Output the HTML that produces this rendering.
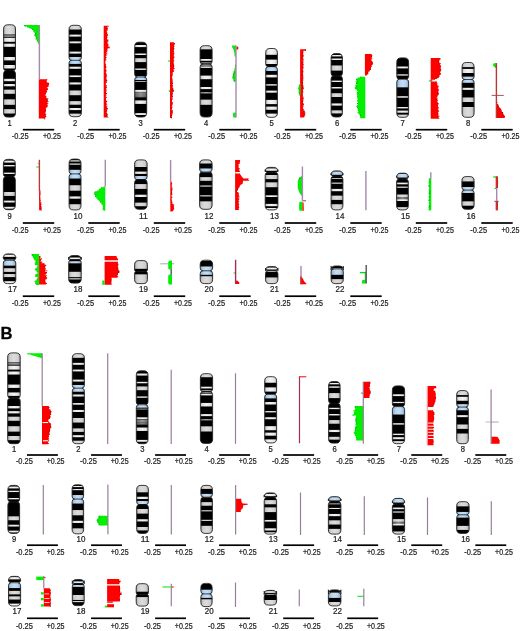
<!DOCTYPE html><html><head><meta charset="utf-8"><style>html,body{margin:0;padding:0;background:#fff;}svg{display:block;}text{font-family:"Liberation Sans",sans-serif;font-size:8.5px;fill:#1a1a1a;stroke:#1a1a1a;stroke-width:0.22px;fill-opacity:0.99;stroke-opacity:0.99;}</style></head><body>
<svg width="520" height="631" viewBox="0 0 520 631">
<defs>
<linearGradient id="gW" x1="0" x2="1" y1="0" y2="0"><stop offset="0" stop-color="#9a9a9a"/><stop offset="0.25" stop-color="#e4e4e4"/><stop offset="0.5" stop-color="#f4f4f4"/><stop offset="0.75" stop-color="#e4e4e4"/><stop offset="1" stop-color="#9a9a9a"/></linearGradient>
<linearGradient id="gG" x1="0" x2="1" y1="0" y2="0"><stop offset="0" stop-color="#8a8a8a"/><stop offset="0.25" stop-color="#d0d0d0"/><stop offset="0.5" stop-color="#dcdcdc"/><stop offset="0.75" stop-color="#d0d0d0"/><stop offset="1" stop-color="#8a8a8a"/></linearGradient>
<linearGradient id="gD" x1="0" x2="1" y1="0" y2="0"><stop offset="0" stop-color="#444"/><stop offset="0.5" stop-color="#8a8a8a"/><stop offset="1" stop-color="#444"/></linearGradient>
<linearGradient id="gM" x1="0" x2="1" y1="0" y2="0"><stop offset="0" stop-color="#555"/><stop offset="0.5" stop-color="#9c9c9c"/><stop offset="1" stop-color="#555"/></linearGradient>
<linearGradient id="gC" x1="0" x2="1" y1="0" y2="0"><stop offset="0" stop-color="#6f93b8"/><stop offset="0.3" stop-color="#b4d4f0"/><stop offset="0.5" stop-color="#c4def4"/><stop offset="0.7" stop-color="#b4d4f0"/><stop offset="1" stop-color="#6f93b8"/></linearGradient>
<filter id="tb" x="-5%" y="-5%" width="110%" height="110%"><feGaussianBlur stdDeviation="0.22"/></filter>
<filter id="soft" x="0" y="0" width="100%" height="100%" filterUnits="userSpaceOnUse"><feGaussianBlur stdDeviation="0.3"/></filter>
</defs>
<rect width="520" height="631" fill="#fff"/>
<g filter="url(#soft)">
<clipPath id="a1"><path d="M7.8,24.8L11.3,24.8Q15.5,24.8 15.5,29L15.5,68Q15.5,70.52 13.2,70.8Q15.5,71.08 15.5,73.6L15.5,112.9Q15.5,117.1 11.3,117.1L7.8,117.1Q3.6,117.1 3.6,112.9L3.6,73.6Q3.6,71.08 5.9,70.8Q3.6,70.52 3.6,68L3.6,29Q3.6,24.8 7.8,24.8Z"/></clipPath>
<g clip-path="url(#a1)">
<rect x="2.2" y="23.4" width="14.7" height="95.1" fill="url(#gW)"/>
<rect x="2.2" y="24.4" width="14.7" height="10.1" fill="url(#gG)"/>
<rect x="2.2" y="34.5" width="14.7" height="1.2" fill="#000"/>
<rect x="2.2" y="35.7" width="14.7" height="0.9" fill="url(#gG)"/>
<rect x="2.2" y="36.6" width="14.7" height="1.2" fill="#000"/>
<rect x="2.2" y="41.8" width="14.7" height="1.9" fill="#000"/>
<rect x="2.2" y="46.8" width="14.7" height="10.2" fill="#000"/>
<rect x="2.2" y="60.4" width="14.7" height="4.6" fill="#000"/>
<rect x="2.2" y="68.5" width="14.7" height="10.3" fill="#000"/>
<rect x="2.2" y="81.2" width="14.7" height="2.8" fill="#000"/>
<rect x="2.2" y="86.3" width="14.7" height="3.5" fill="#000"/>
<rect x="2.2" y="89.8" width="14.7" height="4" fill="url(#gG)"/>
<rect x="2.2" y="93.8" width="14.7" height="5.8" fill="#000"/>
<rect x="2.2" y="99.6" width="14.7" height="5.2" fill="url(#gG)"/>
<rect x="2.2" y="104.8" width="14.7" height="4.6" fill="#000"/>
<rect x="2.2" y="109.4" width="14.7" height="4.1" fill="url(#gG)"/>
<rect x="2.2" y="113.5" width="14.7" height="4" fill="#000"/>
</g>
<path d="M7.8,24.8L11.3,24.8Q15.5,24.8 15.5,29L15.5,68Q15.5,70.52 13.2,70.8Q15.5,71.08 15.5,73.6L15.5,112.9Q15.5,117.1 11.3,117.1L7.8,117.1Q3.6,117.1 3.6,112.9L3.6,73.6Q3.6,71.08 5.9,70.8Q3.6,70.52 3.6,68L3.6,29Q3.6,24.8 7.8,24.8Z" fill="none" stroke="#222" stroke-width="0.9"/>
<line x1="5.4" y1="70.8" x2="13.7" y2="70.8" stroke="#1a1a1a" stroke-width="0.8"/>
<path d="M24.09,25H39.4V25.8H24.09ZM24.81,25.8H39.4V26.6H24.81ZM26.97,26.6H39.4V27.4H26.97ZM28.68,27.4H39.4V28.2H28.68ZM30.56,28.2H39.4V29H30.56ZM32.02,29H39.4V29.8H32.02ZM33.16,29.8H39.4V30.6H33.16ZM33.27,30.6H39.4V31.4H33.27ZM34.19,31.4H39.4V32.2H34.19ZM34.33,32.2H39.4V33H34.33ZM35.11,33H39.4V33.8H35.11ZM35.16,33.8H39.4V34.6H35.16ZM34.4,34.6H39.4V35.4H34.4ZM34.87,35.4H39.4V36.2H34.87ZM34.93,36.2H39.4V37H34.93ZM35.81,37H39.4V37.8H35.81ZM35.96,37.8H39.4V38.6H35.96ZM35.65,38.6H39.4V39.4H35.65ZM36.89,39.4H39.4V40.2H36.89ZM36.75,40.2H39.4V41H36.75ZM37.33,41H39.4V41.8H37.33ZM38.21,41.8H39.4V42.6H38.21ZM37.84,42.6H39.4V43.4H37.84ZM38.59,43.4H39.4V44.2H38.59ZM39.1,44.2H39.4V44.8H39.1Z" fill="#00f000"/>
<path d="M24.09,25h0.9v0.9h-0.9ZM24.81,25.8h0.9v0.9h-0.9ZM32.02,29h0.9v0.9h-0.9ZM33.27,30.6h0.9v0.9h-0.9ZM35.11,33h0.9v0.9h-0.9ZM35.16,33.8h0.9v0.9h-0.9ZM34.4,34.6h0.9v0.9h-0.9ZM35.96,37.8h0.9v0.9h-0.9ZM35.65,38.6h0.9v0.9h-0.9ZM37.33,41h0.9v0.9h-0.9ZM39.1,44.2h0.9v0.9h-0.9Z" fill="#00a000" fill-opacity="0.8"/>
<path d="M38.8,79.3H47.18V80.1H38.8ZM38.8,80.1H46.69V80.9H38.8ZM38.8,80.9H46.68V81.7H38.8ZM38.8,81.7H46.92V82.5H38.8ZM38.8,82.5H48.52V83.3H38.8ZM38.8,83.3H49.14V84.1H38.8ZM38.8,84.1H48.94V84.9H38.8ZM38.8,84.9H48.63V85.7H38.8ZM38.8,85.7H48.9V86.5H38.8ZM38.8,86.5H48V87.3H38.8ZM38.8,87.3H47.02V88.1H38.8ZM38.8,88.1H47.81V88.9H38.8ZM38.8,88.9H48.05V89.7H38.8ZM38.8,89.7H47.31V90.5H38.8ZM38.8,90.5H46.69V91.3H38.8ZM38.8,91.3H46.88V92.1H38.8ZM38.8,92.1H46.39V92.9H38.8ZM38.8,92.9H46.03V93.7H38.8ZM38.8,93.7H45.99V94.5H38.8ZM38.8,94.5H45.21V95.3H38.8ZM38.8,95.3H45.68V96.1H38.8ZM38.8,96.1H46.39V96.9H38.8ZM38.8,96.9H46.12V97.7H38.8ZM38.8,97.7H46.83V98.5H38.8ZM38.8,98.5H48.2V99.3H38.8ZM38.8,99.3H47.36V100.1H38.8ZM38.8,100.1H47.87V100.9H38.8ZM38.8,100.9H48.39V101.7H38.8ZM38.8,101.7H47.24V102.5H38.8ZM38.8,102.5H47.62V103.3H38.8ZM38.8,103.3H48.35V104.1H38.8ZM38.8,104.1H47.45V104.9H38.8ZM38.8,104.9H47.51V105.7H38.8ZM38.8,105.7H47.68V106.5H38.8ZM38.8,106.5H47.46V107.3H38.8ZM38.8,107.3H46.5V108.1H38.8ZM38.8,108.1H45.89V108.9H38.8ZM38.8,108.9H45.7V109.7H38.8ZM38.8,109.7H45.83V110.5H38.8ZM38.8,110.5H45.98V111.3H38.8ZM38.8,111.3H45.37V112.1H38.8ZM38.8,112.1H45.47V112.9H38.8ZM38.8,112.9H45.29V113.7H38.8ZM38.8,113.7H46.17V114.5H38.8ZM38.8,114.5H45.51V115.3H38.8ZM38.8,115.3H45.6V116.1H38.8ZM38.8,116.1H46.29V116.9H38.8ZM38.8,116.9H45.59V117.7H38.8ZM38.8,117.7H44.89V118.5H38.8ZM38.8,118.5H45.25V118.6H38.8Z" fill="#ff0000"/>
<path d="M46.28,79.3h0.9v0.9h-0.9ZM48.24,83.3h0.9v0.9h-0.9ZM47.15,88.9h0.9v0.9h-0.9ZM45.98,91.3h0.9v0.9h-0.9ZM45.13,92.9h0.9v0.9h-0.9ZM47.3,98.5h0.9v0.9h-0.9ZM46.46,99.3h0.9v0.9h-0.9ZM47.49,100.9h0.9v0.9h-0.9ZM46.61,104.9h0.9v0.9h-0.9ZM44.8,108.9h0.9v0.9h-0.9ZM44.93,109.7h0.9v0.9h-0.9ZM45.08,110.5h0.9v0.9h-0.9ZM44.47,111.3h0.9v0.9h-0.9ZM45.27,113.7h0.9v0.9h-0.9ZM44.61,114.5h0.9v0.9h-0.9ZM44.7,115.3h0.9v0.9h-0.9ZM43.99,117.7h0.9v0.9h-0.9ZM44.35,118.5h0.9v0.9h-0.9Z" fill="#b00000" fill-opacity="0.8"/>
<line x1="39.4" y1="25" x2="39.4" y2="79.5" stroke="#a588ae" stroke-width="1.4"/>
<rect x="22.8" y="128.85" width="31.4" height="1.7" fill="#000"/>
<clipPath id="a2"><path d="M73.2,25.3L77.2,25.3Q81.4,25.3 81.4,29.5L81.4,57.5Q81.4,60.02 79.1,60.3Q81.4,60.58 81.4,63.1L81.4,112.5Q81.4,116.7 77.2,116.7L73.2,116.7Q69,116.7 69,112.5L69,63.1Q69,60.58 71.3,60.3Q69,60.02 69,57.5L69,29.5Q69,25.3 73.2,25.3Z"/></clipPath>
<g clip-path="url(#a2)">
<rect x="67.6" y="23.9" width="15.2" height="94.2" fill="url(#gW)"/>
<rect x="67.6" y="24.9" width="15.2" height="4.6" fill="url(#gG)"/>
<rect x="67.6" y="29.5" width="15.2" height="5.1" fill="#000"/>
<rect x="67.6" y="36.6" width="15.2" height="4.8" fill="#000"/>
<rect x="67.6" y="43.3" width="15.2" height="8.3" fill="#000"/>
<rect x="67.6" y="53.6" width="15.2" height="3.6" fill="#000"/>
<rect x="67.6" y="57.2" width="15.2" height="6.7" fill="url(#gC)"/>
<rect x="67.6" y="63.9" width="15.2" height="2.8" fill="#000"/>
<rect x="67.6" y="68.8" width="15.2" height="6.6" fill="#000"/>
<rect x="67.6" y="77.1" width="15.2" height="5.3" fill="#000"/>
<rect x="67.6" y="84.5" width="15.2" height="6.2" fill="#000"/>
<rect x="67.6" y="90.7" width="15.2" height="4.5" fill="url(#gG)"/>
<rect x="67.6" y="95.2" width="15.2" height="6.2" fill="#000"/>
<rect x="67.6" y="101.4" width="15.2" height="3.3" fill="url(#gG)"/>
<rect x="67.6" y="104.7" width="15.2" height="3.3" fill="#000"/>
<rect x="67.6" y="110.1" width="15.2" height="3.7" fill="#000"/>
<rect x="67.6" y="113.8" width="15.2" height="3.3" fill="url(#gG)"/>
</g>
<path d="M73.2,25.3L77.2,25.3Q81.4,25.3 81.4,29.5L81.4,57.5Q81.4,60.02 79.1,60.3Q81.4,60.58 81.4,63.1L81.4,112.5Q81.4,116.7 77.2,116.7L73.2,116.7Q69,116.7 69,112.5L69,63.1Q69,60.58 71.3,60.3Q69,60.02 69,57.5L69,29.5Q69,25.3 73.2,25.3Z" fill="none" stroke="#222" stroke-width="0.9"/>
<line x1="70.8" y1="60.3" x2="79.6" y2="60.3" stroke="#1a1a1a" stroke-width="0.8"/>
<path d="M103.7,25.8H108.54V26.6H103.7ZM103.7,26.6H107.06V27.4H103.7ZM103.7,27.4H107.69V28.2H103.7ZM103.7,28.2H107.61V29H103.7ZM103.7,29H107.5V29.8H103.7ZM103.7,29.8H107.96V30.6H103.7ZM103.7,30.6H106.92V31.4H103.7ZM103.7,31.4H106.69V32.2H103.7ZM103.7,32.2H107.28V33H103.7ZM103.7,33H107V33.8H103.7ZM103.7,33.8H107.81V34.6H103.7ZM103.7,34.6H107.91V35.4H103.7ZM103.7,35.4H107.9V36.2H103.7ZM103.7,36.2H106.99V37H103.7ZM103.7,37H107.24V37.8H103.7ZM103.7,37.8H106.75V38.6H103.7ZM103.7,38.6H107.16V39.4H103.7ZM103.7,39.4H108.32V40.2H103.7ZM103.7,40.2H108.35V41H103.7ZM103.7,41H108.44V41.8H103.7ZM103.7,41.8H107.33V42.6H103.7ZM103.7,42.6H107.35V43.4H103.7ZM103.7,43.4H108.1V44.2H103.7ZM103.7,44.2H108.51V45H103.7ZM103.7,45H108.44V45.8H103.7ZM103.7,45.8H107.94V46.6H103.7ZM103.7,46.6H109.66V47.4H103.7ZM103.7,47.4H109.8V48.2H103.7ZM103.7,48.2H107.69V49H103.7ZM103.7,49H107.23V49.8H103.7ZM103.7,49.8H108.03V50.6H103.7ZM103.7,50.6H106.91V51.4H103.7ZM103.7,51.4H107.21V52.2H103.7ZM103.7,52.2H106.13V53H103.7ZM103.7,53H107.27V53.8H103.7ZM103.7,53.8H105.96V54.6H103.7ZM103.7,54.6H107.19V55.4H103.7ZM103.7,55.4H106.09V56.2H103.7ZM103.7,56.2H105.62V57H103.7ZM103.7,57H106.84V57.8H103.7ZM103.7,57.8H106.01V58.6H103.7ZM103.7,58.6H105.74V59.4H103.7ZM103.7,59.4H106.25V60.2H103.7ZM103.7,60.2H105.34V61H103.7ZM103.7,61H105.37V61.8H103.7ZM103.7,61.8H105.45V62.6H103.7ZM103.7,62.6H105.29V63.4H103.7ZM103.7,63.4H105.69V64.2H103.7ZM103.7,64.2H106.11V65H103.7ZM103.7,65H105.91V65.8H103.7ZM103.7,65.8H106.1V66.6H103.7ZM103.7,66.6H106.2V67.4H103.7ZM103.7,67.4H106.13V68.2H103.7ZM103.7,68.2H105.49V69H103.7ZM103.7,69H105.83V69.8H103.7ZM103.7,69.8H106.76V70.6H103.7ZM103.7,70.6H106.13V71.4H103.7ZM103.7,71.4H106.51V72.2H103.7ZM103.7,72.2H105.8V73H103.7ZM103.7,73H106.03V73.8H103.7ZM103.7,73.8H106.88V74.6H103.7ZM103.7,74.6H106.55V75.4H103.7ZM103.7,75.4H107.12V76.2H103.7ZM103.7,76.2H106.65V77H103.7ZM103.7,77H106.49V77.8H103.7ZM103.7,77.8H106.41V78.6H103.7ZM103.7,78.6H106.45V79.4H103.7ZM103.7,79.4H106.82V80.2H103.7ZM103.7,80.2H107.2V81H103.7ZM103.7,81H106.58V81.8H103.7ZM103.7,81.8H107.02V82.6H103.7ZM103.7,82.6H105.86V83.4H103.7ZM103.7,83.4H105.78V84.2H103.7ZM103.7,84.2H105.77V85H103.7ZM103.7,85H106.9V85.8H103.7ZM103.7,85.8H105.89V86.6H103.7ZM103.7,86.6H106.69V87.4H103.7ZM103.7,87.4H107.03V88.2H103.7ZM103.7,88.2H105.97V89H103.7ZM103.7,89H106.24V89.8H103.7ZM103.7,89.8H107.19V90.6H103.7ZM103.7,90.6H105.87V91.4H103.7ZM103.7,91.4H106.44V92.2H103.7ZM103.7,92.2H105.94V93H103.7ZM103.7,93H106.79V93.8H103.7ZM103.7,93.8H106.53V94.6H103.7ZM103.7,94.6H105.68V95.4H103.7ZM103.7,95.4H106.66V96.2H103.7ZM103.7,96.2H105.77V97H103.7ZM103.7,97H106.94V97.8H103.7ZM103.7,97.8H105.85V98.6H103.7ZM103.7,98.6H105.75V99.4H103.7ZM103.7,99.4H106.13V100.2H103.7ZM103.7,100.2H106.43V101H103.7ZM103.7,101H107.13V101.8H103.7ZM103.7,101.8H106.12V102.6H103.7ZM103.7,102.6H106.86V103.4H103.7ZM103.7,103.4H106.16V104.2H103.7ZM103.7,104.2H107.18V105H103.7ZM103.7,105H106.27V105.8H103.7ZM103.7,105.8H107.32V106.6H103.7ZM103.7,106.6H106.86V107.4H103.7ZM103.7,107.4H107.25V108.2H103.7ZM103.7,108.2H107.91V109H103.7ZM103.7,109H107.51V109.8H103.7ZM103.7,109.8H106.64V110.6H103.7ZM103.7,110.6H107.1V111.4H103.7ZM103.7,111.4H106.48V112.2H103.7ZM103.7,112.2H106.44V113H103.7ZM103.7,113H106.9V113.8H103.7ZM103.7,113.8H107.67V114.6H103.7ZM103.7,114.6H107.3V115.4H103.7ZM103.7,115.4H107.34V116.2H103.7ZM103.7,116.2H107.48V117H103.7ZM103.7,117H108.48V117.5H103.7Z" fill="#ff0000"/>
<path d="M107.64,25.8h0.9v0.9h-0.9ZM106.79,27.4h0.9v0.9h-0.9ZM106.71,28.2h0.9v0.9h-0.9ZM106.1,33h0.9v0.9h-0.9ZM106.34,37h0.9v0.9h-0.9ZM105.85,37.8h0.9v0.9h-0.9ZM106.43,41.8h0.9v0.9h-0.9ZM106.45,42.6h0.9v0.9h-0.9ZM106.31,51.4h0.9v0.9h-0.9ZM105.23,52.2h0.9v0.9h-0.9ZM104.72,56.2h0.9v0.9h-0.9ZM105.35,59.4h0.9v0.9h-0.9ZM104.44,60.2h0.9v0.9h-0.9ZM105.3,66.6h0.9v0.9h-0.9ZM105.23,67.4h0.9v0.9h-0.9ZM105.13,73h0.9v0.9h-0.9ZM106.3,80.2h0.9v0.9h-0.9ZM106.12,81.8h0.9v0.9h-0.9ZM104.88,83.4h0.9v0.9h-0.9ZM105.79,86.6h0.9v0.9h-0.9ZM105.54,91.4h0.9v0.9h-0.9ZM105.04,92.2h0.9v0.9h-0.9ZM105.89,93h0.9v0.9h-0.9ZM104.78,94.6h0.9v0.9h-0.9ZM104.95,97.8h0.9v0.9h-0.9ZM105.23,99.4h0.9v0.9h-0.9ZM106.23,101h0.9v0.9h-0.9ZM105.26,103.4h0.9v0.9h-0.9ZM107.01,108.2h0.9v0.9h-0.9ZM105.74,109.8h0.9v0.9h-0.9ZM106.2,110.6h0.9v0.9h-0.9ZM105.58,111.4h0.9v0.9h-0.9ZM105.54,112.2h0.9v0.9h-0.9ZM106,113h0.9v0.9h-0.9ZM106.77,113.8h0.9v0.9h-0.9ZM106.4,114.6h0.9v0.9h-0.9ZM106.44,115.4h0.9v0.9h-0.9ZM106.58,116.2h0.9v0.9h-0.9Z" fill="#b00000" fill-opacity="0.8"/>
<rect x="88.3" y="128.85" width="31.4" height="1.7" fill="#000"/>
<clipPath id="a3"><path d="M138.9,42.2L142.5,42.2Q146.7,42.2 146.7,46.4L146.7,74.2Q146.7,76.72 144.4,77Q146.7,77.28 146.7,79.8L146.7,112.8Q146.7,117 142.5,117L138.9,117Q134.7,117 134.7,112.8L134.7,79.8Q134.7,77.28 137,77Q134.7,76.72 134.7,74.2L134.7,46.4Q134.7,42.2 138.9,42.2Z"/></clipPath>
<g clip-path="url(#a3)">
<rect x="133.3" y="40.8" width="14.8" height="77.6" fill="url(#gW)"/>
<rect x="133.3" y="41.8" width="14.8" height="3.2" fill="#000"/>
<rect x="133.3" y="47.1" width="14.8" height="6.4" fill="#000"/>
<rect x="133.3" y="55" width="14.8" height="3.5" fill="#000"/>
<rect x="133.3" y="58.5" width="14.8" height="3.6" fill="url(#gG)"/>
<rect x="133.3" y="62.1" width="14.8" height="6.4" fill="#000"/>
<rect x="133.3" y="69.9" width="14.8" height="6.4" fill="#000"/>
<rect x="133.3" y="76.3" width="14.8" height="3.7" fill="url(#gC)"/>
<rect x="133.3" y="80" width="14.8" height="1.1" fill="#000"/>
<rect x="133.3" y="81.8" width="14.8" height="8.1" fill="#000"/>
<rect x="133.3" y="91.9" width="14.8" height="0.7" fill="#000"/>
<rect x="133.3" y="92.6" width="14.8" height="2.2" fill="url(#gM)"/>
<rect x="133.3" y="94.8" width="14.8" height="0.6" fill="#000"/>
<rect x="133.3" y="95.4" width="14.8" height="1.8" fill="url(#gD)"/>
<rect x="133.3" y="97.2" width="14.8" height="3.2" fill="#000"/>
<rect x="133.3" y="103.9" width="14.8" height="9.2" fill="#000"/>
<rect x="133.3" y="115" width="14.8" height="2.4" fill="#000"/>
</g>
<path d="M138.9,42.2L142.5,42.2Q146.7,42.2 146.7,46.4L146.7,74.2Q146.7,76.72 144.4,77Q146.7,77.28 146.7,79.8L146.7,112.8Q146.7,117 142.5,117L138.9,117Q134.7,117 134.7,112.8L134.7,79.8Q134.7,77.28 137,77Q134.7,76.72 134.7,74.2L134.7,46.4Q134.7,42.2 138.9,42.2Z" fill="none" stroke="#222" stroke-width="0.9"/>
<line x1="136.5" y1="77" x2="144.9" y2="77" stroke="#1a1a1a" stroke-width="0.8"/>
<path d="M170,42.3H173.92V43.1H170ZM170,43.1H174.81V43.9H170ZM170,43.9H174.66V44.7H170ZM170,44.7H174.26V45.5H170ZM170,45.5H174.12V46.3H170ZM170,46.3H174.47V47.1H170ZM170,47.1H174.04V47.9H170ZM170,47.9H174.47V48.7H170ZM170,48.7H174.1V49.5H170ZM170,49.5H173.67V50.3H170ZM170,50.3H173.68V51.1H170ZM170,51.1H173.91V51.9H170ZM170,51.9H173.7V52.7H170ZM170,52.7H174.64V53.5H170ZM170,53.5H173.94V54.3H170ZM170,54.3H173.95V55.1H170ZM170,55.1H173.79V55.9H170ZM170,55.9H173.92V56.7H170ZM170,56.7H174.77V57.5H170ZM170,57.5H173.89V58.3H170ZM170,58.3H173.97V59.1H170ZM170,59.1H173.6V59.9H170ZM170,59.9H174.16V60.7H170ZM170,60.7H173.8V61.5H170ZM170,61.5H173.54V62.3H170ZM170,62.3H173.62V63.1H170ZM170,63.1H173.53V63.9H170ZM170,63.9H173.82V64.7H170ZM170,64.7H174.13V65.5H170ZM170,65.5H174.3V66.3H170ZM170,66.3H174.21V67.1H170ZM170,67.1H173.77V67.9H170ZM170,67.9H174.43V68.7H170ZM170,68.7H174.06V69.5H170ZM170,69.5H173.19V70.3H170ZM170,70.3H174.16V71.1H170ZM170,71.1H173.91V71.9H170ZM170,71.9H172.89V72.7H170ZM170,72.7H172.6V73.5H170ZM170,73.5H172.86V74.3H170ZM170,74.3H172.58V75.1H170ZM170,75.1H172.69V75.9H170ZM170,75.9H172.13V76.7H170ZM170,76.7H172V77.5H170ZM170,77.5H171.96V78.3H170ZM170,78.3H172.49V79.1H170ZM170,79.1H172.56V79.9H170ZM170,79.9H172.4V80.7H170ZM170,80.7H172.81V81.5H170ZM170,81.5H172.5V82.3H170ZM170,82.3H172.73V83.1H170ZM170,83.1H172.86V83.9H170ZM170,83.9H172.1V84.7H170ZM170,84.7H172.93V85.5H170ZM170,85.5H172.98V86.3H170ZM170,86.3H172.73V87.1H170ZM170,87.1H172.75V87.9H170ZM170,87.9H173.24V88.7H170ZM170,88.7H173.39V89.5H170ZM170,89.5H173.11V90.3H170ZM170,90.3H174.03V91.1H170ZM170,91.1H173.37V91.9H170ZM170,91.9H172.41V92.7H170ZM170,92.7H172.99V93.5H170ZM170,93.5H172.83V94.3H170ZM170,94.3H172.48V95.1H170ZM170,95.1H172.35V95.9H170ZM170,95.9H172.86V96.7H170ZM170,96.7H172.95V97.5H170ZM170,97.5H171.79V98.3H170ZM170,98.3H172.75V99.1H170ZM170,99.1H172.29V99.9H170ZM170,99.9H172V100.7H170ZM170,100.7H171.99V101.5H170ZM170,101.5H171.9V102.3H170ZM170,102.3H172.87V103.1H170ZM170,103.1H172.7V103.9H170ZM170,103.9H172.77V104.7H170ZM170,104.7H171.98V105.5H170ZM170,105.5H172.28V106.3H170ZM170,106.3H171.7V107.1H170ZM170,107.1H172.24V107.9H170ZM170,107.9H171.87V108.7H170ZM170,108.7H172.08V109.5H170ZM170,109.5H171.7V110.3H170ZM170,110.3H172.71V111.1H170ZM170,111.1H172.81V111.9H170ZM170,111.9H172.78V112.7H170ZM170,112.7H172.15V113.5H170ZM170,113.5H172.9V114.3H170ZM170,114.3H172.13V115.1H170ZM170,115.1H172.03V115.9H170ZM170,115.9H171.82V116.7H170ZM170,116.7H172.04V117.5H170ZM170,117.5H172V118H170Z" fill="#ff0000"/>
<path d="M173.91,43.1h0.9v0.9h-0.9ZM173.2,48.7h0.9v0.9h-0.9ZM172.77,49.5h0.9v0.9h-0.9ZM173.01,51.1h0.9v0.9h-0.9ZM173.04,53.5h0.9v0.9h-0.9ZM172.64,61.5h0.9v0.9h-0.9ZM172.63,63.1h0.9v0.9h-0.9ZM172.92,63.9h0.9v0.9h-0.9ZM172.87,67.1h0.9v0.9h-0.9ZM173.53,67.9h0.9v0.9h-0.9ZM171.23,75.9h0.9v0.9h-0.9ZM171.5,79.9h0.9v0.9h-0.9ZM171.83,82.3h0.9v0.9h-0.9ZM171.96,83.1h0.9v0.9h-0.9ZM171.2,83.9h0.9v0.9h-0.9ZM172.03,84.7h0.9v0.9h-0.9ZM172.49,88.7h0.9v0.9h-0.9ZM172.21,89.5h0.9v0.9h-0.9ZM173.13,90.3h0.9v0.9h-0.9ZM172.47,91.1h0.9v0.9h-0.9ZM171.51,91.9h0.9v0.9h-0.9ZM171.93,93.5h0.9v0.9h-0.9ZM171.45,95.1h0.9v0.9h-0.9ZM171.96,95.9h0.9v0.9h-0.9ZM171.39,99.1h0.9v0.9h-0.9ZM171.97,102.3h0.9v0.9h-0.9ZM171.38,105.5h0.9v0.9h-0.9ZM171.34,107.1h0.9v0.9h-0.9ZM170.97,107.9h0.9v0.9h-0.9ZM171.81,110.3h0.9v0.9h-0.9ZM171.88,111.9h0.9v0.9h-0.9ZM171.13,115.1h0.9v0.9h-0.9ZM171.1,117.5h0.9v0.9h-0.9Z" fill="#b00000" fill-opacity="0.8"/>
<line x1="168.2" y1="61" x2="170.2" y2="61" stroke="#00e000" stroke-width="1.2"/>
<line x1="168.8" y1="91" x2="170.2" y2="91" stroke="#00e000" stroke-width="1.6"/>
<rect x="153.8" y="128.85" width="31.4" height="1.7" fill="#000"/>
<clipPath id="a4"><path d="M204.3,45.7L207.9,45.7Q212.1,45.7 212.1,49.9L212.1,61.3Q212.1,63.82 209.8,64.1Q212.1,64.38 212.1,66.9L212.1,112.8Q212.1,117 207.9,117L204.3,117Q200.1,117 200.1,112.8L200.1,66.9Q200.1,64.38 202.4,64.1Q200.1,63.82 200.1,61.3L200.1,49.9Q200.1,45.7 204.3,45.7Z"/></clipPath>
<g clip-path="url(#a4)">
<rect x="198.7" y="44.3" width="14.8" height="74.1" fill="url(#gW)"/>
<rect x="198.7" y="45.3" width="14.8" height="4" fill="url(#gG)"/>
<rect x="198.7" y="49.3" width="14.8" height="9.7" fill="#000"/>
<rect x="198.7" y="60.8" width="14.8" height="1.8" fill="#000"/>
<rect x="198.7" y="62.6" width="14.8" height="0.8" fill="url(#gM)"/>
<rect x="198.7" y="63.4" width="14.8" height="1" fill="#000"/>
<rect x="198.7" y="64.4" width="14.8" height="1.4" fill="url(#gM)"/>
<rect x="198.7" y="65.8" width="14.8" height="0.6" fill="#000"/>
<rect x="198.7" y="67.9" width="14.8" height="7.7" fill="#000"/>
<rect x="198.7" y="79.2" width="14.8" height="7.8" fill="#000"/>
<rect x="198.7" y="89.1" width="14.8" height="3.1" fill="#000"/>
<rect x="198.7" y="92.2" width="14.8" height="1.2" fill="url(#gM)"/>
<rect x="198.7" y="93.4" width="14.8" height="6.4" fill="#000"/>
<rect x="198.7" y="99.8" width="14.8" height="5" fill="url(#gG)"/>
<rect x="198.7" y="104.8" width="14.8" height="12.6" fill="#000"/>
</g>
<path d="M204.3,45.7L207.9,45.7Q212.1,45.7 212.1,49.9L212.1,61.3Q212.1,63.82 209.8,64.1Q212.1,64.38 212.1,66.9L212.1,112.8Q212.1,117 207.9,117L204.3,117Q200.1,117 200.1,112.8L200.1,66.9Q200.1,64.38 202.4,64.1Q200.1,63.82 200.1,61.3L200.1,49.9Q200.1,45.7 204.3,45.7Z" fill="none" stroke="#222" stroke-width="0.9"/>
<line x1="201.9" y1="64.1" x2="210.3" y2="64.1" stroke="#1a1a1a" stroke-width="0.8"/>
<polygon points="236,45.4 232.2,45.5 231.8,46.5 232.6,48 233.7,50 234.4,53 234.6,56.4 236,56.6" fill="#00f000"/>
<path d="M235.13,64.8H236V65.6H235.13ZM234.87,65.6H236V66.4H234.87ZM235.13,66.4H236V67.2H235.13ZM234.78,67.2H236V68H234.78ZM234.87,68H236V68.8H234.87ZM234.54,68.8H236V69.6H234.54ZM234.39,69.6H236V70.4H234.39ZM234.24,70.4H236V71.2H234.24ZM233.63,71.2H236V72H233.63ZM233.87,72H236V72.8H233.87ZM233.24,72.8H236V73.6H233.24ZM232.84,73.6H236V74.4H232.84ZM233.24,74.4H236V75.2H233.24ZM232.83,75.2H236V76H232.83ZM232.67,76H236V76.8H232.67ZM232.44,76.8H236V77.6H232.44ZM232.56,77.6H236V78.4H232.56ZM232.88,78.4H236V79.2H232.88ZM233.54,79.2H236V80H233.54ZM233.59,80H236V80.8H233.59ZM233.77,80.8H236V81.5H233.77Z" fill="#00f000"/>
<path d="M235.13,64.8h0.9v0.9h-0.9ZM234.54,68.8h0.9v0.9h-0.9ZM233.63,71.2h0.9v0.9h-0.9ZM233.87,72h0.9v0.9h-0.9ZM233.24,72.8h0.9v0.9h-0.9ZM233.24,74.4h0.9v0.9h-0.9ZM232.83,75.2h0.9v0.9h-0.9ZM232.44,76.8h0.9v0.9h-0.9ZM232.88,78.4h0.9v0.9h-0.9ZM233.59,80h0.9v0.9h-0.9ZM233.77,80.8h0.9v0.9h-0.9Z" fill="#00a000" fill-opacity="0.8"/>
<polygon points="236,112.5 233.2,112.8 233,115.5 233.5,117.4 236,117.4" fill="#00f000"/>
<polygon points="236.2,46.6 238.3,46.8 238.3,49.4 236.2,49.6" fill="#ff0000"/>
<line x1="236" y1="45.4" x2="236" y2="117.4" stroke="#a588ae" stroke-width="1.4"/>
<rect x="219.3" y="128.85" width="31.4" height="1.7" fill="#000"/>
<clipPath id="a5"><path d="M269.9,48.5L273.2,48.5Q277.4,48.5 277.4,52.7L277.4,63.9Q277.4,66.42 275.1,66.7Q277.4,66.98 277.4,69.5L277.4,113.1Q277.4,117.3 273.2,117.3L269.9,117.3Q265.7,117.3 265.7,113.1L265.7,69.5Q265.7,66.98 268,66.7Q265.7,66.42 265.7,63.9L265.7,52.7Q265.7,48.5 269.9,48.5Z"/></clipPath>
<g clip-path="url(#a5)">
<rect x="264.3" y="47.1" width="14.5" height="71.6" fill="url(#gW)"/>
<rect x="264.3" y="54.8" width="14.5" height="4.8" fill="#000"/>
<rect x="264.3" y="64" width="14.5" height="3.1" fill="#000"/>
<rect x="264.3" y="67.1" width="14.5" height="3.9" fill="url(#gC)"/>
<rect x="264.3" y="71" width="14.5" height="3.8" fill="#000"/>
<rect x="264.3" y="77.4" width="14.5" height="6.8" fill="#000"/>
<rect x="264.3" y="85.6" width="14.5" height="5" fill="#000"/>
<rect x="264.3" y="92.7" width="14.5" height="7.2" fill="#000"/>
<rect x="264.3" y="104.1" width="14.5" height="2.5" fill="#000"/>
<rect x="264.3" y="109.8" width="14.5" height="3.8" fill="#000"/>
</g>
<path d="M269.9,48.5L273.2,48.5Q277.4,48.5 277.4,52.7L277.4,63.9Q277.4,66.42 275.1,66.7Q277.4,66.98 277.4,69.5L277.4,113.1Q277.4,117.3 273.2,117.3L269.9,117.3Q265.7,117.3 265.7,113.1L265.7,69.5Q265.7,66.98 268,66.7Q265.7,66.42 265.7,63.9L265.7,52.7Q265.7,48.5 269.9,48.5Z" fill="none" stroke="#222" stroke-width="0.9"/>
<line x1="267.5" y1="66.7" x2="275.6" y2="66.7" stroke="#1a1a1a" stroke-width="0.8"/>
<path d="M300.1,49.2H305.94V50H300.1ZM300.1,50H305.84V50.8H300.1ZM300.1,50.8H303.35V51.6H300.1ZM300.1,51.6H303.52V52.4H300.1ZM300.1,52.4H303.17V53.2H300.1ZM300.1,53.2H303.11V54H300.1ZM300.1,54H302.78V54.8H300.1ZM300.1,54.8H303.67V55.6H300.1ZM300.1,55.6H303.19V56.4H300.1ZM300.1,56.4H303.53V57.2H300.1ZM300.1,57.2H302.92V58H300.1ZM300.1,58H303.03V58.8H300.1ZM300.1,58.8H303.57V59.6H300.1ZM300.1,59.6H303.47V60.4H300.1ZM300.1,60.4H302.65V61.2H300.1ZM300.1,61.2H303.53V62H300.1ZM300.1,62H303.24V62.8H300.1ZM300.1,62.8H303.06V63.6H300.1ZM300.1,63.6H303.51V64.4H300.1ZM300.1,64.4H303.67V65.2H300.1ZM300.1,65.2H302.82V66H300.1ZM300.1,66H303.25V66.8H300.1ZM300.1,66.8H303.69V67.6H300.1ZM300.1,67.6H303.41V68.4H300.1ZM300.1,68.4H303.23V69.2H300.1ZM300.1,69.2H302.83V70H300.1ZM300.1,70H303.02V70.8H300.1ZM300.1,70.8H303.41V71.6H300.1ZM300.1,71.6H302.87V72.4H300.1ZM300.1,72.4H303.35V73.2H300.1ZM300.1,73.2H302.8V74H300.1ZM300.1,74H303.19V74.8H300.1ZM300.1,74.8H303.03V75.6H300.1ZM300.1,75.6H303.22V76.4H300.1ZM300.1,76.4H302.9V77.2H300.1ZM300.1,77.2H303.53V78H300.1ZM300.1,78H303.43V78.8H300.1ZM300.1,78.8H302.76V79.6H300.1ZM300.1,79.6H303.46V80.4H300.1ZM300.1,80.4H302.82V81.2H300.1ZM300.1,81.2H303.03V82H300.1ZM300.1,82H302.97V82.8H300.1ZM300.1,82.8H303.23V83.6H300.1ZM300.1,83.6H302.81V84.4H300.1ZM300.1,84.4H302.93V85.2H300.1ZM300.1,85.2H303.29V86H300.1ZM300.1,86H303.43V86.8H300.1ZM300.1,86.8H303.15V87.6H300.1ZM300.1,87.6H303.63V88.4H300.1ZM300.1,88.4H303.5V89.2H300.1ZM300.1,89.2H302.91V90H300.1ZM300.1,90H302.99V90.8H300.1ZM300.1,90.8H303.18V91.6H300.1ZM300.1,91.6H302.9V92.4H300.1ZM300.1,92.4H303.34V93.2H300.1ZM300.1,93.2H302.81V94H300.1ZM300.1,94H302.87V94.8H300.1ZM300.1,94.8H302.79V95.6H300.1ZM300.1,95.6H302.7V96.4H300.1ZM300.1,96.4H303.53V97.2H300.1ZM300.1,97.2H303.36V98H300.1ZM300.1,98H303.55V98.8H300.1ZM300.1,98.8H302.79V99.6H300.1ZM300.1,99.6H303.35V100.4H300.1ZM300.1,100.4H303.29V101.2H300.1ZM300.1,101.2H303.02V102H300.1ZM300.1,102H302.84V102.8H300.1ZM300.1,102.8H302.98V103.6H300.1ZM300.1,103.6H303.68V104.4H300.1ZM300.1,104.4H303.71V105.2H300.1ZM300.1,105.2H303.12V106H300.1ZM300.1,106H303.61V106.8H300.1ZM300.1,106.8H302.87V107.6H300.1ZM300.1,107.6H303.21V108.4H300.1ZM300.1,108.4H303.06V109.2H300.1ZM300.1,109.2H303.78V110H300.1ZM300.1,110H303.66V110.8H300.1ZM300.1,110.8H304.73V111.6H300.1ZM300.1,111.6H304.43V112.4H300.1ZM300.1,112.4H305.32V113.2H300.1ZM300.1,113.2H305.15V114H300.1ZM300.1,114H304.74V114.8H300.1ZM300.1,114.8H305.36V115.6H300.1ZM300.1,115.6H304.66V116.4H300.1ZM300.1,116.4H304.16V117.2H300.1ZM300.1,117.2H303.14V117.4H300.1Z" fill="#ff0000"/>
<path d="M305.04,49.2h0.9v0.9h-0.9ZM304.94,50h0.9v0.9h-0.9ZM302.21,53.2h0.9v0.9h-0.9ZM301.88,54h0.9v0.9h-0.9ZM302.77,54.8h0.9v0.9h-0.9ZM302.63,56.4h0.9v0.9h-0.9ZM302.02,57.2h0.9v0.9h-0.9ZM302.57,59.6h0.9v0.9h-0.9ZM302.34,62h0.9v0.9h-0.9ZM302.77,64.4h0.9v0.9h-0.9ZM301.92,65.2h0.9v0.9h-0.9ZM302.51,70.8h0.9v0.9h-0.9ZM301.97,71.6h0.9v0.9h-0.9ZM301.9,73.2h0.9v0.9h-0.9ZM302.13,74.8h0.9v0.9h-0.9ZM302.32,75.6h0.9v0.9h-0.9ZM301.86,78.8h0.9v0.9h-0.9ZM301.92,80.4h0.9v0.9h-0.9ZM302.07,82h0.9v0.9h-0.9ZM301.91,83.6h0.9v0.9h-0.9ZM302.39,85.2h0.9v0.9h-0.9ZM302.25,86.8h0.9v0.9h-0.9ZM302.73,87.6h0.9v0.9h-0.9ZM302.6,88.4h0.9v0.9h-0.9ZM302.28,90.8h0.9v0.9h-0.9ZM301.89,94.8h0.9v0.9h-0.9ZM302.65,98h0.9v0.9h-0.9ZM302.45,99.6h0.9v0.9h-0.9ZM302.12,101.2h0.9v0.9h-0.9ZM301.94,102h0.9v0.9h-0.9ZM302.78,103.6h0.9v0.9h-0.9ZM302.81,104.4h0.9v0.9h-0.9ZM302.88,109.2h0.9v0.9h-0.9ZM303.83,110.8h0.9v0.9h-0.9ZM303.53,111.6h0.9v0.9h-0.9ZM304.42,112.4h0.9v0.9h-0.9ZM303.84,114h0.9v0.9h-0.9ZM303.26,116.4h0.9v0.9h-0.9Z" fill="#b00000" fill-opacity="0.8"/>
<path d="M299.36,84.3H300.4V85.1H299.36ZM299.21,85.1H300.4V85.9H299.21ZM298.61,85.9H300.4V86.7H298.61ZM298.87,86.7H300.4V87.5H298.87ZM298.35,87.5H300.4V88.3H298.35ZM298.39,88.3H300.4V89.1H298.39ZM298.73,89.1H300.4V89.9H298.73ZM298.7,89.9H300.4V90.7H298.7ZM298.75,90.7H300.4V91.5H298.75ZM298.66,91.5H300.4V92.3H298.66ZM298.68,92.3H300.4V93.1H298.68ZM299.17,93.1H300.4V93.9H299.17ZM299.03,93.9H300.4V94.7H299.03ZM299.21,94.7H300.4V95H299.21Z" fill="#00f000"/>
<path d="M299.21,85.1h0.9v0.9h-0.9ZM298.35,87.5h0.9v0.9h-0.9ZM298.73,89.1h0.9v0.9h-0.9ZM298.66,91.5h0.9v0.9h-0.9ZM299.17,93.1h0.9v0.9h-0.9ZM299.21,94.7h0.9v0.9h-0.9Z" fill="#00a000" fill-opacity="0.8"/>
<rect x="284.8" y="128.85" width="31.4" height="1.7" fill="#000"/>
<clipPath id="a6"><path d="M335.3,53.6L338.2,53.6Q342.4,53.6 342.4,57.8L342.4,73.2Q342.4,75.72 340.1,76Q342.4,76.28 342.4,78.8L342.4,112.8Q342.4,117 338.2,117L335.3,117Q331.1,117 331.1,112.8L331.1,78.8Q331.1,76.28 333.4,76Q331.1,75.72 331.1,73.2L331.1,57.8Q331.1,53.6 335.3,53.6Z"/></clipPath>
<g clip-path="url(#a6)">
<rect x="329.7" y="52.2" width="14.1" height="66.2" fill="url(#gW)"/>
<rect x="329.7" y="53.2" width="14.1" height="1.8" fill="#000"/>
<rect x="329.7" y="56.4" width="14.1" height="2.1" fill="#000"/>
<rect x="329.7" y="60" width="14.1" height="5.7" fill="#000"/>
<rect x="329.7" y="65.7" width="14.1" height="4.9" fill="url(#gG)"/>
<rect x="329.7" y="70.6" width="14.1" height="10" fill="#000"/>
<rect x="329.7" y="82" width="14.1" height="5" fill="#000"/>
<rect x="329.7" y="88.5" width="14.1" height="5" fill="#000"/>
<rect x="329.7" y="93.5" width="14.1" height="3.5" fill="url(#gG)"/>
<rect x="329.7" y="97" width="14.1" height="6.4" fill="#000"/>
<rect x="329.7" y="105.6" width="14.1" height="5" fill="#000"/>
<rect x="329.7" y="110.6" width="14.1" height="2.8" fill="url(#gG)"/>
<rect x="329.7" y="113.4" width="14.1" height="4" fill="#000"/>
</g>
<path d="M335.3,53.6L338.2,53.6Q342.4,53.6 342.4,57.8L342.4,73.2Q342.4,75.72 340.1,76Q342.4,76.28 342.4,78.8L342.4,112.8Q342.4,117 338.2,117L335.3,117Q331.1,117 331.1,112.8L331.1,78.8Q331.1,76.28 333.4,76Q331.1,75.72 331.1,73.2L331.1,57.8Q331.1,53.6 335.3,53.6Z" fill="none" stroke="#222" stroke-width="0.9"/>
<line x1="332.9" y1="76" x2="340.6" y2="76" stroke="#1a1a1a" stroke-width="0.8"/>
<path d="M364.9,53.9H371.64V54.7H364.9ZM364.9,54.7H371.99V55.5H364.9ZM364.9,55.5H372.66V56.3H364.9ZM364.9,56.3H371.92V57.1H364.9ZM364.9,57.1H371.72V57.9H364.9ZM364.9,57.9H372.32V58.7H364.9ZM364.9,58.7H371.42V59.5H364.9ZM364.9,59.5H371.54V60.3H364.9ZM364.9,60.3H371.49V61.1H364.9ZM364.9,61.1H372.13V61.9H364.9ZM364.9,61.9H372.87V62.7H364.9ZM364.9,62.7H372.7V63.5H364.9ZM364.9,63.5H373.07V64.3H364.9ZM364.9,64.3H372.11V65.1H364.9ZM364.9,65.1H371.56V65.9H364.9ZM364.9,65.9H371.67V66.7H364.9ZM364.9,66.7H371.11V67.5H364.9ZM364.9,67.5H370.9V68.3H364.9ZM364.9,68.3H370.92V69.1H364.9ZM364.9,69.1H370.8V69.9H364.9ZM364.9,69.9H369.8V70.7H364.9ZM364.9,70.7H369.79V71.5H364.9ZM364.9,71.5H368.37V72.3H364.9ZM364.9,72.3H368.01V73.1H364.9ZM364.9,73.1H368.42V73.9H364.9ZM364.9,73.9H367.65V74.7H364.9ZM364.9,74.7H366.79V75.5H364.9ZM364.9,75.5H365.39V75.6H364.9Z" fill="#ff0000"/>
<path d="M371.02,56.3h0.9v0.9h-0.9ZM371.23,61.1h0.9v0.9h-0.9ZM371.97,61.9h0.9v0.9h-0.9ZM372.17,63.5h0.9v0.9h-0.9ZM371.21,64.3h0.9v0.9h-0.9ZM370.77,65.9h0.9v0.9h-0.9ZM370,67.5h0.9v0.9h-0.9ZM369.9,69.1h0.9v0.9h-0.9ZM367.47,71.5h0.9v0.9h-0.9ZM367.11,72.3h0.9v0.9h-0.9Z" fill="#b00000" fill-opacity="0.8"/>
<path d="M359.92,76.7H365.3V77.5H359.92ZM357.86,77.5H365.3V78.3H357.86ZM356.78,78.3H365.3V79.1H356.78ZM356.19,79.1H365.3V79.9H356.19ZM356.28,79.9H365.3V80.7H356.28ZM356.76,80.7H365.3V81.5H356.76ZM355.8,81.5H365.3V82.3H355.8ZM356.66,82.3H365.3V83.1H356.66ZM356.08,83.1H365.3V83.9H356.08ZM356.62,83.9H365.3V84.7H356.62ZM355.36,84.7H365.3V85.5H355.36ZM355.58,85.5H365.3V86.3H355.58ZM355.68,86.3H365.3V87.1H355.68ZM354.77,87.1H365.3V87.9H354.77ZM354.87,87.9H365.3V88.7H354.87ZM355.67,88.7H365.3V89.5H355.67ZM356.62,89.5H365.3V90.3H356.62ZM356.83,90.3H365.3V91.1H356.83ZM357.57,91.1H365.3V91.9H357.57ZM356.9,91.9H365.3V92.7H356.9ZM357.44,92.7H365.3V93.5H357.44ZM356.46,93.5H365.3V94.3H356.46ZM357.08,94.3H365.3V95.1H357.08ZM357.13,95.1H365.3V95.9H357.13ZM357.3,95.9H365.3V96.7H357.3ZM356.77,96.7H365.3V97.5H356.77ZM357.74,97.5H365.3V98.3H357.74ZM357.07,98.3H365.3V99.1H357.07ZM357.56,99.1H365.3V99.9H357.56ZM357.28,99.9H365.3V100.7H357.28ZM357.74,100.7H365.3V101.5H357.74ZM357.1,101.5H365.3V102.3H357.1ZM358.01,102.3H365.3V103.1H358.01ZM357.1,103.1H365.3V103.9H357.1ZM358.08,103.9H365.3V104.7H358.08ZM357.26,104.7H365.3V105.5H357.26ZM356.99,105.5H365.3V106.3H356.99ZM356.07,106.3H365.3V107.1H356.07ZM357,107.1H365.3V107.9H357ZM357.72,107.9H365.3V108.7H357.72ZM357.51,108.7H365.3V109.5H357.51ZM358.42,109.5H365.3V110.3H358.42ZM357.68,110.3H365.3V111.1H357.68ZM358.18,111.1H365.3V111.9H358.18ZM357.7,111.9H365.3V112.7H357.7ZM358.67,112.7H365.3V113.5H358.67ZM358.2,113.5H365.3V114.3H358.2ZM359.68,114.3H365.3V115.1H359.68ZM360.14,115.1H365.3V115.9H360.14ZM360.07,115.9H365.3V116.7H360.07ZM360.38,116.7H365.3V117.5H360.38ZM360.35,117.5H365.3V118.3H360.35Z" fill="#00f000"/>
<path d="M359.92,76.7h0.9v0.9h-0.9ZM356.19,79.1h0.9v0.9h-0.9ZM356.76,80.7h0.9v0.9h-0.9ZM355.8,81.5h0.9v0.9h-0.9ZM356.66,82.3h0.9v0.9h-0.9ZM356.08,83.1h0.9v0.9h-0.9ZM355.36,84.7h0.9v0.9h-0.9ZM355.68,86.3h0.9v0.9h-0.9ZM354.87,87.9h0.9v0.9h-0.9ZM356.9,91.9h0.9v0.9h-0.9ZM357.44,92.7h0.9v0.9h-0.9ZM357.3,95.9h0.9v0.9h-0.9ZM357.28,99.9h0.9v0.9h-0.9ZM357.1,103.1h0.9v0.9h-0.9ZM357.26,104.7h0.9v0.9h-0.9ZM357,107.1h0.9v0.9h-0.9ZM357.72,107.9h0.9v0.9h-0.9ZM358.42,109.5h0.9v0.9h-0.9ZM357.7,111.9h0.9v0.9h-0.9ZM359.68,114.3h0.9v0.9h-0.9ZM360.14,115.1h0.9v0.9h-0.9ZM360.38,116.7h0.9v0.9h-0.9Z" fill="#00a000" fill-opacity="0.8"/>
<rect x="350.3" y="128.85" width="31.4" height="1.7" fill="#000"/>
<clipPath id="a7"><path d="M401,57.9L404.4,57.9Q408.6,57.9 408.6,62.1L408.6,76.4Q408.6,78.92 406.3,79.2Q408.6,79.48 408.6,82L408.6,113.1Q408.6,117.3 404.4,117.3L401,117.3Q396.8,117.3 396.8,113.1L396.8,82Q396.8,79.48 399.1,79.2Q396.8,78.92 396.8,76.4L396.8,62.1Q396.8,57.9 401,57.9Z"/></clipPath>
<g clip-path="url(#a7)">
<rect x="395.4" y="56.5" width="14.6" height="62.2" fill="url(#gW)"/>
<rect x="395.4" y="57.5" width="14.6" height="9" fill="#000"/>
<rect x="395.4" y="68.4" width="14.6" height="5.9" fill="#000"/>
<rect x="395.4" y="75.6" width="14.6" height="3.6" fill="#000"/>
<rect x="395.4" y="79.2" width="14.6" height="8.1" fill="url(#gC)"/>
<rect x="395.4" y="87.3" width="14.6" height="8.9" fill="#000"/>
<rect x="395.4" y="97.7" width="14.6" height="9.3" fill="#000"/>
<rect x="395.4" y="108.4" width="14.6" height="2.2" fill="#000"/>
<rect x="395.4" y="112.7" width="14.6" height="2.1" fill="#000"/>
<rect x="395.4" y="114.8" width="14.6" height="2.9" fill="url(#gG)"/>
</g>
<path d="M401,57.9L404.4,57.9Q408.6,57.9 408.6,62.1L408.6,76.4Q408.6,78.92 406.3,79.2Q408.6,79.48 408.6,82L408.6,113.1Q408.6,117.3 404.4,117.3L401,117.3Q396.8,117.3 396.8,113.1L396.8,82Q396.8,79.48 399.1,79.2Q396.8,78.92 396.8,76.4L396.8,62.1Q396.8,57.9 401,57.9Z" fill="none" stroke="#222" stroke-width="0.9"/>
<line x1="398.6" y1="79.2" x2="406.8" y2="79.2" stroke="#1a1a1a" stroke-width="0.8"/>
<path d="M430.7,58.1H440.47V58.9H430.7ZM430.7,58.9H440.41V59.7H430.7ZM430.7,59.7H439.68V60.5H430.7ZM430.7,60.5H439.04V61.3H430.7ZM430.7,61.3H439.36V62.1H430.7ZM430.7,62.1H439.15V62.9H430.7ZM430.7,62.9H440.57V63.7H430.7ZM430.7,63.7H440.15V64.5H430.7ZM430.7,64.5H440.11V65.3H430.7ZM430.7,65.3H440.61V66.1H430.7ZM430.7,66.1H440.76V66.9H430.7ZM430.7,66.9H440.88V67.7H430.7ZM430.7,67.7H440.61V68.5H430.7ZM430.7,68.5H440.6V69.3H430.7ZM430.7,69.3H441.14V70.1H430.7ZM430.7,70.1H440.99V70.9H430.7ZM430.7,70.9H440.77V71.7H430.7ZM430.7,71.7H440.06V72.5H430.7ZM430.7,72.5H440.36V73.3H430.7ZM430.7,73.3H440.8V74.1H430.7ZM430.7,74.1H440.59V74.9H430.7ZM430.7,74.9H439.42V75.7H430.7ZM430.7,75.7H439.57V76.5H430.7ZM430.7,76.5H439.06V77.3H430.7ZM430.7,77.3H438.18V78.1H430.7ZM430.7,78.1H437V78.9H430.7ZM430.7,78.9H434.84V79.7H430.7ZM430.7,79.7H433.23V79.8H430.7Z" fill="#ff0000"/>
<path d="M438.14,60.5h0.9v0.9h-0.9ZM438.25,62.1h0.9v0.9h-0.9ZM439.67,62.9h0.9v0.9h-0.9ZM439.71,65.3h0.9v0.9h-0.9ZM439.86,66.1h0.9v0.9h-0.9ZM439.71,67.7h0.9v0.9h-0.9ZM440.24,69.3h0.9v0.9h-0.9ZM439.9,73.3h0.9v0.9h-0.9ZM438.67,75.7h0.9v0.9h-0.9ZM438.16,76.5h0.9v0.9h-0.9ZM437.28,77.3h0.9v0.9h-0.9ZM433.94,78.9h0.9v0.9h-0.9ZM432.33,79.7h0.9v0.9h-0.9Z" fill="#b00000" fill-opacity="0.8"/>
<path d="M430.7,81.4H436.67V82.2H430.7ZM430.7,82.2H436.89V83H430.7ZM430.7,83H437.57V83.8H430.7ZM430.7,83.8H437.09V84.6H430.7ZM430.7,84.6H437.39V85.4H430.7ZM430.7,85.4H438.37V86.2H430.7ZM430.7,86.2H438.75V87H430.7ZM430.7,87H438.4V87.8H430.7ZM430.7,87.8H437.83V88.6H430.7ZM430.7,88.6H438.46V89.4H430.7ZM430.7,89.4H438.66V90.2H430.7ZM430.7,90.2H438.89V91H430.7ZM430.7,91H438.13V91.8H430.7ZM430.7,91.8H438.23V92.6H430.7ZM430.7,92.6H438.59V93.4H430.7ZM430.7,93.4H438.68V94.2H430.7ZM430.7,94.2H438.47V95H430.7ZM430.7,95H438.18V95.8H430.7ZM430.7,95.8H437.42V96.6H430.7ZM430.7,96.6H436.64V97.4H430.7ZM430.7,97.4H437.45V98.2H430.7ZM430.7,98.2H437.43V99H430.7ZM430.7,99H437.08V99.8H430.7ZM430.7,99.8H437.83V100.6H430.7ZM430.7,100.6H437.24V101.4H430.7ZM430.7,101.4H437.55V102.2H430.7ZM430.7,102.2H437.88V103H430.7ZM430.7,103H438.42V103.8H430.7ZM430.7,103.8H438.48V104.6H430.7ZM430.7,104.6H437.92V105.4H430.7ZM430.7,105.4H438.07V106.2H430.7ZM430.7,106.2H437.92V107H430.7ZM430.7,107H438.87V107.8H430.7ZM430.7,107.8H438.33V108.6H430.7ZM430.7,108.6H437.89V109.4H430.7ZM430.7,109.4H438.57V110.2H430.7ZM430.7,110.2H438.7V111H430.7ZM430.7,111H439.09V111.8H430.7ZM430.7,111.8H438.3V112.6H430.7ZM430.7,112.6H438.09V113.4H430.7ZM430.7,113.4H438.56V114.2H430.7ZM430.7,114.2H438.18V115H430.7ZM430.7,115H438.16V115.8H430.7ZM430.7,115.8H439.31V116.6H430.7ZM430.7,116.6H438.46V117.4H430.7ZM430.7,117.4H438.87V118.2H430.7ZM430.7,118.2H439.26V118.7H430.7Z" fill="#ff0000"/>
<path d="M435.77,81.4h0.9v0.9h-0.9ZM437.76,89.4h0.9v0.9h-0.9ZM437.33,91.8h0.9v0.9h-0.9ZM437.69,92.6h0.9v0.9h-0.9ZM437.78,93.4h0.9v0.9h-0.9ZM436.52,95.8h0.9v0.9h-0.9ZM435.74,96.6h0.9v0.9h-0.9ZM436.18,99h0.9v0.9h-0.9ZM436.93,99.8h0.9v0.9h-0.9ZM437.52,103h0.9v0.9h-0.9ZM437.17,105.4h0.9v0.9h-0.9ZM437.43,107.8h0.9v0.9h-0.9ZM437.66,113.4h0.9v0.9h-0.9ZM438.41,115.8h0.9v0.9h-0.9ZM438.36,118.2h0.9v0.9h-0.9Z" fill="#b00000" fill-opacity="0.8"/>
<line x1="428.8" y1="81" x2="431" y2="81" stroke="#00e000" stroke-width="1"/>
<line x1="431.1" y1="79.5" x2="431.1" y2="81.6" stroke="#a03050" stroke-width="1.4"/>
<rect x="415.8" y="128.85" width="31.4" height="1.7" fill="#000"/>
<clipPath id="a8"><path d="M466.3,62.5L469.9,62.5Q474.1,62.5 474.1,66.7L474.1,76.7Q474.1,79.22 471.8,79.5Q474.1,79.78 474.1,82.3L474.1,113.1Q474.1,117.3 469.9,117.3L466.3,117.3Q462.1,117.3 462.1,113.1L462.1,82.3Q462.1,79.78 464.4,79.5Q462.1,79.22 462.1,76.7L462.1,66.7Q462.1,62.5 466.3,62.5Z"/></clipPath>
<g clip-path="url(#a8)">
<rect x="460.7" y="61.1" width="14.8" height="57.6" fill="url(#gW)"/>
<rect x="460.7" y="62.1" width="14.8" height="5" fill="url(#gG)"/>
<rect x="460.7" y="67.1" width="14.8" height="1.8" fill="#000"/>
<rect x="460.7" y="73" width="14.8" height="3.8" fill="#000"/>
<rect x="460.7" y="76.8" width="14.8" height="6" fill="url(#gC)"/>
<rect x="460.7" y="82.8" width="14.8" height="5" fill="#000"/>
<rect x="460.7" y="89.9" width="14.8" height="7.8" fill="#000"/>
<rect x="460.7" y="97.7" width="14.8" height="4.3" fill="url(#gG)"/>
<rect x="460.7" y="102" width="14.8" height="5" fill="#000"/>
<rect x="460.7" y="107" width="14.8" height="10.7" fill="url(#gG)"/>
</g>
<path d="M466.3,62.5L469.9,62.5Q474.1,62.5 474.1,66.7L474.1,76.7Q474.1,79.22 471.8,79.5Q474.1,79.78 474.1,82.3L474.1,113.1Q474.1,117.3 469.9,117.3L466.3,117.3Q462.1,117.3 462.1,113.1L462.1,82.3Q462.1,79.78 464.4,79.5Q462.1,79.22 462.1,76.7L462.1,66.7Q462.1,62.5 466.3,62.5Z" fill="none" stroke="#222" stroke-width="0.9"/>
<line x1="463.9" y1="79.5" x2="472.3" y2="79.5" stroke="#1a1a1a" stroke-width="0.8"/>
<polygon points="496.4,63.1 493.2,63.6 493.1,65.5 494.6,67.2 496.4,68.2" fill="#00f000"/>
<path d="M496.4,100.7H496.71V101.5H496.4ZM496.4,101.5H496.7V102.3H496.4ZM496.4,102.3H497.6V103.1H496.4ZM496.4,103.1H497.11V103.9H496.4ZM496.4,103.9H498.17V104.7H496.4ZM496.4,104.7H498.5V105.5H496.4ZM496.4,105.5H498.48V106.3H496.4ZM496.4,106.3H498.99V107.1H496.4ZM496.4,107.1H499.59V107.9H496.4ZM496.4,107.9H500.44V108.7H496.4ZM496.4,108.7H500.95V109.5H496.4ZM496.4,109.5H501.29V110.3H496.4ZM496.4,110.3H501.94V111.1H496.4ZM496.4,111.1H501.82V111.9H496.4ZM496.4,111.9H502.92V112.7H496.4ZM496.4,112.7H503.23V113.5H496.4ZM496.4,113.5H503.01V114.3H496.4ZM496.4,114.3H503.89V115.1H496.4ZM496.4,115.1H504.3V115.9H496.4ZM496.4,115.9H504.83V116.7H496.4ZM496.4,116.7H504.55V117.5H496.4ZM496.4,117.5H505.01V118H496.4Z" fill="#ff0000"/>
<path d="M495.81,100.7h0.9v0.9h-0.9ZM497.58,105.5h0.9v0.9h-0.9ZM498.09,106.3h0.9v0.9h-0.9ZM500.05,108.7h0.9v0.9h-0.9ZM502.02,111.9h0.9v0.9h-0.9ZM502.33,112.7h0.9v0.9h-0.9ZM502.11,113.5h0.9v0.9h-0.9ZM503.4,115.1h0.9v0.9h-0.9ZM503.93,115.9h0.9v0.9h-0.9Z" fill="#b00000" fill-opacity="0.8"/>
<line x1="491.6" y1="95.4" x2="503.8" y2="95.4" stroke="#a84040" stroke-width="0.9"/>
<line x1="496.4" y1="63.1" x2="496.4" y2="118" stroke="#b83838" stroke-width="1.4"/>
<rect x="481.3" y="128.85" width="31.4" height="1.7" fill="#000"/>
<clipPath id="a9"><path d="M7.6,159.4L11.1,159.4Q15.3,159.4 15.3,163.6L15.3,173.9Q15.3,176.42 13,176.7Q15.3,176.98 15.3,179.5L15.3,205.5Q15.3,209.7 11.1,209.7L7.6,209.7Q3.4,209.7 3.4,205.5L3.4,179.5Q3.4,176.98 5.7,176.7Q3.4,176.42 3.4,173.9L3.4,163.6Q3.4,159.4 7.6,159.4Z"/></clipPath>
<g clip-path="url(#a9)">
<rect x="2" y="158" width="14.7" height="53.1" fill="url(#gW)"/>
<rect x="2" y="159" width="14.7" height="1.6" fill="#000"/>
<rect x="2" y="162.6" width="14.7" height="2.4" fill="#000"/>
<rect x="2" y="166.4" width="14.7" height="6.2" fill="#000"/>
<rect x="2" y="174" width="14.7" height="18.1" fill="#000"/>
<rect x="2" y="192.1" width="14.7" height="3.8" fill="url(#gG)"/>
<rect x="2" y="195.9" width="14.7" height="4.7" fill="#000"/>
<rect x="2" y="202.5" width="14.7" height="4.3" fill="#000"/>
<rect x="2" y="208.7" width="14.7" height="1.4" fill="#000"/>
</g>
<path d="M7.6,159.4L11.1,159.4Q15.3,159.4 15.3,163.6L15.3,173.9Q15.3,176.42 13,176.7Q15.3,176.98 15.3,179.5L15.3,205.5Q15.3,209.7 11.1,209.7L7.6,209.7Q3.4,209.7 3.4,205.5L3.4,179.5Q3.4,176.98 5.7,176.7Q3.4,176.42 3.4,173.9L3.4,163.6Q3.4,159.4 7.6,159.4Z" fill="none" stroke="#222" stroke-width="0.9"/>
<line x1="5.2" y1="176.7" x2="13.5" y2="176.7" stroke="#1a1a1a" stroke-width="0.8"/>
<path d="M39.1,190.6H40.54V191.4H39.1ZM39.1,191.4H40.4V192.2H39.1ZM39.1,192.2H40.6V193H39.1ZM39.1,193H40.41V193.8H39.1ZM39.1,193.8H40.54V194.6H39.1ZM39.1,194.6H40.27V195.4H39.1ZM39.1,195.4H40.16V196.2H39.1ZM39.1,196.2H40.22V197H39.1ZM39.1,197H40.19V197.8H39.1ZM39.1,197.8H40.38V198.6H39.1ZM39.1,198.6H40.12V199.4H39.1ZM39.1,199.4H40.65V200.2H39.1ZM39.1,200.2H40.78V201H39.1ZM39.1,201H40.43V201.8H39.1ZM39.1,201.8H40.83V202.6H39.1ZM39.1,202.6H41.36V203.4H39.1ZM39.1,203.4H40.91V204.2H39.1ZM39.1,204.2H41.65V205H39.1ZM39.1,205H41.03V205.8H39.1ZM39.1,205.8H41.06V206.6H39.1ZM39.1,206.6H41.67V207.4H39.1ZM39.1,207.4H41.53V208.2H39.1ZM39.1,208.2H41.55V209H39.1ZM39.1,209H41.15V209.8H39.1ZM39.1,209.8H41.7V210.2H39.1Z" fill="#ff0000"/>
<path d="M39.64,193.8h0.9v0.9h-0.9ZM39.32,196.2h0.9v0.9h-0.9ZM39.48,197.8h0.9v0.9h-0.9ZM39.22,198.6h0.9v0.9h-0.9ZM40.13,205h0.9v0.9h-0.9ZM40.16,205.8h0.9v0.9h-0.9ZM40.65,208.2h0.9v0.9h-0.9ZM40.25,209h0.9v0.9h-0.9ZM40.8,209.8h0.9v0.9h-0.9Z" fill="#b00000" fill-opacity="0.8"/>
<line x1="36.2" y1="167" x2="39.4" y2="167" stroke="#00e000" stroke-width="0.9"/>
<line x1="37.8" y1="163.5" x2="39.4" y2="163.5" stroke="#00e000" stroke-width="0.7"/>
<line x1="39.4" y1="159.8" x2="39.4" y2="191" stroke="#b83838" stroke-width="1.4"/>
<rect x="22.8" y="222.15" width="31.4" height="1.7" fill="#000"/>
<clipPath id="a10"><path d="M73.3,159.1L76.8,159.1Q81,159.1 81,163.3L81,171.1Q81,173.62 78.7,173.9Q81,174.18 81,176.7L81,205.7Q81,209.9 76.8,209.9L73.3,209.9Q69.1,209.9 69.1,205.7L69.1,176.7Q69.1,174.18 71.4,173.9Q69.1,173.62 69.1,171.1L69.1,163.3Q69.1,159.1 73.3,159.1Z"/></clipPath>
<g clip-path="url(#a10)">
<rect x="67.7" y="157.7" width="14.7" height="53.6" fill="url(#gW)"/>
<rect x="67.7" y="158.7" width="14.7" height="1.6" fill="#000"/>
<rect x="67.7" y="161.5" width="14.7" height="2" fill="#000"/>
<rect x="67.7" y="164.7" width="14.7" height="5.2" fill="#000"/>
<rect x="67.7" y="169.9" width="14.7" height="8.6" fill="url(#gC)"/>
<rect x="67.7" y="178.5" width="14.7" height="7" fill="#000"/>
<rect x="67.7" y="185.5" width="14.7" height="5.2" fill="url(#gG)"/>
<rect x="67.7" y="190.7" width="14.7" height="5.7" fill="#000"/>
<rect x="67.7" y="198.7" width="14.7" height="5.8" fill="#000"/>
<rect x="67.7" y="204.5" width="14.7" height="5.8" fill="url(#gG)"/>
</g>
<path d="M73.3,159.1L76.8,159.1Q81,159.1 81,163.3L81,171.1Q81,173.62 78.7,173.9Q81,174.18 81,176.7L81,205.7Q81,209.9 76.8,209.9L73.3,209.9Q69.1,209.9 69.1,205.7L69.1,176.7Q69.1,174.18 71.4,173.9Q69.1,173.62 69.1,171.1L69.1,163.3Q69.1,159.1 73.3,159.1Z" fill="none" stroke="#222" stroke-width="0.9"/>
<line x1="70.9" y1="173.9" x2="79.2" y2="173.9" stroke="#1a1a1a" stroke-width="0.8"/>
<path d="M103.53,186.4H105.3V187.2H103.53ZM101.2,187.2H105.3V188H101.2ZM100.5,188H105.3V188.8H100.5ZM99.43,188.8H105.3V189.6H99.43ZM98.71,189.6H105.3V190.4H98.71ZM96.99,190.4H105.3V191.2H96.99ZM94.74,191.2H105.3V192H94.74ZM94.21,192H105.3V192.8H94.21ZM94.09,192.8H105.3V193.6H94.09ZM94.35,193.6H105.3V194.4H94.35ZM94.89,194.4H105.3V195.2H94.89ZM95.5,195.2H105.3V196H95.5ZM95.02,196H105.3V196.8H95.02ZM96.5,196.8H105.3V197.6H96.5ZM95.81,197.6H105.3V198.4H95.81ZM97.22,198.4H105.3V199.2H97.22ZM97.64,199.2H105.3V200H97.64ZM98.66,200H105.3V200.8H98.66ZM99.29,200.8H105.3V201.6H99.29ZM100.05,201.6H105.3V202.4H100.05ZM101.34,202.4H105.3V203.2H101.34ZM101.11,203.2H105.3V204H101.11ZM101.5,204H105.3V204.8H101.5ZM102.71,204.8H105.3V205.6H102.71ZM102.74,205.6H105.3V206.4H102.74ZM102.55,206.4H105.3V207.2H102.55ZM103.36,207.2H105.3V208H103.36ZM103.43,208H105.3V208.8H103.43ZM102.54,208.8H105.3V209.6H102.54ZM103.67,209.6H105.3V210.4H103.67ZM103.16,210.4H105.3V210.8H103.16Z" fill="#00f000"/>
<path d="M101.2,187.2h0.9v0.9h-0.9ZM99.43,188.8h0.9v0.9h-0.9ZM94.35,193.6h0.9v0.9h-0.9ZM94.89,194.4h0.9v0.9h-0.9ZM95.5,195.2h0.9v0.9h-0.9ZM95.02,196h0.9v0.9h-0.9ZM100.05,201.6h0.9v0.9h-0.9ZM103.36,207.2h0.9v0.9h-0.9ZM103.43,208h0.9v0.9h-0.9ZM102.54,208.8h0.9v0.9h-0.9Z" fill="#00a000" fill-opacity="0.8"/>
<line x1="105.3" y1="159.8" x2="105.3" y2="186.5" stroke="#a588ae" stroke-width="1.4"/>
<rect x="88.3" y="222.15" width="31.4" height="1.7" fill="#000"/>
<clipPath id="a11"><path d="M138.8,159.9L142.9,159.9Q147.1,159.9 147.1,164.1L147.1,176.9Q147.1,179.42 144.8,179.7Q147.1,179.98 147.1,182.5L147.1,205.1Q147.1,209.3 142.9,209.3L138.8,209.3Q134.6,209.3 134.6,205.1L134.6,182.5Q134.6,179.98 136.9,179.7Q134.6,179.42 134.6,176.9L134.6,164.1Q134.6,159.9 138.8,159.9Z"/></clipPath>
<g clip-path="url(#a11)">
<rect x="133.2" y="158.5" width="15.3" height="52.2" fill="url(#gW)"/>
<rect x="133.2" y="159.5" width="15.3" height="7.5" fill="url(#gG)"/>
<rect x="133.2" y="167" width="15.3" height="4.6" fill="#000"/>
<rect x="133.2" y="173.9" width="15.3" height="2.3" fill="#000"/>
<rect x="133.2" y="176.2" width="15.3" height="2.9" fill="url(#gC)"/>
<rect x="133.2" y="179.1" width="15.3" height="5.2" fill="#000"/>
<rect x="133.2" y="184.3" width="15.3" height="4.6" fill="url(#gG)"/>
<rect x="133.2" y="188.9" width="15.3" height="5.8" fill="#000"/>
<rect x="133.2" y="197" width="15.3" height="5.8" fill="#000"/>
<rect x="133.2" y="202.8" width="15.3" height="3.4" fill="url(#gG)"/>
<rect x="133.2" y="206.2" width="15.3" height="3.5" fill="#000"/>
</g>
<path d="M138.8,159.9L142.9,159.9Q147.1,159.9 147.1,164.1L147.1,176.9Q147.1,179.42 144.8,179.7Q147.1,179.98 147.1,182.5L147.1,205.1Q147.1,209.3 142.9,209.3L138.8,209.3Q134.6,209.3 134.6,205.1L134.6,182.5Q134.6,179.98 136.9,179.7Q134.6,179.42 134.6,176.9L134.6,164.1Q134.6,159.9 138.8,159.9Z" fill="none" stroke="#222" stroke-width="0.9"/>
<line x1="136.4" y1="179.7" x2="145.3" y2="179.7" stroke="#1a1a1a" stroke-width="0.8"/>
<path d="M170.3,181.4H171.55V182.2H170.3ZM170.3,182.2H171.89V183H170.3ZM170.3,183H172.15V183.8H170.3ZM170.3,183.8H171.78V184.6H170.3ZM170.3,184.6H171.62V185.4H170.3ZM170.3,185.4H172.17V186.2H170.3ZM170.3,186.2H171.71V187H170.3ZM170.3,187H172.35V187.8H170.3ZM170.3,187.8H171.74V188.6H170.3ZM170.3,188.6H172.54V189.4H170.3ZM170.3,189.4H171.88V190.2H170.3ZM170.3,190.2H172.38V191H170.3ZM170.3,191H171.8V191.8H170.3ZM170.3,191.8H171.86V192.6H170.3ZM170.3,192.6H172.1V193.4H170.3ZM170.3,193.4H171.88V194.2H170.3ZM170.3,194.2H172.49V195H170.3ZM170.3,195H171.59V195.8H170.3ZM170.3,195.8H171.55V196.6H170.3ZM170.3,196.6H172.4V197.4H170.3ZM170.3,197.4H172.12V198.2H170.3ZM170.3,198.2H171.55V199H170.3ZM170.3,199H171.43V199.8H170.3ZM170.3,199.8H171.72V200.6H170.3ZM170.3,200.6H171.88V201.4H170.3ZM170.3,201.4H172.32V202.2H170.3ZM170.3,202.2H172.41V203H170.3ZM170.3,203H172.15V203.8H170.3ZM170.3,203.8H173.28V204.6H170.3ZM170.3,204.6H174.12V205.4H170.3ZM170.3,205.4H173.8V206.2H170.3ZM170.3,206.2H173.67V207H170.3ZM170.3,207H173.99V207.8H170.3ZM170.3,207.8H174.06V208.6H170.3ZM170.3,208.6H174.15V209.4H170.3ZM170.3,209.4H173.67V210.2H170.3ZM170.3,210.2H173.08V211H170.3ZM170.3,211H172.66V211.4H170.3Z" fill="#ff0000"/>
<path d="M170.88,183.8h0.9v0.9h-0.9ZM171.64,188.6h0.9v0.9h-0.9ZM170.98,189.4h0.9v0.9h-0.9ZM170.9,191h0.9v0.9h-0.9ZM170.96,191.8h0.9v0.9h-0.9ZM171.2,192.6h0.9v0.9h-0.9ZM170.98,193.4h0.9v0.9h-0.9ZM170.53,199h0.9v0.9h-0.9ZM170.82,199.8h0.9v0.9h-0.9ZM172.77,206.2h0.9v0.9h-0.9Z" fill="#b00000" fill-opacity="0.8"/>
<line x1="170.6" y1="160.1" x2="170.6" y2="181.6" stroke="#a588ae" stroke-width="1.4"/>
<rect x="153.8" y="222.15" width="31.4" height="1.7" fill="#000"/>
<clipPath id="a12"><path d="M203.8,159.9L207.9,159.9Q212.1,159.9 212.1,164.1L212.1,169.2Q212.1,171.72 209.8,172Q212.1,172.28 212.1,174.8L212.1,205.1Q212.1,209.3 207.9,209.3L203.8,209.3Q199.6,209.3 199.6,205.1L199.6,174.8Q199.6,172.28 201.9,172Q199.6,171.72 199.6,169.2L199.6,164.1Q199.6,159.9 203.8,159.9Z"/></clipPath>
<g clip-path="url(#a12)">
<rect x="198.2" y="158.5" width="15.3" height="52.2" fill="url(#gW)"/>
<rect x="198.2" y="159.5" width="15.3" height="4" fill="url(#gG)"/>
<rect x="198.2" y="163.5" width="15.3" height="5.2" fill="#000"/>
<rect x="198.2" y="168.7" width="15.3" height="3.5" fill="url(#gC)"/>
<rect x="198.2" y="172.2" width="15.3" height="5.2" fill="#000"/>
<rect x="198.2" y="177.4" width="15.3" height="3.4" fill="url(#gG)"/>
<rect x="198.2" y="180.8" width="15.3" height="4.7" fill="#000"/>
<rect x="198.2" y="186.6" width="15.3" height="8.7" fill="#000"/>
<rect x="198.2" y="196.4" width="15.3" height="5.2" fill="#000"/>
<rect x="198.2" y="201.6" width="15.3" height="8.1" fill="url(#gG)"/>
</g>
<path d="M203.8,159.9L207.9,159.9Q212.1,159.9 212.1,164.1L212.1,169.2Q212.1,171.72 209.8,172Q212.1,172.28 212.1,174.8L212.1,205.1Q212.1,209.3 207.9,209.3L203.8,209.3Q199.6,209.3 199.6,205.1L199.6,174.8Q199.6,172.28 201.9,172Q199.6,171.72 199.6,169.2L199.6,164.1Q199.6,159.9 203.8,159.9Z" fill="none" stroke="#222" stroke-width="0.9"/>
<line x1="201.4" y1="172" x2="210.3" y2="172" stroke="#1a1a1a" stroke-width="0.8"/>
<path d="M235.1,160H240.14V160.8H235.1ZM235.1,160.8H239.96V161.6H235.1ZM235.1,161.6H239.71V162.4H235.1ZM235.1,162.4H239.95V163.2H235.1ZM235.1,163.2H239.59V164H235.1ZM235.1,164H238.44V164.8H235.1ZM235.1,164.8H238.79V165.6H235.1ZM235.1,165.6H238.69V166.4H235.1ZM235.1,166.4H238.39V167.2H235.1ZM235.1,167.2H238.77V168H235.1ZM235.1,168H239.86V168.8H235.1ZM235.1,168.8H238.91V169.6H235.1ZM235.1,169.6H239.5V170.4H235.1ZM235.1,170.4H239.53V171.2H235.1ZM235.1,171.2H239.97V172H235.1ZM235.1,172H235.49V172.8H235.1ZM235.1,172.8H235.4V173.6H235.1ZM235.1,173.6H240.19V174.4H235.1ZM235.1,174.4H240.34V175.2H235.1ZM235.1,175.2H241.09V176H235.1ZM235.1,176H241.59V176.8H235.1ZM235.1,176.8H242V177.6H235.1ZM235.1,177.6H243.2V178.4H235.1ZM235.1,178.4H248.42V179.2H235.1ZM235.1,179.2H248.27V180H235.1ZM235.1,180H249.13V180.8H235.1ZM235.1,180.8H242.9V181.6H235.1ZM235.1,181.6H242.85V182.4H235.1ZM235.1,182.4H242.28V183.2H235.1ZM235.1,183.2H242.77V184H235.1ZM235.1,184H241.56V184.8H235.1ZM235.1,184.8H240.47V185.6H235.1ZM235.1,185.6H239.82V186.4H235.1ZM235.1,186.4H239.74V187.2H235.1ZM235.1,187.2H238.68V188H235.1ZM235.1,188H238.28V188.8H235.1ZM235.1,188.8H238.25V189.6H235.1ZM235.1,189.6H237.91V190.4H235.1ZM235.1,190.4H236.97V191.2H235.1ZM235.1,191.2H236.92V192H235.1ZM235.1,192H238.09V192.8H235.1ZM235.1,192.8H238.65V193.6H235.1ZM235.1,193.6H238.68V194.4H235.1ZM235.1,194.4H238.84V195.2H235.1ZM235.1,195.2H239.13V196H235.1ZM235.1,196H239.47V196.8H235.1ZM235.1,196.8H238.43V197.6H235.1ZM235.1,197.6H239.46V198.4H235.1ZM235.1,198.4H238.55V199.2H235.1ZM235.1,199.2H239.15V200H235.1ZM235.1,200H238.4V200.8H235.1ZM235.1,200.8H239.14V201.6H235.1ZM235.1,201.6H238.44V202.4H235.1ZM235.1,202.4H238.57V203.2H235.1ZM235.1,203.2H238.67V204H235.1ZM235.1,204H239.31V204.8H235.1ZM235.1,204.8H238.41V205.6H235.1ZM235.1,205.6H238.97V206.4H235.1ZM235.1,206.4H239.07V207.2H235.1ZM235.1,207.2H239.25V208H235.1ZM235.1,208H238.57V208.8H235.1ZM235.1,208.8H239V209.6H235.1ZM235.1,209.6H238.92V210.1H235.1Z" fill="#ff0000"/>
<path d="M239.06,160.8h0.9v0.9h-0.9ZM240.19,175.2h0.9v0.9h-0.9ZM247.52,178.4h0.9v0.9h-0.9ZM241.95,181.6h0.9v0.9h-0.9ZM237.78,187.2h0.9v0.9h-0.9ZM237.38,188h0.9v0.9h-0.9ZM237.01,189.6h0.9v0.9h-0.9ZM236.07,190.4h0.9v0.9h-0.9ZM236.02,191.2h0.9v0.9h-0.9ZM237.75,192.8h0.9v0.9h-0.9ZM238.25,199.2h0.9v0.9h-0.9ZM238.24,200.8h0.9v0.9h-0.9ZM237.54,201.6h0.9v0.9h-0.9ZM237.77,203.2h0.9v0.9h-0.9Z" fill="#b00000" fill-opacity="0.8"/>
<rect x="219.3" y="222.15" width="31.4" height="1.7" fill="#000"/>
<clipPath id="a13"><path d="M269.4,167.4L273.7,167.4Q277.9,167.4 277.9,171.6L277.9,169.7Q277.9,172.22 275.6,172.5Q277.9,172.78 277.9,175.3L277.9,205.7Q277.9,209.9 273.7,209.9L269.4,209.9Q265.2,209.9 265.2,205.7L265.2,175.3Q265.2,172.78 267.5,172.5Q265.2,172.22 265.2,169.7L265.2,171.6Q265.2,167.4 269.4,167.4Z"/></clipPath>
<g clip-path="url(#a13)">
<rect x="263.8" y="166" width="15.5" height="45.3" fill="url(#gW)"/>
<rect x="263.8" y="167" width="15.5" height="1.4" fill="#000"/>
<rect x="263.8" y="170.8" width="15.5" height="4.3" fill="#000"/>
<rect x="263.8" y="175.1" width="15.5" height="4" fill="url(#gG)"/>
<rect x="263.8" y="179.1" width="15.5" height="3.5" fill="#000"/>
<rect x="263.8" y="182.6" width="15.5" height="4.6" fill="url(#gG)"/>
<rect x="263.8" y="187.2" width="15.5" height="8.1" fill="#000"/>
<rect x="263.8" y="197" width="15.5" height="6.9" fill="#000"/>
<rect x="263.8" y="206.2" width="15.5" height="1.8" fill="#000"/>
</g>
<path d="M269.4,167.4L273.7,167.4Q277.9,167.4 277.9,171.6L277.9,169.7Q277.9,172.22 275.6,172.5Q277.9,172.78 277.9,175.3L277.9,205.7Q277.9,209.9 273.7,209.9L269.4,209.9Q265.2,209.9 265.2,205.7L265.2,175.3Q265.2,172.78 267.5,172.5Q265.2,172.22 265.2,169.7L265.2,171.6Q265.2,167.4 269.4,167.4Z" fill="none" stroke="#222" stroke-width="0.9"/>
<line x1="267" y1="172.5" x2="276.1" y2="172.5" stroke="#1a1a1a" stroke-width="0.8"/>
<path d="M300.93,176.4H302.4V177.2H300.93ZM299.56,177.2H302.4V178H299.56ZM299.17,178H302.4V178.8H299.17ZM298.72,178.8H302.4V179.6H298.72ZM298.31,179.6H302.4V180.4H298.31ZM297.93,180.4H302.4V181.2H297.93ZM297.5,181.2H302.4V182H297.5ZM297.78,182H302.4V182.8H297.78ZM297.9,182.8H302.4V183.6H297.9ZM297.72,183.6H302.4V184.4H297.72ZM298.08,184.4H302.4V185.2H298.08ZM297.88,185.2H302.4V186H297.88ZM297.52,186H302.4V186.8H297.52ZM297.91,186.8H302.4V187.6H297.91ZM297.7,187.6H302.4V188.4H297.7ZM298.07,188.4H302.4V189.2H298.07ZM298.56,189.2H302.4V190H298.56ZM298.71,190H302.4V190.8H298.71ZM298.74,190.8H302.4V191.6H298.74ZM299.02,191.6H302.4V192.4H299.02ZM299.65,192.4H302.4V193.2H299.65ZM299.99,193.2H302.4V194H299.99ZM300.65,194H302.4V194.8H300.65ZM301.48,194.8H302.4V195.6H301.48ZM302.1,195.6H302.4V196.2H302.1Z" fill="#00f000"/>
<path d="M300.93,176.4h0.9v0.9h-0.9ZM299.56,177.2h0.9v0.9h-0.9ZM299.17,178h0.9v0.9h-0.9ZM298.72,178.8h0.9v0.9h-0.9ZM298.08,184.4h0.9v0.9h-0.9ZM298.56,189.2h0.9v0.9h-0.9ZM301.48,194.8h0.9v0.9h-0.9Z" fill="#00a000" fill-opacity="0.8"/>
<polygon points="302.4,201.6 299.4,202 299.1,205 299.1,209 299.5,210.7 302.4,210.7" fill="#00f000"/>
<polygon points="302.4,202.4 303.6,202.4 303.8,210.7 302.4,210.7" fill="#ff0000"/>
<line x1="302.4" y1="200.8" x2="306.1" y2="200.8" stroke="#a84040" stroke-width="1"/>
<line x1="302.4" y1="166.5" x2="302.4" y2="201" stroke="#a588ae" stroke-width="1.4"/>
<rect x="284.8" y="222.15" width="31.4" height="1.7" fill="#000"/>
<clipPath id="a14"><path d="M335.3,170.9L338.7,170.9Q342.9,170.9 342.9,175.1L342.9,173.4Q342.9,175.92 340.6,176.2Q342.9,176.48 342.9,179L342.9,205.7Q342.9,209.9 338.7,209.9L335.3,209.9Q331.1,209.9 331.1,205.7L331.1,179Q331.1,176.48 333.4,176.2Q331.1,175.92 331.1,173.4L331.1,175.1Q331.1,170.9 335.3,170.9Z"/></clipPath>
<g clip-path="url(#a14)">
<rect x="329.7" y="169.5" width="14.6" height="41.8" fill="url(#gW)"/>
<rect x="329.7" y="170.5" width="14.6" height="1.1" fill="#000"/>
<rect x="329.7" y="171.6" width="14.6" height="3.2" fill="url(#gC)"/>
<rect x="329.7" y="174.8" width="14.6" height="3.2" fill="#000"/>
<rect x="329.7" y="178.8" width="14.6" height="3.8" fill="#000"/>
<rect x="329.7" y="183.7" width="14.6" height="5.2" fill="#000"/>
<rect x="329.7" y="191.2" width="14.6" height="4.6" fill="#000"/>
<rect x="329.7" y="195.8" width="14.6" height="4.1" fill="url(#gG)"/>
<rect x="329.7" y="199.9" width="14.6" height="4.6" fill="#000"/>
<rect x="329.7" y="204.5" width="14.6" height="5.8" fill="url(#gG)"/>
</g>
<path d="M335.3,170.9L338.7,170.9Q342.9,170.9 342.9,175.1L342.9,173.4Q342.9,175.92 340.6,176.2Q342.9,176.48 342.9,179L342.9,205.7Q342.9,209.9 338.7,209.9L335.3,209.9Q331.1,209.9 331.1,205.7L331.1,179Q331.1,176.48 333.4,176.2Q331.1,175.92 331.1,173.4L331.1,175.1Q331.1,170.9 335.3,170.9Z" fill="none" stroke="#222" stroke-width="0.9"/>
<line x1="332.9" y1="176.2" x2="341.1" y2="176.2" stroke="#1a1a1a" stroke-width="0.8"/>
<line x1="365.9" y1="171" x2="365.9" y2="210.3" stroke="#a588ae" stroke-width="1.4"/>
<rect x="350.3" y="222.15" width="31.4" height="1.7" fill="#000"/>
<clipPath id="a15"><path d="M400.8,173.2L404.1,173.2Q408.3,173.2 408.3,177.4L408.3,176.3Q408.3,178.82 406,179.1Q408.3,179.38 408.3,181.9L408.3,205.7Q408.3,209.9 404.1,209.9L400.8,209.9Q396.6,209.9 396.6,205.7L396.6,181.9Q396.6,179.38 398.9,179.1Q396.6,178.82 396.6,176.3L396.6,177.4Q396.6,173.2 400.8,173.2Z"/></clipPath>
<g clip-path="url(#a15)">
<rect x="395.2" y="171.8" width="14.5" height="39.5" fill="url(#gW)"/>
<rect x="395.2" y="172.8" width="14.5" height="1.2" fill="#000"/>
<rect x="395.2" y="174" width="14.5" height="3.5" fill="url(#gC)"/>
<rect x="395.2" y="177.5" width="14.5" height="5.1" fill="#000"/>
<rect x="395.2" y="184.3" width="14.5" height="2.3" fill="#000"/>
<rect x="395.2" y="187.8" width="14.5" height="6.9" fill="#000"/>
<rect x="395.2" y="194.7" width="14.5" height="2.3" fill="url(#gG)"/>
<rect x="395.2" y="197" width="14.5" height="2.3" fill="url(#gD)"/>
<rect x="395.2" y="201" width="14.5" height="6.4" fill="#000"/>
<rect x="395.2" y="207.4" width="14.5" height="2.9" fill="url(#gG)"/>
</g>
<path d="M400.8,173.2L404.1,173.2Q408.3,173.2 408.3,177.4L408.3,176.3Q408.3,178.82 406,179.1Q408.3,179.38 408.3,181.9L408.3,205.7Q408.3,209.9 404.1,209.9L400.8,209.9Q396.6,209.9 396.6,205.7L396.6,181.9Q396.6,179.38 398.9,179.1Q396.6,178.82 396.6,176.3L396.6,177.4Q396.6,173.2 400.8,173.2Z" fill="none" stroke="#222" stroke-width="0.9"/>
<line x1="398.4" y1="179.1" x2="406.5" y2="179.1" stroke="#1a1a1a" stroke-width="0.8"/>
<path d="M428.9,178.5H431.3V179.3H428.9ZM428.89,179.3H431.3V180.1H428.89ZM428.98,180.1H431.3V180.9H428.98ZM428.77,180.9H431.3V181.7H428.77ZM428.75,181.7H431.3V182.5H428.75ZM428.94,182.5H431.3V183.3H428.94ZM428.58,183.3H431.3V184.1H428.58ZM429.08,184.1H431.3V184.9H429.08ZM428.57,184.9H431.3V185.7H428.57ZM428.54,185.7H431.3V186.5H428.54ZM429.08,186.5H431.3V187.3H429.08ZM428.91,187.3H431.3V188.1H428.91ZM429.06,188.1H431.3V188.9H429.06ZM428.88,188.9H431.3V189.7H428.88ZM428.92,189.7H431.3V190.5H428.92ZM428.92,190.5H431.3V191.3H428.92ZM428.92,191.3H431.3V192.1H428.92ZM428.98,192.1H431.3V192.9H428.98ZM428.64,192.9H431.3V193.7H428.64ZM429.01,193.7H431.3V194.5H429.01ZM428.94,194.5H431.3V195.3H428.94ZM429.05,195.3H431.3V196.1H429.05ZM428.9,196.1H431.3V196.9H428.9ZM428.75,196.9H431.3V197.7H428.75ZM428.77,197.7H431.3V198.5H428.77ZM428.97,198.5H431.3V199.3H428.97ZM428.63,199.3H431.3V200.1H428.63ZM428.62,200.1H431.3V200.9H428.62ZM429.09,200.9H431.3V201.7H429.09ZM429.15,201.7H431.3V202.5H429.15ZM428.61,202.5H431.3V203.3H428.61ZM428.96,203.3H431.3V204.1H428.96ZM429.19,204.1H431.3V204.9H429.19ZM428.85,204.9H431.3V205.7H428.85ZM428.99,205.7H431.3V206.5H428.99ZM428.69,206.5H431.3V207.3H428.69ZM428.6,207.3H431.3V208.1H428.6ZM428.67,208.1H431.3V208.9H428.67ZM428.65,208.9H431.3V209.7H428.65ZM428.68,209.7H431.3V210.3H428.68Z" fill="#00f000"/>
<path d="M428.9,178.5h0.9v0.9h-0.9ZM428.77,180.9h0.9v0.9h-0.9ZM428.57,184.9h0.9v0.9h-0.9ZM428.54,185.7h0.9v0.9h-0.9ZM428.92,190.5h0.9v0.9h-0.9ZM428.98,192.1h0.9v0.9h-0.9ZM428.64,192.9h0.9v0.9h-0.9ZM428.9,196.1h0.9v0.9h-0.9ZM428.62,200.1h0.9v0.9h-0.9ZM428.85,204.9h0.9v0.9h-0.9ZM428.99,205.7h0.9v0.9h-0.9ZM428.69,206.5h0.9v0.9h-0.9ZM428.68,209.7h0.9v0.9h-0.9Z" fill="#00a000" fill-opacity="0.8"/>
<line x1="430.8" y1="172.2" x2="430.8" y2="178.8" stroke="#a588ae" stroke-width="1.4"/>
<rect x="415.8" y="222.15" width="31.4" height="1.7" fill="#000"/>
<clipPath id="a16"><path d="M466.1,176.6L469.9,176.6Q474.1,176.6 474.1,180.8L474.1,187.3Q474.1,189.82 471.8,190.1Q474.1,190.38 474.1,192.9L474.1,205.1Q474.1,209.3 469.9,209.3L466.1,209.3Q461.9,209.3 461.9,205.1L461.9,192.9Q461.9,190.38 464.2,190.1Q461.9,189.82 461.9,187.3L461.9,180.8Q461.9,176.6 466.1,176.6Z"/></clipPath>
<g clip-path="url(#a16)">
<rect x="460.5" y="175.2" width="15" height="35.5" fill="url(#gW)"/>
<rect x="460.5" y="176.2" width="15" height="5.2" fill="url(#gG)"/>
<rect x="460.5" y="181.4" width="15" height="5.8" fill="#000"/>
<rect x="460.5" y="187.2" width="15" height="5.8" fill="url(#gC)"/>
<rect x="460.5" y="193" width="15" height="8.6" fill="#000"/>
<rect x="460.5" y="201.6" width="15" height="4.1" fill="url(#gG)"/>
<rect x="460.5" y="205.7" width="15" height="4" fill="#000"/>
</g>
<path d="M466.1,176.6L469.9,176.6Q474.1,176.6 474.1,180.8L474.1,187.3Q474.1,189.82 471.8,190.1Q474.1,190.38 474.1,192.9L474.1,205.1Q474.1,209.3 469.9,209.3L466.1,209.3Q461.9,209.3 461.9,205.1L461.9,192.9Q461.9,190.38 464.2,190.1Q461.9,189.82 461.9,187.3L461.9,180.8Q461.9,176.6 466.1,176.6Z" fill="none" stroke="#222" stroke-width="0.9"/>
<line x1="463.7" y1="190.1" x2="472.3" y2="190.1" stroke="#1a1a1a" stroke-width="0.8"/>
<polygon points="495.7,176.4 497.9,176.4 498.1,182 497.9,188 495.7,188" fill="#ff0000"/>
<polygon points="495.7,201 497.9,201 498,205 497.8,210.2 495.7,210.2" fill="#ff0000"/>
<line x1="493.2" y1="177" x2="496" y2="177" stroke="#00e000" stroke-width="1.2"/>
<line x1="494.6" y1="188.5" x2="496" y2="188.5" stroke="#00e000" stroke-width="1.2"/>
<line x1="494.3" y1="201.3" x2="498.7" y2="201.3" stroke="#555" stroke-width="0.9"/>
<line x1="496.7" y1="176.2" x2="496.7" y2="188" stroke="#b83838" stroke-width="1.4"/>
<line x1="496.7" y1="188" x2="496.7" y2="201" stroke="#a588ae" stroke-width="1.4"/>
<line x1="496.7" y1="201" x2="496.7" y2="210.3" stroke="#b83838" stroke-width="1.4"/>
<rect x="481.3" y="222.15" width="31.4" height="1.7" fill="#000"/>
<clipPath id="a17"><path d="M7.5,253.9L11.6,253.9Q15.8,253.9 15.8,258.1L15.8,257.5Q15.8,260.02 13.5,260.3Q15.8,260.58 15.8,263.1L15.8,279.4Q15.8,283.6 11.6,283.6L7.5,283.6Q3.3,283.6 3.3,279.4L3.3,263.1Q3.3,260.58 5.6,260.3Q3.3,260.02 3.3,257.5L3.3,258.1Q3.3,253.9 7.5,253.9Z"/></clipPath>
<g clip-path="url(#a17)">
<rect x="1.9" y="252.5" width="15.3" height="32.5" fill="url(#gW)"/>
<rect x="1.9" y="253.5" width="15.3" height="1.1" fill="#000"/>
<rect x="1.9" y="256.9" width="15.3" height="2.7" fill="#000"/>
<rect x="1.9" y="261" width="15.3" height="4.6" fill="url(#gC)"/>
<rect x="1.9" y="265.6" width="15.3" height="2.9" fill="#000"/>
<rect x="1.9" y="268.5" width="15.3" height="3.4" fill="url(#gG)"/>
<rect x="1.9" y="271.9" width="15.3" height="2.3" fill="#000"/>
<rect x="1.9" y="274.2" width="15.3" height="2.9" fill="url(#gG)"/>
<rect x="1.9" y="277.1" width="15.3" height="4.1" fill="#000"/>
</g>
<path d="M7.5,253.9L11.6,253.9Q15.8,253.9 15.8,258.1L15.8,257.5Q15.8,260.02 13.5,260.3Q15.8,260.58 15.8,263.1L15.8,279.4Q15.8,283.6 11.6,283.6L7.5,283.6Q3.3,283.6 3.3,279.4L3.3,263.1Q3.3,260.58 5.6,260.3Q3.3,260.02 3.3,257.5L3.3,258.1Q3.3,253.9 7.5,253.9Z" fill="none" stroke="#222" stroke-width="0.9"/>
<line x1="5.1" y1="260.3" x2="14" y2="260.3" stroke="#1a1a1a" stroke-width="0.8"/>
<path d="M31.64,253.9H39.1V254.7H31.64ZM31.91,254.7H39.1V255.5H31.91ZM31.62,255.5H39.1V256.3H31.62ZM32.81,256.3H39.1V257.1H32.81ZM33.3,257.1H39.1V257.9H33.3ZM33.62,257.9H39.1V258.7H33.62ZM33.84,258.7H39.1V259.5H33.84ZM34.01,259.5H39.1V260.3H34.01ZM35.68,260.3H39.1V261.1H35.68ZM35.48,261.1H39.1V261.9H35.48ZM35.51,261.9H39.1V262.7H35.51ZM34.94,262.7H39.1V263.5H34.94ZM34.72,263.5H39.1V264.3H34.72ZM35.29,264.3H39.1V265.1H35.29ZM37.27,265.1H39.1V265.9H37.27ZM37.34,265.9H39.1V266.7H37.34ZM37.04,266.7H39.1V267.5H37.04ZM36.36,267.5H39.1V268.3H36.36ZM35.13,268.3H39.1V269.1H35.13ZM34.89,269.1H39.1V269.9H34.89ZM35.44,269.9H39.1V270.7H35.44ZM36.57,270.7H39.1V271.5H36.57ZM36.96,271.5H39.1V272.3H36.96ZM37.6,272.3H39.1V273.1H37.6ZM37.23,273.1H39.1V273.9H37.23ZM35.78,273.9H39.1V274.7H35.78ZM35.16,274.7H39.1V275.5H35.16ZM35.06,275.5H39.1V276.3H35.06ZM35.35,276.3H39.1V277.1H35.35ZM37.5,277.1H39.1V277.9H37.5ZM37.71,277.9H39.1V278.7H37.71ZM36.9,278.7H39.1V279.5H36.9ZM36.42,279.5H39.1V280.3H36.42ZM35.32,280.3H39.1V281.1H35.32ZM34.54,281.1H39.1V281.9H34.54ZM35.31,281.9H39.1V282.7H35.31ZM35.07,282.7H39.1V283.5H35.07ZM35.68,283.5H39.1V284.3H35.68ZM35.84,284.3H39.1V284.9H35.84Z" fill="#00f000"/>
<path d="M31.64,253.9h0.9v0.9h-0.9ZM31.91,254.7h0.9v0.9h-0.9ZM33.3,257.1h0.9v0.9h-0.9ZM35.68,260.3h0.9v0.9h-0.9ZM35.51,261.9h0.9v0.9h-0.9ZM35.29,264.3h0.9v0.9h-0.9ZM36.57,270.7h0.9v0.9h-0.9ZM35.16,274.7h0.9v0.9h-0.9ZM37.71,277.9h0.9v0.9h-0.9ZM36.9,278.7h0.9v0.9h-0.9ZM35.07,282.7h0.9v0.9h-0.9Z" fill="#00a000" fill-opacity="0.8"/>
<path d="M39.1,256H40.23V256.8H39.1ZM39.1,256.8H40.83V257.6H39.1ZM39.1,257.6H39.97V258.4H39.1ZM39.1,258.4H41.93V259.2H39.1ZM39.1,259.2H41.14V260H39.1ZM39.1,260H40.83V260.8H39.1ZM39.1,260.8H40.34V261.6H39.1ZM39.1,261.6H42.42V262.4H39.1ZM39.1,262.4H41.66V263.2H39.1ZM39.1,263.2H44.31V264H39.1ZM39.1,264H44.61V264.8H39.1ZM39.1,264.8H46.41V265.6H39.1ZM39.1,265.6H45.78V266.4H39.1ZM39.1,266.4H45.1V267.2H39.1ZM39.1,267.2H45.14V268H39.1ZM39.1,268H45.66V268.8H39.1ZM39.1,268.8H45.81V269.6H39.1ZM39.1,269.6H45.19V270.4H39.1ZM39.1,270.4H47.43V271.2H39.1ZM39.1,271.2H45.16V272H39.1ZM39.1,272H46.92V272.8H39.1ZM39.1,272.8H46.36V273.6H39.1ZM39.1,273.6H46.1V274.4H39.1ZM39.1,274.4H44.78V275.2H39.1ZM39.1,275.2H46.88V276H39.1ZM39.1,276H46.08V276.8H39.1ZM39.1,276.8H46.66V277.6H39.1ZM39.1,277.6H47.11V278.4H39.1ZM39.1,278.4H46.8V279.2H39.1ZM39.1,279.2H45.35V280H39.1ZM39.1,280H45.21V280.8H39.1ZM39.1,280.8H44.87V281.6H39.1ZM39.1,281.6H46.06V282.4H39.1ZM39.1,282.4H45.77V283.2H39.1ZM39.1,283.2H46.91V284H39.1ZM39.1,284H46.07V284.6H39.1Z" fill="#ff0000"/>
<path d="M39.33,256h0.9v0.9h-0.9ZM41.03,258.4h0.9v0.9h-0.9ZM39.93,260h0.9v0.9h-0.9ZM43.41,263.2h0.9v0.9h-0.9ZM44.2,266.4h0.9v0.9h-0.9ZM44.29,269.6h0.9v0.9h-0.9ZM46.02,272h0.9v0.9h-0.9ZM45.46,272.8h0.9v0.9h-0.9ZM45.2,273.6h0.9v0.9h-0.9ZM45.18,276h0.9v0.9h-0.9ZM44.45,279.2h0.9v0.9h-0.9ZM44.31,280h0.9v0.9h-0.9ZM43.97,280.8h0.9v0.9h-0.9ZM46.01,283.2h0.9v0.9h-0.9Z" fill="#b00000" fill-opacity="0.8"/>
<rect x="22.8" y="295.35" width="31.4" height="1.7" fill="#000"/>
<clipPath id="a18"><path d="M72.9,255.6L77,255.6Q81.2,255.6 81.2,259.8L81.2,257Q81.2,259.52 78.9,259.8Q81.2,260.08 81.2,262.6L81.2,278.9Q81.2,283.1 77,283.1L72.9,283.1Q68.7,283.1 68.7,278.9L68.7,262.6Q68.7,260.08 71,259.8Q68.7,259.52 68.7,257L68.7,259.8Q68.7,255.6 72.9,255.6Z"/></clipPath>
<g clip-path="url(#a18)">
<rect x="67.3" y="254.2" width="15.3" height="30.3" fill="url(#gW)"/>
<rect x="67.3" y="255.2" width="15.3" height="2.3" fill="#000"/>
<rect x="67.3" y="259.2" width="15.3" height="2.3" fill="#000"/>
<rect x="67.3" y="261.5" width="15.3" height="1.8" fill="url(#gC)"/>
<rect x="67.3" y="263.3" width="15.3" height="8.6" fill="#000"/>
<rect x="67.3" y="271.9" width="15.3" height="5.2" fill="url(#gG)"/>
<rect x="67.3" y="277.1" width="15.3" height="1.2" fill="#000"/>
<rect x="67.3" y="279.4" width="15.3" height="4.1" fill="#000"/>
</g>
<path d="M72.9,255.6L77,255.6Q81.2,255.6 81.2,259.8L81.2,257Q81.2,259.52 78.9,259.8Q81.2,260.08 81.2,262.6L81.2,278.9Q81.2,283.1 77,283.1L72.9,283.1Q68.7,283.1 68.7,278.9L68.7,262.6Q68.7,260.08 71,259.8Q68.7,259.52 68.7,257L68.7,259.8Q68.7,255.6 72.9,255.6Z" fill="none" stroke="#222" stroke-width="0.9"/>
<line x1="70.5" y1="259.8" x2="79.4" y2="259.8" stroke="#1a1a1a" stroke-width="0.8"/>
<path d="M104.6,256H116.59V256.8H104.6ZM104.6,256.8H116.71V257.6H104.6ZM104.6,257.6H116.98V258.4H104.6ZM104.6,258.4H118.3V259.2H104.6ZM104.6,259.2H117.95V260H104.6ZM104.6,260H117.96V260.3H104.6Z" fill="#ff0000"/>
<path d="M117.05,259.2h0.9v0.9h-0.9Z" fill="#b00000" fill-opacity="0.8"/>
<path d="M104.6,261.8H117.78V262.6H104.6ZM104.6,262.6H117.8V263.4H104.6ZM104.6,263.4H118.32V264.2H104.6ZM104.6,264.2H118.27V265H104.6ZM104.6,265H118.23V265.8H104.6ZM104.6,265.8H118.13V266.6H104.6ZM104.6,266.6H117.69V267.4H104.6ZM104.6,267.4H118.29V268.2H104.6ZM104.6,268.2H118.27V269H104.6ZM104.6,269H118.24V269.8H104.6ZM104.6,269.8H118.36V270.6H104.6ZM104.6,270.6H119.21V271.4H104.6ZM104.6,271.4H119.39V272.2H104.6ZM104.6,272.2H119.19V273H104.6ZM104.6,273H117.94V273.8H104.6ZM104.6,273.8H117.97V274.6H104.6ZM104.6,274.6H117.43V275.4H104.6ZM104.6,275.4H117.58V276.2H104.6ZM104.6,276.2H118.09V277H104.6ZM104.6,277H117.51V277.8H104.6ZM104.6,277.8H111.38V278.6H104.6ZM104.6,278.6H111.87V279.4H104.6ZM104.6,279.4H111.45V280.2H104.6ZM104.6,280.2H111.64V281H104.6ZM104.6,281H111.38V281.8H104.6ZM104.6,281.8H111.03V282.6H104.6ZM104.6,282.6H111.66V283.4H104.6ZM104.6,283.4H111.43V284.2H104.6ZM104.6,284.2H111.73V284.8H104.6Z" fill="#ff0000"/>
<path d="M116.88,261.8h0.9v0.9h-0.9ZM117.37,264.2h0.9v0.9h-0.9ZM116.79,266.6h0.9v0.9h-0.9ZM117.37,268.2h0.9v0.9h-0.9ZM117.46,269.8h0.9v0.9h-0.9ZM118.31,270.6h0.9v0.9h-0.9ZM118.49,271.4h0.9v0.9h-0.9ZM118.29,272.2h0.9v0.9h-0.9ZM117.04,273h0.9v0.9h-0.9ZM117.07,273.8h0.9v0.9h-0.9ZM110.55,279.4h0.9v0.9h-0.9ZM110.48,281h0.9v0.9h-0.9ZM110.13,281.8h0.9v0.9h-0.9Z" fill="#b00000" fill-opacity="0.8"/>
<polygon points="102.3,280.5 104.6,280.5 104.6,284.8 102.3,284.8" fill="#00f000"/>
<rect x="88.3" y="295.35" width="31.4" height="1.7" fill="#000"/>
<clipPath id="a19"><path d="M138.8,260.6L143.2,260.6Q147.4,260.6 147.4,264.8L147.4,269.6Q147.4,271.4 146,271.6Q147.4,271.8 147.4,273.6L147.4,279.4Q147.4,283.6 143.2,283.6L138.8,283.6Q134.6,283.6 134.6,279.4L134.6,273.6Q134.6,271.8 136,271.6Q134.6,271.4 134.6,269.6L134.6,264.8Q134.6,260.6 138.8,260.6Z"/></clipPath>
<g clip-path="url(#a19)">
<rect x="133.2" y="259.2" width="15.6" height="25.8" fill="url(#gW)"/>
<rect x="133.2" y="260.2" width="15.6" height="8.6" fill="url(#gG)"/>
<rect x="133.2" y="268.8" width="15.6" height="5.8" fill="#000"/>
<rect x="133.2" y="274.6" width="15.6" height="9.4" fill="url(#gG)"/>
</g>
<path d="M138.8,260.6L143.2,260.6Q147.4,260.6 147.4,264.8L147.4,269.6Q147.4,271.4 146,271.6Q147.4,271.8 147.4,273.6L147.4,279.4Q147.4,283.6 143.2,283.6L138.8,283.6Q134.6,283.6 134.6,279.4L134.6,273.6Q134.6,271.8 136,271.6Q134.6,271.4 134.6,269.6L134.6,264.8Q134.6,260.6 138.8,260.6Z" fill="none" stroke="#222" stroke-width="0.9"/>
<line x1="136.4" y1="271.6" x2="145.6" y2="271.6" stroke="#1a1a1a" stroke-width="0.8"/>
<polygon points="172,260.6 169,260.8 168.2,262.5 168.3,268.5 169,269.5 172,269.5" fill="#00f000"/>
<polygon points="172,274.3 169,274.5 168.2,276 168.2,283 169,284.4 172,284.4" fill="#00f000"/>
<line x1="160.3" y1="263.8" x2="168.5" y2="263.8" stroke="#98b898" stroke-width="1"/>
<line x1="172" y1="263.8" x2="174" y2="263.8" stroke="#a88888" stroke-width="0.9"/>
<line x1="171.2" y1="269.3" x2="171.2" y2="274.5" stroke="#5e4e62" stroke-width="1.4"/>
<rect x="153.8" y="295.35" width="31.4" height="1.7" fill="#000"/>
<clipPath id="a20"><path d="M204.4,260.2L208.4,260.2Q212.6,260.2 212.6,264.4L212.6,268Q212.6,270.52 210.3,270.8Q212.6,271.08 212.6,273.6L212.6,279.4Q212.6,283.6 208.4,283.6L204.4,283.6Q200.2,283.6 200.2,279.4L200.2,273.6Q200.2,271.08 202.5,270.8Q200.2,270.52 200.2,268L200.2,264.4Q200.2,260.2 204.4,260.2Z"/></clipPath>
<g clip-path="url(#a20)">
<rect x="198.8" y="258.8" width="15.2" height="26.2" fill="url(#gW)"/>
<rect x="198.8" y="259.8" width="15.2" height="1" fill="url(#gG)"/>
<rect x="198.8" y="260.8" width="15.2" height="5.9" fill="#000"/>
<rect x="198.8" y="266.7" width="15.2" height="8.1" fill="url(#gC)"/>
<rect x="198.8" y="274.8" width="15.2" height="1.7" fill="#000"/>
<rect x="198.8" y="276.5" width="15.2" height="7.5" fill="url(#gG)"/>
</g>
<path d="M204.4,260.2L208.4,260.2Q212.6,260.2 212.6,264.4L212.6,268Q212.6,270.52 210.3,270.8Q212.6,271.08 212.6,273.6L212.6,279.4Q212.6,283.6 208.4,283.6L204.4,283.6Q200.2,283.6 200.2,279.4L200.2,273.6Q200.2,271.08 202.5,270.8Q200.2,270.52 200.2,268L200.2,264.4Q200.2,260.2 204.4,260.2Z" fill="none" stroke="#222" stroke-width="0.9"/>
<line x1="202" y1="270.8" x2="210.8" y2="270.8" stroke="#1a1a1a" stroke-width="0.8"/>
<polygon points="235.6,280.6 237.5,280.8 239.3,282.5 239.3,284 235.6,284" fill="#ff0000"/>
<line x1="233.5" y1="273" x2="235.6" y2="273" stroke="#00e000" stroke-width="1"/>
<line x1="235.6" y1="259.8" x2="235.6" y2="284" stroke="#a03050" stroke-width="1.4"/>
<rect x="219.3" y="295.35" width="31.4" height="1.7" fill="#000"/>
<clipPath id="a21"><path d="M269.7,266.6L273.7,266.6Q277.9,266.6 277.9,270.8L277.9,268Q277.9,270.52 275.6,270.8Q277.9,271.08 277.9,273.6L277.9,279.4Q277.9,283.6 273.7,283.6L269.7,283.6Q265.5,283.6 265.5,279.4L265.5,273.6Q265.5,271.08 267.8,270.8Q265.5,270.52 265.5,268L265.5,270.8Q265.5,266.6 269.7,266.6Z"/></clipPath>
<g clip-path="url(#a21)">
<rect x="264.1" y="265.2" width="15.2" height="19.8" fill="url(#gW)"/>
<rect x="264.1" y="266.2" width="15.2" height="1.3" fill="#000"/>
<rect x="264.1" y="269.5" width="15.2" height="1.3" fill="#000"/>
<rect x="264.1" y="271.9" width="15.2" height="5.8" fill="#000"/>
<rect x="264.1" y="277.7" width="15.2" height="6.3" fill="url(#gG)"/>
</g>
<path d="M269.7,266.6L273.7,266.6Q277.9,266.6 277.9,270.8L277.9,268Q277.9,270.52 275.6,270.8Q277.9,271.08 277.9,273.6L277.9,279.4Q277.9,283.6 273.7,283.6L269.7,283.6Q265.5,283.6 265.5,279.4L265.5,273.6Q265.5,271.08 267.8,270.8Q265.5,270.52 265.5,268L265.5,270.8Q265.5,266.6 269.7,266.6Z" fill="none" stroke="#222" stroke-width="0.9"/>
<line x1="267.3" y1="270.8" x2="276.1" y2="270.8" stroke="#1a1a1a" stroke-width="0.8"/>
<polygon points="300.4,277.2 301.8,277.2 302.6,278.2 303.3,279.4 303.9,281 305,282.2 306.3,283.2 306.2,284.2 300.4,284.2" fill="#ff0000"/>
<line x1="301" y1="266" x2="301" y2="275.4" stroke="#a588ae" stroke-width="1.4"/>
<line x1="301" y1="275.4" x2="301" y2="284.2" stroke="#b83838" stroke-width="1.4"/>
<rect x="284.8" y="295.35" width="31.4" height="1.7" fill="#000"/>
<clipPath id="a22"><path d="M335.3,266L339.1,266Q343.3,266 343.3,270.2L343.3,266.2Q343.3,268.72 341,269Q343.3,269.28 343.3,271.8L343.3,279.4Q343.3,283.6 339.1,283.6L335.3,283.6Q331.1,283.6 331.1,279.4L331.1,271.8Q331.1,269.28 333.4,269Q331.1,268.72 331.1,266.2L331.1,270.2Q331.1,266 335.3,266Z"/></clipPath>
<g clip-path="url(#a22)">
<rect x="329.7" y="264.6" width="15" height="20.4" fill="url(#gW)"/>
<rect x="329.7" y="265.6" width="15" height="2.7" fill="#000"/>
<rect x="329.7" y="270.2" width="15" height="4.6" fill="url(#gC)"/>
<rect x="329.7" y="274.8" width="15" height="4.6" fill="#000"/>
<rect x="329.7" y="279.4" width="15" height="4.6" fill="url(#gG)"/>
</g>
<path d="M335.3,266L339.1,266Q343.3,266 343.3,270.2L343.3,266.2Q343.3,268.72 341,269Q343.3,269.28 343.3,271.8L343.3,279.4Q343.3,283.6 339.1,283.6L335.3,283.6Q331.1,283.6 331.1,279.4L331.1,271.8Q331.1,269.28 333.4,269Q331.1,268.72 331.1,266.2L331.1,270.2Q331.1,266 335.3,266Z" fill="none" stroke="#222" stroke-width="0.9"/>
<line x1="332.9" y1="269" x2="341.5" y2="269" stroke="#1a1a1a" stroke-width="0.8"/>
<polygon points="366.2,272 364.7,272.3 364.8,279.9 362.5,280 361.9,281.5 362,283.6 366.2,283.6" fill="#00f000"/>
<line x1="359.9" y1="272.6" x2="366.2" y2="272.6" stroke="#00e000" stroke-width="1.3"/>
<line x1="366.2" y1="264.9" x2="366.2" y2="283.6" stroke="#5e4e62" stroke-width="1.4"/>
<rect x="350.3" y="295.35" width="31.4" height="1.7" fill="#000"/>
<clipPath id="b1"><path d="M11.9,352.9L16,352.9Q20.2,352.9 20.2,357.1L20.2,395.35Q20.2,397.87 17.9,398.15Q20.2,398.43 20.2,400.95L20.2,439.5Q20.2,443.7 16,443.7L11.9,443.7Q7.7,443.7 7.7,439.5L7.7,400.95Q7.7,398.43 10,398.15Q7.7,397.87 7.7,395.35L7.7,357.1Q7.7,352.9 11.9,352.9Z"/></clipPath>
<g clip-path="url(#b1)">
<rect x="6.3" y="351.5" width="15.3" height="93.6" fill="url(#gW)"/>
<rect x="6.3" y="352.5" width="15.3" height="9.94" fill="url(#gG)"/>
<rect x="6.3" y="362.44" width="15.3" height="1.18" fill="#000"/>
<rect x="6.3" y="363.62" width="15.3" height="0.89" fill="url(#gG)"/>
<rect x="6.3" y="364.5" width="15.3" height="1.18" fill="#000"/>
<rect x="6.3" y="369.62" width="15.3" height="1.87" fill="#000"/>
<rect x="6.3" y="374.54" width="15.3" height="10.04" fill="#000"/>
<rect x="6.3" y="387.92" width="15.3" height="4.53" fill="#000"/>
<rect x="6.3" y="395.89" width="15.3" height="10.13" fill="#000"/>
<rect x="6.3" y="408.38" width="15.3" height="2.75" fill="#000"/>
<rect x="6.3" y="413.4" width="15.3" height="3.44" fill="#000"/>
<rect x="6.3" y="416.85" width="15.3" height="3.94" fill="url(#gG)"/>
<rect x="6.3" y="420.78" width="15.3" height="5.71" fill="#000"/>
<rect x="6.3" y="426.49" width="15.3" height="5.12" fill="url(#gG)"/>
<rect x="6.3" y="431.6" width="15.3" height="4.53" fill="#000"/>
<rect x="6.3" y="436.13" width="15.3" height="4.03" fill="url(#gG)"/>
<rect x="6.3" y="440.16" width="15.3" height="3.94" fill="#000"/>
</g>
<path d="M11.9,352.9L16,352.9Q20.2,352.9 20.2,357.1L20.2,395.35Q20.2,397.87 17.9,398.15Q20.2,398.43 20.2,400.95L20.2,439.5Q20.2,443.7 16,443.7L11.9,443.7Q7.7,443.7 7.7,439.5L7.7,400.95Q7.7,398.43 10,398.15Q7.7,397.87 7.7,395.35L7.7,357.1Q7.7,352.9 11.9,352.9Z" fill="none" stroke="#222" stroke-width="0.9"/>
<line x1="9.5" y1="398.15" x2="18.4" y2="398.15" stroke="#1a1a1a" stroke-width="0.8"/>
<polygon points="27.1,353.3 42.2,353.3 42.2,358.3 39.5,357.6 36.5,356.6 33,355.5 29.5,354.6 27.1,354.2" fill="#00f000"/>
<path d="M42,406.1H48.64V406.9H42ZM42,406.9H49.49V407.7H42ZM42,407.7H48.98V408.5H42ZM42,408.5H49.3V409.3H42ZM42,409.3H50.3V410.1H42ZM42,410.1H50.76V410.9H42ZM42,410.9H51.37V411.7H42ZM42,411.7H51.18V412.5H42ZM42,412.5H50.96V413.3H42ZM42,413.3H50.96V414.1H42ZM42,414.1H51.16V414.9H42ZM42,414.9H49.93V415.7H42ZM42,415.7H50.54V416.5H42ZM42,416.5H50.18V417.3H42ZM42,417.3H50.25V418.1H42ZM42,418.1H49.66V418.9H42ZM42,418.9H48.43V419.7H42ZM42,419.7H48.62V420.5H42ZM42,420.5H47.9V421.3H42ZM42,421.3H48.54V422.1H42ZM42,422.1H49.3V422.9H42ZM42,422.9H50.49V423.7H42ZM42,423.7H51.08V424.5H42ZM42,424.5H50.5V425.3H42ZM42,425.3H51.09V426.1H42ZM42,426.1H51.07V426.9H42ZM42,426.9H51.41V427.7H42ZM42,427.7H50.88V428.5H42ZM42,428.5H50V429.3H42ZM42,429.3H50.27V430.1H42ZM42,430.1H49.99V430.9H42ZM42,430.9H49.85V431.7H42ZM42,431.7H49.72V432.5H42ZM42,432.5H49.21V433.3H42ZM42,433.3H49.58V434.1H42ZM42,434.1H49.51V434.9H42ZM42,434.9H48.79V435.7H42ZM42,435.7H48.93V436.5H42ZM42,436.5H48.9V437.3H42ZM42,437.3H48.5V438.1H42ZM42,438.1H48.91V438.9H42ZM42,438.9H48.55V439.7H42ZM42,439.7H49.2V440.5H42ZM42,440.5H48.54V441.3H42ZM42,441.3H48.44V442.1H42ZM42,442.1H48.06V442.9H42ZM42,442.9H48.95V443.7H42ZM42,443.7H48.51V444.3H42Z" fill="#ff0000"/>
<path d="M47.74,406.1h0.9v0.9h-0.9ZM48.59,406.9h0.9v0.9h-0.9ZM50.47,410.9h0.9v0.9h-0.9ZM50.28,411.7h0.9v0.9h-0.9ZM50.06,412.5h0.9v0.9h-0.9ZM49.03,414.9h0.9v0.9h-0.9ZM49.64,415.7h0.9v0.9h-0.9ZM49.28,416.5h0.9v0.9h-0.9ZM49.35,417.3h0.9v0.9h-0.9ZM48.76,418.1h0.9v0.9h-0.9ZM47.53,418.9h0.9v0.9h-0.9ZM47.64,421.3h0.9v0.9h-0.9ZM48.4,422.1h0.9v0.9h-0.9ZM50.18,423.7h0.9v0.9h-0.9ZM49.6,424.5h0.9v0.9h-0.9ZM50.17,426.1h0.9v0.9h-0.9ZM49.1,428.5h0.9v0.9h-0.9ZM49.09,430.1h0.9v0.9h-0.9ZM48.95,430.9h0.9v0.9h-0.9ZM48.31,432.5h0.9v0.9h-0.9ZM48.61,434.1h0.9v0.9h-0.9ZM48.03,435.7h0.9v0.9h-0.9Z" fill="#b00000" fill-opacity="0.8"/>
<polygon points="42.6,422 48.2,422 48.2,423.1 42.6,423.1" fill="#fff"/>
<polygon points="43,440.2 48,440.2 48,441.3 43,441.3" fill="#fff"/>
<line x1="42.2" y1="353.3" x2="42.2" y2="406.2" stroke="#987e9a" stroke-width="1.2"/>
<rect x="27" y="454.15" width="30.9" height="1.7" fill="#000"/>
<clipPath id="b2"><path d="M76.5,353.7L80.2,353.7Q84.4,353.7 84.4,357.9L84.4,385.36Q84.4,387.88 82.1,388.16Q84.4,388.44 84.4,390.96L84.4,439.5Q84.4,443.7 80.2,443.7L76.5,443.7Q72.3,443.7 72.3,439.5L72.3,390.96Q72.3,388.44 74.6,388.16Q72.3,387.88 72.3,385.36L72.3,357.9Q72.3,353.7 76.5,353.7Z"/></clipPath>
<g clip-path="url(#b2)">
<rect x="70.9" y="352.3" width="14.9" height="92.8" fill="url(#gW)"/>
<rect x="70.9" y="353.3" width="14.9" height="4.53" fill="url(#gG)"/>
<rect x="70.9" y="357.83" width="14.9" height="5.02" fill="#000"/>
<rect x="70.9" y="364.82" width="14.9" height="4.73" fill="#000"/>
<rect x="70.9" y="371.42" width="14.9" height="8.17" fill="#000"/>
<rect x="70.9" y="381.56" width="14.9" height="3.55" fill="#000"/>
<rect x="70.9" y="385.11" width="14.9" height="6.6" fill="url(#gC)"/>
<rect x="70.9" y="391.71" width="14.9" height="2.76" fill="#000"/>
<rect x="70.9" y="396.53" width="14.9" height="6.5" fill="#000"/>
<rect x="70.9" y="404.71" width="14.9" height="5.22" fill="#000"/>
<rect x="70.9" y="412" width="14.9" height="6.11" fill="#000"/>
<rect x="70.9" y="418.1" width="14.9" height="4.43" fill="url(#gG)"/>
<rect x="70.9" y="422.53" width="14.9" height="6.11" fill="#000"/>
<rect x="70.9" y="428.64" width="14.9" height="3.25" fill="url(#gG)"/>
<rect x="70.9" y="431.89" width="14.9" height="3.25" fill="#000"/>
<rect x="70.9" y="437.21" width="14.9" height="3.64" fill="#000"/>
<rect x="70.9" y="440.85" width="14.9" height="3.25" fill="url(#gG)"/>
</g>
<path d="M76.5,353.7L80.2,353.7Q84.4,353.7 84.4,357.9L84.4,385.36Q84.4,387.88 82.1,388.16Q84.4,388.44 84.4,390.96L84.4,439.5Q84.4,443.7 80.2,443.7L76.5,443.7Q72.3,443.7 72.3,439.5L72.3,390.96Q72.3,388.44 74.6,388.16Q72.3,387.88 72.3,385.36L72.3,357.9Q72.3,353.7 76.5,353.7Z" fill="none" stroke="#222" stroke-width="0.9"/>
<line x1="74.1" y1="388.16" x2="82.6" y2="388.16" stroke="#1a1a1a" stroke-width="0.8"/>
<line x1="107.7" y1="353.3" x2="107.7" y2="444.1" stroke="#987e9a" stroke-width="1.2"/>
<rect x="91.05" y="454.15" width="30.9" height="1.7" fill="#000"/>
<clipPath id="b3"><path d="M140.5,370.8L143.8,370.8Q148,370.8 148,375L148,401.92Q148,404.44 145.7,404.72Q148,405 148,407.52L148,439.5Q148,443.7 143.8,443.7L140.5,443.7Q136.3,443.7 136.3,439.5L136.3,407.52Q136.3,405 138.6,404.72Q136.3,404.44 136.3,401.92L136.3,375Q136.3,370.8 140.5,370.8Z"/></clipPath>
<g clip-path="url(#b3)">
<rect x="134.9" y="369.4" width="14.5" height="75.7" fill="url(#gW)"/>
<rect x="134.9" y="370.4" width="14.5" height="3.12" fill="#000"/>
<rect x="134.9" y="375.57" width="14.5" height="6.24" fill="#000"/>
<rect x="134.9" y="383.27" width="14.5" height="3.41" fill="#000"/>
<rect x="134.9" y="386.68" width="14.5" height="3.51" fill="url(#gG)"/>
<rect x="134.9" y="390.19" width="14.5" height="6.24" fill="#000"/>
<rect x="134.9" y="397.79" width="14.5" height="6.24" fill="#000"/>
<rect x="134.9" y="404.03" width="14.5" height="3.61" fill="url(#gC)"/>
<rect x="134.9" y="407.64" width="14.5" height="1.07" fill="#000"/>
<rect x="134.9" y="409.39" width="14.5" height="7.9" fill="#000"/>
<rect x="134.9" y="419.24" width="14.5" height="0.68" fill="#000"/>
<rect x="134.9" y="419.92" width="14.5" height="2.14" fill="url(#gM)"/>
<rect x="134.9" y="422.07" width="14.5" height="0.58" fill="#000"/>
<rect x="134.9" y="422.65" width="14.5" height="1.75" fill="url(#gD)"/>
<rect x="134.9" y="424.41" width="14.5" height="3.12" fill="#000"/>
<rect x="134.9" y="430.94" width="14.5" height="8.97" fill="#000"/>
<rect x="134.9" y="441.76" width="14.5" height="2.34" fill="#000"/>
</g>
<path d="M140.5,370.8L143.8,370.8Q148,370.8 148,375L148,401.92Q148,404.44 145.7,404.72Q148,405 148,407.52L148,439.5Q148,443.7 143.8,443.7L140.5,443.7Q136.3,443.7 136.3,439.5L136.3,407.52Q136.3,405 138.6,404.72Q136.3,404.44 136.3,401.92L136.3,375Q136.3,370.8 140.5,370.8Z" fill="none" stroke="#222" stroke-width="0.9"/>
<line x1="138.1" y1="404.72" x2="146.2" y2="404.72" stroke="#1a1a1a" stroke-width="0.8"/>
<line x1="171.2" y1="369.8" x2="171.2" y2="444.1" stroke="#987e9a" stroke-width="1.2"/>
<rect x="155.1" y="454.15" width="30.9" height="1.7" fill="#000"/>
<clipPath id="b4"><path d="M204.6,373.7L208.4,373.7Q212.6,373.7 212.6,377.9L212.6,388.88Q212.6,391.4 210.3,391.68Q212.6,391.96 212.6,394.48L212.6,439.2Q212.6,443.4 208.4,443.4L204.6,443.4Q200.4,443.4 200.4,439.2L200.4,394.48Q200.4,391.96 202.7,391.68Q200.4,391.4 200.4,388.88L200.4,377.9Q200.4,373.7 204.6,373.7Z"/></clipPath>
<g clip-path="url(#b4)">
<rect x="199" y="372.3" width="15" height="72.5" fill="url(#gW)"/>
<rect x="199" y="373.3" width="15" height="3.91" fill="url(#gG)"/>
<rect x="199" y="377.21" width="15" height="9.48" fill="#000"/>
<rect x="199" y="388.46" width="15" height="1.76" fill="#000"/>
<rect x="199" y="390.22" width="15" height="0.78" fill="url(#gM)"/>
<rect x="199" y="391" width="15" height="0.98" fill="#000"/>
<rect x="199" y="391.98" width="15" height="1.37" fill="url(#gM)"/>
<rect x="199" y="393.35" width="15" height="0.59" fill="#000"/>
<rect x="199" y="395.4" width="15" height="7.53" fill="#000"/>
<rect x="199" y="406.45" width="15" height="7.63" fill="#000"/>
<rect x="199" y="416.13" width="15" height="3.03" fill="#000"/>
<rect x="199" y="419.16" width="15" height="1.17" fill="url(#gM)"/>
<rect x="199" y="420.33" width="15" height="6.26" fill="#000"/>
<rect x="199" y="426.59" width="15" height="4.89" fill="url(#gG)"/>
<rect x="199" y="431.48" width="15" height="12.32" fill="#000"/>
</g>
<path d="M204.6,373.7L208.4,373.7Q212.6,373.7 212.6,377.9L212.6,388.88Q212.6,391.4 210.3,391.68Q212.6,391.96 212.6,394.48L212.6,439.2Q212.6,443.4 208.4,443.4L204.6,443.4Q200.4,443.4 200.4,439.2L200.4,394.48Q200.4,391.96 202.7,391.68Q200.4,391.4 200.4,388.88L200.4,377.9Q200.4,373.7 204.6,373.7Z" fill="none" stroke="#222" stroke-width="0.9"/>
<line x1="202.2" y1="391.68" x2="210.8" y2="391.68" stroke="#1a1a1a" stroke-width="0.8"/>
<line x1="235.5" y1="373.3" x2="235.5" y2="443.8" stroke="#987e9a" stroke-width="1.2"/>
<rect x="219.15" y="454.15" width="30.9" height="1.7" fill="#000"/>
<clipPath id="b5"><path d="M268.9,376.7L272.4,376.7Q276.6,376.7 276.6,380.9L276.6,391.41Q276.6,393.93 274.3,394.21Q276.6,394.49 276.6,397.01L276.6,438.7Q276.6,442.9 272.4,442.9L268.9,442.9Q264.7,442.9 264.7,438.7L264.7,397.01Q264.7,394.49 267,394.21Q264.7,393.93 264.7,391.41L264.7,380.9Q264.7,376.7 268.9,376.7Z"/></clipPath>
<g clip-path="url(#b5)">
<rect x="263.3" y="375.3" width="14.7" height="69" fill="url(#gW)"/>
<rect x="263.3" y="382.75" width="14.7" height="4.62" fill="#000"/>
<rect x="263.3" y="391.61" width="14.7" height="2.98" fill="#000"/>
<rect x="263.3" y="394.59" width="14.7" height="3.75" fill="url(#gC)"/>
<rect x="263.3" y="398.34" width="14.7" height="3.66" fill="#000"/>
<rect x="263.3" y="404.51" width="14.7" height="6.55" fill="#000"/>
<rect x="263.3" y="412.4" width="14.7" height="4.81" fill="#000"/>
<rect x="263.3" y="419.23" width="14.7" height="6.93" fill="#000"/>
<rect x="263.3" y="430.21" width="14.7" height="2.41" fill="#000"/>
<rect x="263.3" y="435.7" width="14.7" height="3.66" fill="#000"/>
</g>
<path d="M268.9,376.7L272.4,376.7Q276.6,376.7 276.6,380.9L276.6,391.41Q276.6,393.93 274.3,394.21Q276.6,394.49 276.6,397.01L276.6,438.7Q276.6,442.9 272.4,442.9L268.9,442.9Q264.7,442.9 264.7,438.7L264.7,397.01Q264.7,394.49 267,394.21Q264.7,393.93 264.7,391.41L264.7,380.9Q264.7,376.7 268.9,376.7Z" fill="none" stroke="#222" stroke-width="0.9"/>
<line x1="266.5" y1="394.21" x2="274.8" y2="394.21" stroke="#1a1a1a" stroke-width="0.8"/>
<line x1="299.5" y1="376.8" x2="306.3" y2="376.8" stroke="#ff0000" stroke-width="1"/>
<line x1="299.5" y1="376.3" x2="299.5" y2="443.3" stroke="#a03050" stroke-width="1.2"/>
<rect x="283.2" y="454.15" width="30.9" height="1.7" fill="#000"/>
<clipPath id="b6"><path d="M332.8,381.6L335.9,381.6Q340.1,381.6 340.1,385.8L340.1,400.53Q340.1,403.05 337.8,403.33Q340.1,403.61 340.1,406.13L340.1,438.9Q340.1,443.1 335.9,443.1L332.8,443.1Q328.6,443.1 328.6,438.9L328.6,406.13Q328.6,403.61 330.9,403.33Q328.6,403.05 328.6,400.53L328.6,385.8Q328.6,381.6 332.8,381.6Z"/></clipPath>
<g clip-path="url(#b6)">
<rect x="327.2" y="380.2" width="14.3" height="64.3" fill="url(#gW)"/>
<rect x="327.2" y="381.2" width="14.3" height="1.75" fill="#000"/>
<rect x="327.2" y="384.31" width="14.3" height="2.04" fill="#000"/>
<rect x="327.2" y="387.8" width="14.3" height="5.53" fill="#000"/>
<rect x="327.2" y="393.33" width="14.3" height="4.75" fill="url(#gG)"/>
<rect x="327.2" y="398.09" width="14.3" height="9.7" fill="#000"/>
<rect x="327.2" y="409.15" width="14.3" height="4.85" fill="#000"/>
<rect x="327.2" y="415.46" width="14.3" height="4.85" fill="#000"/>
<rect x="327.2" y="420.31" width="14.3" height="3.4" fill="url(#gG)"/>
<rect x="327.2" y="423.7" width="14.3" height="6.21" fill="#000"/>
<rect x="327.2" y="432.05" width="14.3" height="4.85" fill="#000"/>
<rect x="327.2" y="436.9" width="14.3" height="2.72" fill="url(#gG)"/>
<rect x="327.2" y="439.62" width="14.3" height="3.88" fill="#000"/>
</g>
<path d="M332.8,381.6L335.9,381.6Q340.1,381.6 340.1,385.8L340.1,400.53Q340.1,403.05 337.8,403.33Q340.1,403.61 340.1,406.13L340.1,438.9Q340.1,443.1 335.9,443.1L332.8,443.1Q328.6,443.1 328.6,438.9L328.6,406.13Q328.6,403.61 330.9,403.33Q328.6,403.05 328.6,400.53L328.6,385.8Q328.6,381.6 332.8,381.6Z" fill="none" stroke="#222" stroke-width="0.9"/>
<line x1="330.4" y1="403.33" x2="338.3" y2="403.33" stroke="#1a1a1a" stroke-width="0.8"/>
<path d="M363.1,381.8H370.12V382.6H363.1ZM363.1,382.6H370.38V383.4H363.1ZM363.1,383.4H369.91V384.2H363.1ZM363.1,384.2H369.95V385H363.1ZM363.1,385H369.82V385.8H363.1ZM363.1,385.8H369.98V386.6H363.1ZM363.1,386.6H369.21V387.4H363.1ZM363.1,387.4H369.55V388.2H363.1ZM363.1,388.2H369.62V389H363.1ZM363.1,389H369.72V389.8H363.1ZM363.1,389.8H369.67V390.6H363.1ZM363.1,390.6H370.6V391.4H363.1ZM363.1,391.4H370.47V392.2H363.1ZM363.1,392.2H370.54V393H363.1ZM363.1,393H370.66V393.8H363.1ZM363.1,393.8H369.95V394.6H363.1ZM363.1,394.6H369.63V395.4H363.1ZM363.1,395.4H369.66V396.2H363.1ZM363.1,396.2H369.37V397H363.1ZM363.1,397H369.62V397.8H363.1ZM363.1,397.8H369.34V397.9H363.1Z" fill="#ff0000"/>
<path d="M369.22,381.8h0.9v0.9h-0.9ZM369.48,382.6h0.9v0.9h-0.9ZM369.01,383.4h0.9v0.9h-0.9ZM368.92,385h0.9v0.9h-0.9ZM369.08,385.8h0.9v0.9h-0.9ZM368.72,388.2h0.9v0.9h-0.9ZM368.77,389.8h0.9v0.9h-0.9ZM369.57,391.4h0.9v0.9h-0.9ZM369.64,392.2h0.9v0.9h-0.9ZM368.73,394.6h0.9v0.9h-0.9Z" fill="#b00000" fill-opacity="0.8"/>
<path d="M355.33,406H363.3V406.8H355.33ZM354.69,406.8H363.3V407.6H354.69ZM354.92,407.6H363.3V408.4H354.92ZM355.37,408.4H363.3V409.2H355.37ZM354.72,409.2H363.3V410H354.72ZM353.36,410H363.3V410.8H353.36ZM354.45,410.8H363.3V411.6H354.45ZM353.6,411.6H363.3V412.4H353.6ZM354.06,412.4H363.3V413.2H354.06ZM353.94,413.2H363.3V414H353.94ZM353.42,414H363.3V414.8H353.42ZM352.52,414.8H363.3V415.6H352.52ZM356.06,415.6H363.3V416.4H356.06ZM355.98,416.4H363.3V417.2H355.98ZM355.79,417.2H363.3V418H355.79ZM355.84,418H363.3V418.8H355.84ZM355.51,418.8H363.3V419.6H355.51ZM355.51,419.6H363.3V420.4H355.51ZM355.43,420.4H363.3V421.2H355.43ZM355.61,421.2H363.3V422H355.61ZM355.56,422H363.3V422.8H355.56ZM356.16,422.8H363.3V423.6H356.16ZM355.47,423.6H363.3V424.4H355.47ZM355.32,424.4H363.3V425.2H355.32ZM356.28,425.2H363.3V426H356.28ZM355.35,426H363.3V426.8H355.35ZM355.58,426.8H363.3V427.6H355.58ZM354.99,427.6H363.3V428.4H354.99ZM355.1,428.4H363.3V429.2H355.1ZM354.99,429.2H363.3V430H354.99ZM354.47,430H363.3V430.8H354.47ZM354.89,430.8H363.3V431.6H354.89ZM354.08,431.6H363.3V432.4H354.08ZM353.58,432.4H363.3V433.2H353.58ZM353.99,433.2H363.3V434H353.99ZM354.72,434H363.3V434.8H354.72ZM354.99,434.8H363.3V435.6H354.99ZM355.77,435.6H363.3V436.4H355.77ZM355.96,436.4H363.3V437.2H355.96ZM355.51,437.2H363.3V438H355.51ZM356.53,438H363.3V438.8H356.53ZM356.17,438.8H363.3V439.6H356.17ZM355.84,439.6H363.3V440.4H355.84Z" fill="#00f000"/>
<path d="M355.33,406h0.9v0.9h-0.9ZM354.69,406.8h0.9v0.9h-0.9ZM353.94,413.2h0.9v0.9h-0.9ZM352.52,414.8h0.9v0.9h-0.9ZM355.84,418h0.9v0.9h-0.9ZM355.51,418.8h0.9v0.9h-0.9ZM355.51,419.6h0.9v0.9h-0.9ZM355.61,421.2h0.9v0.9h-0.9ZM356.16,422.8h0.9v0.9h-0.9ZM355.58,426.8h0.9v0.9h-0.9ZM354.99,427.6h0.9v0.9h-0.9ZM354.99,429.2h0.9v0.9h-0.9ZM354.99,434.8h0.9v0.9h-0.9ZM356.53,438h0.9v0.9h-0.9Z" fill="#00a000" fill-opacity="0.8"/>
<line x1="360.9" y1="393.1" x2="363" y2="393.1" stroke="#555" stroke-width="0.8"/>
<line x1="363.3" y1="381.8" x2="363.3" y2="443.7" stroke="#987e9a" stroke-width="1.2"/>
<rect x="347.25" y="454.15" width="30.9" height="1.7" fill="#000"/>
<clipPath id="b7"><path d="M396.6,385.9L400.4,385.9Q404.6,385.9 404.6,390.1L404.6,403.82Q404.6,406.34 402.3,406.62Q404.6,406.9 404.6,409.42L404.6,439.5Q404.6,443.7 400.4,443.7L396.6,443.7Q392.4,443.7 392.4,439.5L392.4,409.42Q392.4,406.9 394.7,406.62Q392.4,406.34 392.4,403.82L392.4,390.1Q392.4,385.9 396.6,385.9Z"/></clipPath>
<g clip-path="url(#b7)">
<rect x="391" y="384.5" width="15" height="60.6" fill="url(#gW)"/>
<rect x="391" y="385.5" width="15" height="8.76" fill="#000"/>
<rect x="391" y="396.11" width="15" height="5.74" fill="#000"/>
<rect x="391" y="403.12" width="15" height="3.5" fill="#000"/>
<rect x="391" y="406.62" width="15" height="7.88" fill="url(#gC)"/>
<rect x="391" y="414.51" width="15" height="8.66" fill="#000"/>
<rect x="391" y="424.63" width="15" height="9.05" fill="#000"/>
<rect x="391" y="435.05" width="15" height="2.14" fill="#000"/>
<rect x="391" y="439.23" width="15" height="2.04" fill="#000"/>
<rect x="391" y="441.28" width="15" height="2.82" fill="url(#gG)"/>
</g>
<path d="M396.6,385.9L400.4,385.9Q404.6,385.9 404.6,390.1L404.6,403.82Q404.6,406.34 402.3,406.62Q404.6,406.9 404.6,409.42L404.6,439.5Q404.6,443.7 400.4,443.7L396.6,443.7Q392.4,443.7 392.4,439.5L392.4,409.42Q392.4,406.9 394.7,406.62Q392.4,406.34 392.4,403.82L392.4,390.1Q392.4,385.9 396.6,385.9Z" fill="none" stroke="#222" stroke-width="0.9"/>
<line x1="394.2" y1="406.62" x2="402.8" y2="406.62" stroke="#1a1a1a" stroke-width="0.8"/>
<path d="M427.2,385.9H436.04V386.7H427.2ZM427.2,386.7H435.93V387.5H427.2ZM427.2,387.5H436.5V388.3H427.2ZM427.2,388.3H434.02V389.1H427.2ZM427.2,389.1H433.79V389.9H427.2ZM427.2,389.9H433.5V390.7H427.2ZM427.2,390.7H435.02V391.5H427.2ZM427.2,391.5H435.22V392.3H427.2ZM427.2,392.3H435.48V393.1H427.2ZM427.2,393.1H435.69V393.9H427.2ZM427.2,393.9H435.86V394.7H427.2ZM427.2,394.7H435.79V395.5H427.2ZM427.2,395.5H435.81V396.3H427.2ZM427.2,396.3H435.83V397.1H427.2ZM427.2,397.1H435.93V397.9H427.2ZM427.2,397.9H435.9V398.7H427.2ZM427.2,398.7H435.81V399.5H427.2ZM427.2,399.5H435.6V400.3H427.2ZM427.2,400.3H435.48V401.1H427.2ZM427.2,401.1H435.45V401.9H427.2ZM427.2,401.9H435.07V402.7H427.2ZM427.2,402.7H434.62V403.5H427.2ZM427.2,403.5H434.52V404.3H427.2ZM427.2,404.3H433.93V405.1H427.2ZM427.2,405.1H433.54V405.9H427.2ZM427.2,405.9H433.45V406.7H427.2ZM427.2,406.7H432.95V406.9H427.2Z" fill="#ff0000"/>
<path d="M435.03,386.7h0.9v0.9h-0.9ZM432.6,389.9h0.9v0.9h-0.9ZM434.32,391.5h0.9v0.9h-0.9ZM435.03,397.1h0.9v0.9h-0.9ZM435,397.9h0.9v0.9h-0.9ZM433.62,403.5h0.9v0.9h-0.9ZM432.64,405.1h0.9v0.9h-0.9Z" fill="#b00000" fill-opacity="0.8"/>
<path d="M427.2,410.2H432.89V411H427.2ZM427.2,411H433.35V411.8H427.2ZM427.2,411.8H434.07V412.6H427.2ZM427.2,412.6H434.34V413.4H427.2ZM427.2,413.4H434.27V414.2H427.2ZM427.2,414.2H434.37V415H427.2ZM427.2,415H433.94V415.8H427.2ZM427.2,415.8H433.61V416.6H427.2ZM427.2,416.6H434.05V417.4H427.2ZM427.2,417.4H434.34V418.2H427.2ZM427.2,418.2H434.03V419H427.2ZM427.2,419H434.01V419.8H427.2ZM427.2,419.8H434.1V420.6H427.2ZM427.2,420.6H433.64V421.4H427.2ZM427.2,421.4H433.43V422.2H427.2ZM427.2,422.2H433.64V423H427.2ZM427.2,423H433.18V423.8H427.2ZM427.2,423.8H433.42V424.6H427.2ZM427.2,424.6H433.56V425.4H427.2ZM427.2,425.4H433.87V426.2H427.2ZM427.2,426.2H433.45V427H427.2ZM427.2,427H433.9V427.8H427.2ZM427.2,427.8H433.52V428.6H427.2ZM427.2,428.6H433.24V429.4H427.2ZM427.2,429.4H433.88V430.2H427.2ZM427.2,430.2H433.51V431H427.2ZM427.2,431H433.82V431.8H427.2ZM427.2,431.8H433.76V432.6H427.2ZM427.2,432.6H433.81V433.4H427.2ZM427.2,433.4H433.23V434.2H427.2ZM427.2,434.2H433.51V435H427.2ZM427.2,435H433.25V435.8H427.2ZM427.2,435.8H433.6V436.6H427.2ZM427.2,436.6H433.38V437.4H427.2ZM427.2,437.4H433.61V438.2H427.2ZM427.2,438.2H433.43V439H427.2ZM427.2,439H433.35V439.8H427.2ZM427.2,439.8H433.1V440.6H427.2ZM427.2,440.6H433.77V441.4H427.2ZM427.2,441.4H433.63V442.2H427.2ZM427.2,442.2H433.5V443H427.2ZM427.2,443H433.31V443.8H427.2ZM427.2,443.8H433.53V444.6H427.2ZM427.2,444.6H433.56V445.2H427.2Z" fill="#ff0000"/>
<path d="M431.99,410.2h0.9v0.9h-0.9ZM433.17,411.8h0.9v0.9h-0.9ZM433.44,412.6h0.9v0.9h-0.9ZM433.47,414.2h0.9v0.9h-0.9ZM432.71,415.8h0.9v0.9h-0.9ZM433,427h0.9v0.9h-0.9ZM432.34,428.6h0.9v0.9h-0.9ZM432.61,430.2h0.9v0.9h-0.9ZM432.33,433.4h0.9v0.9h-0.9ZM432.35,435h0.9v0.9h-0.9ZM432.71,437.4h0.9v0.9h-0.9ZM432.2,439.8h0.9v0.9h-0.9ZM432.73,441.4h0.9v0.9h-0.9Z" fill="#b00000" fill-opacity="0.8"/>
<polygon points="428.2,422.6 434.5,422.6 434.5,423.6 428.2,423.6" fill="#fff"/>
<polygon points="428.2,425.7 434.5,425.7 434.5,426.7 428.2,426.7" fill="#fff"/>
<polygon points="428.2,428.7 434.5,428.7 434.5,429.7 428.2,429.7" fill="#fff"/>
<polygon points="428.2,431.8 434.5,431.8 434.5,432.8 428.2,432.8" fill="#fff"/>
<polygon points="428.2,434.9 434.5,434.9 434.5,435.9 428.2,435.9" fill="#fff"/>
<polygon points="428.2,438 434.5,438 434.5,439 428.2,439" fill="#fff"/>
<line x1="427.3" y1="385.9" x2="427.3" y2="445.2" stroke="#f0a0a0" stroke-width="1.2"/>
<rect x="411.3" y="454.15" width="30.9" height="1.7" fill="#000"/>
<clipPath id="b8"><path d="M460.9,390.6L464.1,390.6Q468.3,390.6 468.3,394.8L468.3,404.27Q468.3,406.79 466,407.07Q468.3,407.35 468.3,409.87L468.3,439.5Q468.3,443.7 464.1,443.7L460.9,443.7Q456.7,443.7 456.7,439.5L456.7,409.87Q456.7,407.35 459,407.07Q456.7,406.79 456.7,404.27L456.7,394.8Q456.7,390.6 460.9,390.6Z"/></clipPath>
<g clip-path="url(#b8)">
<rect x="455.3" y="389.2" width="14.4" height="55.9" fill="url(#gW)"/>
<rect x="455.3" y="390.2" width="14.4" height="4.85" fill="url(#gG)"/>
<rect x="455.3" y="395.05" width="14.4" height="1.74" fill="#000"/>
<rect x="455.3" y="400.77" width="14.4" height="3.68" fill="#000"/>
<rect x="455.3" y="404.45" width="14.4" height="5.82" fill="url(#gC)"/>
<rect x="455.3" y="410.27" width="14.4" height="4.85" fill="#000"/>
<rect x="455.3" y="417.15" width="14.4" height="7.56" fill="#000"/>
<rect x="455.3" y="424.71" width="14.4" height="4.17" fill="url(#gG)"/>
<rect x="455.3" y="428.88" width="14.4" height="4.85" fill="#000"/>
<rect x="455.3" y="433.73" width="14.4" height="10.37" fill="url(#gG)"/>
</g>
<path d="M460.9,390.6L464.1,390.6Q468.3,390.6 468.3,394.8L468.3,404.27Q468.3,406.79 466,407.07Q468.3,407.35 468.3,409.87L468.3,439.5Q468.3,443.7 464.1,443.7L460.9,443.7Q456.7,443.7 456.7,439.5L456.7,409.87Q456.7,407.35 459,407.07Q456.7,406.79 456.7,404.27L456.7,394.8Q456.7,390.6 460.9,390.6Z" fill="none" stroke="#222" stroke-width="0.9"/>
<line x1="458.5" y1="407.07" x2="466.5" y2="407.07" stroke="#1a1a1a" stroke-width="0.8"/>
<polygon points="491.1,436.8 496.5,436.8 497.8,437.3 498.6,438.5 499.6,440.5 499.6,443.7 491.1,443.7" fill="#ff0000"/>
<line x1="485.7" y1="422" x2="491.1" y2="422" stroke="#98b898" stroke-width="0.8"/>
<line x1="491.1" y1="422" x2="498.7" y2="422" stroke="#a88888" stroke-width="0.8"/>
<line x1="491.1" y1="389.6" x2="491.1" y2="444" stroke="#987e9a" stroke-width="1.2"/>
<rect x="475.35" y="454.15" width="30.9" height="1.7" fill="#000"/>
<clipPath id="b9"><path d="M12.1,485.4L15.4,485.4Q19.6,485.4 19.6,489.6L19.6,499.1Q19.6,501.62 17.3,501.9Q19.6,502.18 19.6,504.7L19.6,529.2Q19.6,533.4 15.4,533.4L12.1,533.4Q7.9,533.4 7.9,529.2L7.9,504.7Q7.9,502.18 10.2,501.9Q7.9,501.62 7.9,499.1L7.9,489.6Q7.9,485.4 12.1,485.4Z"/></clipPath>
<g clip-path="url(#b9)">
<rect x="6.5" y="484" width="14.5" height="50.8" fill="url(#gW)"/>
<rect x="6.5" y="485" width="14.5" height="1.53" fill="#000"/>
<rect x="6.5" y="488.44" width="14.5" height="2.29" fill="#000"/>
<rect x="6.5" y="492.07" width="14.5" height="5.92" fill="#000"/>
<rect x="6.5" y="499.32" width="14.5" height="17.29" fill="#000"/>
<rect x="6.5" y="516.61" width="14.5" height="3.63" fill="url(#gG)"/>
<rect x="6.5" y="520.24" width="14.5" height="4.49" fill="#000"/>
<rect x="6.5" y="526.54" width="14.5" height="4.11" fill="#000"/>
<rect x="6.5" y="532.46" width="14.5" height="1.34" fill="#000"/>
</g>
<path d="M12.1,485.4L15.4,485.4Q19.6,485.4 19.6,489.6L19.6,499.1Q19.6,501.62 17.3,501.9Q19.6,502.18 19.6,504.7L19.6,529.2Q19.6,533.4 15.4,533.4L12.1,533.4Q7.9,533.4 7.9,529.2L7.9,504.7Q7.9,502.18 10.2,501.9Q7.9,501.62 7.9,499.1L7.9,489.6Q7.9,485.4 12.1,485.4Z" fill="none" stroke="#222" stroke-width="0.9"/>
<line x1="9.7" y1="501.9" x2="17.8" y2="501.9" stroke="#1a1a1a" stroke-width="0.8"/>
<line x1="43.3" y1="485" x2="43.3" y2="534.5" stroke="#987e9a" stroke-width="1.2"/>
<rect x="27" y="544.35" width="30.9" height="1.7" fill="#000"/>
<clipPath id="b10"><path d="M76.3,484.8L79.4,484.8Q83.6,484.8 83.6,489L83.6,496.27Q83.6,498.79 81.3,499.07Q83.6,499.35 83.6,501.87L83.6,529.6Q83.6,533.8 79.4,533.8L76.3,533.8Q72.1,533.8 72.1,529.6L72.1,501.87Q72.1,499.35 74.4,499.07Q72.1,498.79 72.1,496.27L72.1,489Q72.1,484.8 76.3,484.8Z"/></clipPath>
<g clip-path="url(#b10)">
<rect x="70.7" y="483.4" width="14.3" height="51.8" fill="url(#gW)"/>
<rect x="70.7" y="484.4" width="14.3" height="1.54" fill="#000"/>
<rect x="70.7" y="487.1" width="14.3" height="1.93" fill="#000"/>
<rect x="70.7" y="490.19" width="14.3" height="5.02" fill="#000"/>
<rect x="70.7" y="495.21" width="14.3" height="8.3" fill="url(#gC)"/>
<rect x="70.7" y="503.51" width="14.3" height="6.76" fill="#000"/>
<rect x="70.7" y="510.27" width="14.3" height="5.02" fill="url(#gG)"/>
<rect x="70.7" y="515.28" width="14.3" height="5.5" fill="#000"/>
<rect x="70.7" y="523" width="14.3" height="5.6" fill="#000"/>
<rect x="70.7" y="528.6" width="14.3" height="5.6" fill="url(#gG)"/>
</g>
<path d="M76.3,484.8L79.4,484.8Q83.6,484.8 83.6,489L83.6,496.27Q83.6,498.79 81.3,499.07Q83.6,499.35 83.6,501.87L83.6,529.6Q83.6,533.8 79.4,533.8L76.3,533.8Q72.1,533.8 72.1,529.6L72.1,501.87Q72.1,499.35 74.4,499.07Q72.1,498.79 72.1,496.27L72.1,489Q72.1,484.8 76.3,484.8Z" fill="none" stroke="#222" stroke-width="0.9"/>
<line x1="73.9" y1="499.07" x2="81.8" y2="499.07" stroke="#1a1a1a" stroke-width="0.8"/>
<path d="M98.62,515.8H107.9V516.6H98.62ZM98.85,516.6H107.9V517.4H98.85ZM98.36,517.4H107.9V518.2H98.36ZM97.62,518.2H107.9V519H97.62ZM97.02,519H107.9V519.8H97.02ZM96.68,519.8H107.9V520.6H96.68ZM97.34,520.6H107.9V521.4H97.34ZM97.07,521.4H107.9V522.2H97.07ZM97.55,522.2H107.9V523H97.55ZM98.18,523H107.9V523.8H98.18ZM98.62,523.8H107.9V524.6H98.62ZM98.7,524.6H107.9V525.4H98.7ZM98.93,525.4H107.9V525.6H98.93Z" fill="#00f000"/>
<path d="M98.62,515.8h0.9v0.9h-0.9ZM98.85,516.6h0.9v0.9h-0.9ZM98.36,517.4h0.9v0.9h-0.9ZM96.68,519.8h0.9v0.9h-0.9ZM97.34,520.6h0.9v0.9h-0.9ZM97.55,522.2h0.9v0.9h-0.9ZM98.62,523.8h0.9v0.9h-0.9Z" fill="#00a000" fill-opacity="0.8"/>
<line x1="107.9" y1="484.6" x2="107.9" y2="534.2" stroke="#987e9a" stroke-width="1.2"/>
<rect x="91.05" y="544.35" width="30.9" height="1.7" fill="#000"/>
<clipPath id="b11"><path d="M140.9,485.4L144.2,485.4Q148.4,485.4 148.4,489.6L148.4,501.84Q148.4,504.36 146.1,504.64Q148.4,504.92 148.4,507.44L148.4,529.2Q148.4,533.4 144.2,533.4L140.9,533.4Q136.7,533.4 136.7,529.2L136.7,507.44Q136.7,504.92 139,504.64Q136.7,504.36 136.7,501.84L136.7,489.6Q136.7,485.4 140.9,485.4Z"/></clipPath>
<g clip-path="url(#b11)">
<rect x="135.3" y="484" width="14.5" height="50.8" fill="url(#gW)"/>
<rect x="135.3" y="485" width="14.5" height="7.29" fill="url(#gG)"/>
<rect x="135.3" y="492.29" width="14.5" height="4.47" fill="#000"/>
<rect x="135.3" y="499" width="14.5" height="2.24" fill="#000"/>
<rect x="135.3" y="501.23" width="14.5" height="2.82" fill="url(#gC)"/>
<rect x="135.3" y="504.05" width="14.5" height="5.05" fill="#000"/>
<rect x="135.3" y="509.11" width="14.5" height="4.47" fill="url(#gG)"/>
<rect x="135.3" y="513.58" width="14.5" height="5.64" fill="#000"/>
<rect x="135.3" y="521.45" width="14.5" height="5.64" fill="#000"/>
<rect x="135.3" y="527.09" width="14.5" height="3.31" fill="url(#gG)"/>
<rect x="135.3" y="530.4" width="14.5" height="3.4" fill="#000"/>
</g>
<path d="M140.9,485.4L144.2,485.4Q148.4,485.4 148.4,489.6L148.4,501.84Q148.4,504.36 146.1,504.64Q148.4,504.92 148.4,507.44L148.4,529.2Q148.4,533.4 144.2,533.4L140.9,533.4Q136.7,533.4 136.7,529.2L136.7,507.44Q136.7,504.92 139,504.64Q136.7,504.36 136.7,501.84L136.7,489.6Q136.7,485.4 140.9,485.4Z" fill="none" stroke="#222" stroke-width="0.9"/>
<line x1="138.5" y1="504.64" x2="146.6" y2="504.64" stroke="#1a1a1a" stroke-width="0.8"/>
<line x1="171.3" y1="485" x2="171.3" y2="534.5" stroke="#987e9a" stroke-width="1.2"/>
<rect x="155.1" y="544.35" width="30.9" height="1.7" fill="#000"/>
<clipPath id="b12"><path d="M205.1,485.4L208.2,485.4Q212.4,485.4 212.4,489.6L212.4,494.35Q212.4,496.87 210.1,497.15Q212.4,497.43 212.4,499.95L212.4,529.2Q212.4,533.4 208.2,533.4L205.1,533.4Q200.9,533.4 200.9,529.2L200.9,499.95Q200.9,497.43 203.2,497.15Q200.9,496.87 200.9,494.35L200.9,489.6Q200.9,485.4 205.1,485.4Z"/></clipPath>
<g clip-path="url(#b12)">
<rect x="199.5" y="484" width="14.3" height="50.8" fill="url(#gW)"/>
<rect x="199.5" y="485" width="14.3" height="3.89" fill="url(#gG)"/>
<rect x="199.5" y="488.89" width="14.3" height="5.05" fill="#000"/>
<rect x="199.5" y="493.94" width="14.3" height="3.4" fill="url(#gC)"/>
<rect x="199.5" y="497.35" width="14.3" height="5.05" fill="#000"/>
<rect x="199.5" y="502.4" width="14.3" height="3.31" fill="url(#gG)"/>
<rect x="199.5" y="505.71" width="14.3" height="4.57" fill="#000"/>
<rect x="199.5" y="511.34" width="14.3" height="8.46" fill="#000"/>
<rect x="199.5" y="520.87" width="14.3" height="5.05" fill="#000"/>
<rect x="199.5" y="525.93" width="14.3" height="7.87" fill="url(#gG)"/>
</g>
<path d="M205.1,485.4L208.2,485.4Q212.4,485.4 212.4,489.6L212.4,494.35Q212.4,496.87 210.1,497.15Q212.4,497.43 212.4,499.95L212.4,529.2Q212.4,533.4 208.2,533.4L205.1,533.4Q200.9,533.4 200.9,529.2L200.9,499.95Q200.9,497.43 203.2,497.15Q200.9,496.87 200.9,494.35L200.9,489.6Q200.9,485.4 205.1,485.4Z" fill="none" stroke="#222" stroke-width="0.9"/>
<line x1="202.7" y1="497.15" x2="210.6" y2="497.15" stroke="#1a1a1a" stroke-width="0.8"/>
<polygon points="235.6,498.8 241.2,498.8 241.4,501 242,503 243.1,503.5 247.7,503.8 247.7,504.7 243.2,505.2 243,507.5 242,509 240.8,510 240.8,511.9 235.6,511.9" fill="#ff0000"/>
<line x1="235.6" y1="485" x2="235.6" y2="534.5" stroke="#987e9a" stroke-width="1.2"/>
<rect x="219.15" y="544.35" width="30.9" height="1.7" fill="#000"/>
<clipPath id="b13"><path d="M268.4,492.9L272.4,492.9Q276.6,492.9 276.6,497.1L276.6,495.03Q276.6,497.55 274.3,497.83Q276.6,498.11 276.6,500.63L276.6,529.9Q276.6,534.1 272.4,534.1L268.4,534.1Q264.2,534.1 264.2,529.9L264.2,500.63Q264.2,498.11 266.5,497.83Q264.2,497.55 264.2,495.03L264.2,497.1Q264.2,492.9 268.4,492.9Z"/></clipPath>
<g clip-path="url(#b13)">
<rect x="262.8" y="491.5" width="15.2" height="44" fill="url(#gW)"/>
<rect x="262.8" y="492.5" width="15.2" height="1.36" fill="#000"/>
<rect x="262.8" y="496.19" width="15.2" height="4.17" fill="#000"/>
<rect x="262.8" y="500.36" width="15.2" height="3.88" fill="url(#gG)"/>
<rect x="262.8" y="504.24" width="15.2" height="3.39" fill="#000"/>
<rect x="262.8" y="507.63" width="15.2" height="4.46" fill="url(#gG)"/>
<rect x="262.8" y="512.09" width="15.2" height="7.86" fill="#000"/>
<rect x="262.8" y="521.6" width="15.2" height="6.69" fill="#000"/>
<rect x="262.8" y="530.52" width="15.2" height="1.75" fill="#000"/>
</g>
<path d="M268.4,492.9L272.4,492.9Q276.6,492.9 276.6,497.1L276.6,495.03Q276.6,497.55 274.3,497.83Q276.6,498.11 276.6,500.63L276.6,529.9Q276.6,534.1 272.4,534.1L268.4,534.1Q264.2,534.1 264.2,529.9L264.2,500.63Q264.2,498.11 266.5,497.83Q264.2,497.55 264.2,495.03L264.2,497.1Q264.2,492.9 268.4,492.9Z" fill="none" stroke="#222" stroke-width="0.9"/>
<line x1="266" y1="497.83" x2="274.8" y2="497.83" stroke="#1a1a1a" stroke-width="0.8"/>
<line x1="300.5" y1="492.5" x2="300.5" y2="535" stroke="#987e9a" stroke-width="1.2"/>
<rect x="283.2" y="544.35" width="30.9" height="1.7" fill="#000"/>
<clipPath id="b14"><path d="M332.6,496.7L336.7,496.7Q340.9,496.7 340.9,500.9L340.9,498.97Q340.9,501.49 338.6,501.77Q340.9,502.05 340.9,504.57L340.9,529.9Q340.9,534.1 336.7,534.1L332.6,534.1Q328.4,534.1 328.4,529.9L328.4,504.57Q328.4,502.05 330.7,501.77Q328.4,501.49 328.4,498.97L328.4,500.9Q328.4,496.7 332.6,496.7Z"/></clipPath>
<g clip-path="url(#b14)">
<rect x="327" y="495.3" width="15.3" height="40.2" fill="url(#gW)"/>
<rect x="327" y="496.3" width="15.3" height="1.06" fill="#000"/>
<rect x="327" y="497.36" width="15.3" height="3.07" fill="url(#gC)"/>
<rect x="327" y="500.43" width="15.3" height="3.07" fill="#000"/>
<rect x="327" y="504.27" width="15.3" height="3.65" fill="#000"/>
<rect x="327" y="508.97" width="15.3" height="4.99" fill="#000"/>
<rect x="327" y="516.17" width="15.3" height="4.42" fill="#000"/>
<rect x="327" y="520.58" width="15.3" height="3.94" fill="url(#gG)"/>
<rect x="327" y="524.52" width="15.3" height="4.42" fill="#000"/>
<rect x="327" y="528.93" width="15.3" height="5.57" fill="url(#gG)"/>
</g>
<path d="M332.6,496.7L336.7,496.7Q340.9,496.7 340.9,500.9L340.9,498.97Q340.9,501.49 338.6,501.77Q340.9,502.05 340.9,504.57L340.9,529.9Q340.9,534.1 336.7,534.1L332.6,534.1Q328.4,534.1 328.4,529.9L328.4,504.57Q328.4,502.05 330.7,501.77Q328.4,501.49 328.4,498.97L328.4,500.9Q328.4,496.7 332.6,496.7Z" fill="none" stroke="#222" stroke-width="0.9"/>
<line x1="330.2" y1="501.77" x2="339.1" y2="501.77" stroke="#1a1a1a" stroke-width="0.8"/>
<line x1="364.3" y1="496.3" x2="364.3" y2="535" stroke="#987e9a" stroke-width="1.2"/>
<rect x="347.25" y="544.35" width="30.9" height="1.7" fill="#000"/>
<clipPath id="b15"><path d="M396.6,498.4L400.4,498.4Q404.6,498.4 404.6,502.6L404.6,501.33Q404.6,503.85 402.3,504.13Q404.6,504.41 404.6,506.93L404.6,529.9Q404.6,534.1 400.4,534.1L396.6,534.1Q392.4,534.1 392.4,529.9L392.4,506.93Q392.4,504.41 394.7,504.13Q392.4,503.85 392.4,501.33L392.4,502.6Q392.4,498.4 396.6,498.4Z"/></clipPath>
<g clip-path="url(#b15)">
<rect x="391" y="497" width="15" height="38.5" fill="url(#gW)"/>
<rect x="391" y="498" width="15" height="1.17" fill="#000"/>
<rect x="391" y="499.17" width="15" height="3.41" fill="url(#gC)"/>
<rect x="391" y="502.57" width="15" height="4.96" fill="#000"/>
<rect x="391" y="509.19" width="15" height="2.24" fill="#000"/>
<rect x="391" y="512.6" width="15" height="6.72" fill="#000"/>
<rect x="391" y="519.32" width="15" height="2.24" fill="url(#gG)"/>
<rect x="391" y="521.55" width="15" height="2.24" fill="url(#gD)"/>
<rect x="391" y="525.45" width="15" height="6.23" fill="#000"/>
<rect x="391" y="531.68" width="15" height="2.82" fill="url(#gG)"/>
</g>
<path d="M396.6,498.4L400.4,498.4Q404.6,498.4 404.6,502.6L404.6,501.33Q404.6,503.85 402.3,504.13Q404.6,504.41 404.6,506.93L404.6,529.9Q404.6,534.1 400.4,534.1L396.6,534.1Q392.4,534.1 392.4,529.9L392.4,506.93Q392.4,504.41 394.7,504.13Q392.4,503.85 392.4,501.33L392.4,502.6Q392.4,498.4 396.6,498.4Z" fill="none" stroke="#222" stroke-width="0.9"/>
<line x1="394.2" y1="504.13" x2="402.8" y2="504.13" stroke="#1a1a1a" stroke-width="0.8"/>
<line x1="427.5" y1="497.5" x2="427.5" y2="535" stroke="#987e9a" stroke-width="1.2"/>
<rect x="411.3" y="544.35" width="30.9" height="1.7" fill="#000"/>
<clipPath id="b16"><path d="M460.9,501.7L464.9,501.7Q469.1,501.7 469.1,505.9L469.1,511.99Q469.1,514.51 466.8,514.79Q469.1,515.07 469.1,517.59L469.1,529.2Q469.1,533.4 464.9,533.4L460.9,533.4Q456.7,533.4 456.7,529.2L456.7,517.59Q456.7,515.07 459,514.79Q456.7,514.51 456.7,511.99L456.7,505.9Q456.7,501.7 460.9,501.7Z"/></clipPath>
<g clip-path="url(#b16)">
<rect x="455.3" y="500.3" width="15.2" height="34.5" fill="url(#gW)"/>
<rect x="455.3" y="501.3" width="15.2" height="5.04" fill="url(#gG)"/>
<rect x="455.3" y="506.34" width="15.2" height="5.63" fill="#000"/>
<rect x="455.3" y="511.97" width="15.2" height="5.63" fill="url(#gC)"/>
<rect x="455.3" y="517.6" width="15.2" height="8.34" fill="#000"/>
<rect x="455.3" y="525.94" width="15.2" height="3.98" fill="url(#gG)"/>
<rect x="455.3" y="529.92" width="15.2" height="3.88" fill="#000"/>
</g>
<path d="M460.9,501.7L464.9,501.7Q469.1,501.7 469.1,505.9L469.1,511.99Q469.1,514.51 466.8,514.79Q469.1,515.07 469.1,517.59L469.1,529.2Q469.1,533.4 464.9,533.4L460.9,533.4Q456.7,533.4 456.7,529.2L456.7,517.59Q456.7,515.07 459,514.79Q456.7,514.51 456.7,511.99L456.7,505.9Q456.7,501.7 460.9,501.7Z" fill="none" stroke="#222" stroke-width="0.9"/>
<line x1="458.5" y1="514.79" x2="467.3" y2="514.79" stroke="#1a1a1a" stroke-width="0.8"/>
<line x1="491.3" y1="501.3" x2="491.3" y2="535" stroke="#987e9a" stroke-width="1.2"/>
<rect x="475.35" y="544.35" width="30.9" height="1.7" fill="#000"/>
<clipPath id="b17"><path d="M12.7,576.4L16.4,576.4Q20.6,576.4 20.6,580.6L20.6,579.98Q20.6,582.5 18.3,582.78Q20.6,583.06 20.6,585.58L20.6,601.8Q20.6,606 16.4,606L12.7,606Q8.5,606 8.5,601.8L8.5,585.58Q8.5,583.06 10.8,582.78Q8.5,582.5 8.5,579.98L8.5,580.6Q8.5,576.4 12.7,576.4Z"/></clipPath>
<g clip-path="url(#b17)">
<rect x="7.1" y="575" width="14.9" height="32.4" fill="url(#gW)"/>
<rect x="7.1" y="576" width="14.9" height="1.1" fill="#000"/>
<rect x="7.1" y="579.39" width="14.9" height="2.69" fill="#000"/>
<rect x="7.1" y="583.48" width="14.9" height="4.58" fill="url(#gC)"/>
<rect x="7.1" y="588.06" width="14.9" height="2.89" fill="#000"/>
<rect x="7.1" y="590.95" width="14.9" height="3.39" fill="url(#gG)"/>
<rect x="7.1" y="594.34" width="14.9" height="2.29" fill="#000"/>
<rect x="7.1" y="596.63" width="14.9" height="2.89" fill="url(#gG)"/>
<rect x="7.1" y="599.52" width="14.9" height="4.09" fill="#000"/>
</g>
<path d="M12.7,576.4L16.4,576.4Q20.6,576.4 20.6,580.6L20.6,579.98Q20.6,582.5 18.3,582.78Q20.6,583.06 20.6,585.58L20.6,601.8Q20.6,606 16.4,606L12.7,606Q8.5,606 8.5,601.8L8.5,585.58Q8.5,583.06 10.8,582.78Q8.5,582.5 8.5,579.98L8.5,580.6Q8.5,576.4 12.7,576.4Z" fill="none" stroke="#222" stroke-width="0.9"/>
<line x1="10.3" y1="582.78" x2="18.8" y2="582.78" stroke="#1a1a1a" stroke-width="0.8"/>
<polygon points="36.3,576.6 43.8,576.6 43.8,580.1 36.3,580.1" fill="#00f000"/>
<path d="M43.8,588.2H49.87V589H43.8ZM43.8,589H50.31V589.8H43.8ZM43.8,589.8H50.49V590.6H43.8ZM43.8,590.6H50.93V591.4H43.8ZM43.8,591.4H50.07V592.2H43.8ZM43.8,592.2H50.76V593H43.8ZM43.8,593H50.86V593.8H43.8ZM43.8,593.8H50.92V594.6H43.8ZM43.8,594.6H50.34V595.4H43.8ZM43.8,595.4H50.5V596.2H43.8ZM43.8,596.2H50.15V597H43.8ZM43.8,597H50.52V597.8H43.8ZM43.8,597.8H50.47V598.6H43.8ZM43.8,598.6H50.58V599.4H43.8ZM43.8,599.4H51.06V600.2H43.8ZM43.8,600.2H50.53V601H43.8ZM43.8,601H50.55V601.8H43.8ZM43.8,601.8H50.66V602.6H43.8ZM43.8,602.6H50.62V603.4H43.8ZM43.8,603.4H50.76V604.2H43.8ZM43.8,604.2H50.51V605H43.8ZM43.8,605H50.47V605.8H43.8ZM43.8,605.8H50.81V606.6H43.8Z" fill="#ff0000"/>
<path d="M49.59,589.8h0.9v0.9h-0.9ZM49.86,592.2h0.9v0.9h-0.9ZM49.6,595.4h0.9v0.9h-0.9ZM49.57,597.8h0.9v0.9h-0.9ZM49.68,598.6h0.9v0.9h-0.9ZM50.16,599.4h0.9v0.9h-0.9ZM49.63,600.2h0.9v0.9h-0.9ZM49.76,601.8h0.9v0.9h-0.9ZM49.86,603.4h0.9v0.9h-0.9ZM49.61,604.2h0.9v0.9h-0.9ZM49.57,605h0.9v0.9h-0.9ZM49.91,605.8h0.9v0.9h-0.9Z" fill="#b00000" fill-opacity="0.8"/>
<polygon points="44.5,593.5 49,593.5 49,594.3 44.5,594.3" fill="#fff"/>
<polygon points="44.5,598.1 49.5,598.1 49.5,598.9 44.5,598.9" fill="#fff"/>
<polygon points="44.5,602.2 49.5,602.2 49.5,603 44.5,603" fill="#fff"/>
<polygon points="41,592.2 43.8,592.2 43.8,594.5 41,594.5" fill="#00f000"/>
<polygon points="41,598 43.8,598 43.8,600.3 41,600.3" fill="#00f000"/>
<polygon points="41,604.3 43.8,604.3 43.8,606.6 41,606.6" fill="#00f000"/>
<line x1="43.8" y1="577.6" x2="45.6" y2="577.6" stroke="#ff0000" stroke-width="1"/>
<line x1="43.8" y1="576" x2="43.8" y2="588.5" stroke="#987e9a" stroke-width="1.2"/>
<rect x="27" y="617.45" width="30.9" height="1.7" fill="#000"/>
<clipPath id="b18"><path d="M76.5,579.6L80,579.6Q84.2,579.6 84.2,583.8L84.2,580.76Q84.2,583.28 81.9,583.56Q84.2,583.84 84.2,586.36L84.2,601.4Q84.2,605.6 80,605.6L76.5,605.6Q72.3,605.6 72.3,601.4L72.3,586.36Q72.3,583.84 74.6,583.56Q72.3,583.28 72.3,580.76L72.3,583.8Q72.3,579.6 76.5,579.6Z"/></clipPath>
<g clip-path="url(#b18)">
<rect x="70.9" y="578.2" width="14.7" height="28.8" fill="url(#gW)"/>
<rect x="70.9" y="579.2" width="14.7" height="2.18" fill="#000"/>
<rect x="70.9" y="582.99" width="14.7" height="2.18" fill="#000"/>
<rect x="70.9" y="585.17" width="14.7" height="1.7" fill="url(#gC)"/>
<rect x="70.9" y="586.87" width="14.7" height="8.14" fill="#000"/>
<rect x="70.9" y="595.01" width="14.7" height="4.92" fill="url(#gG)"/>
<rect x="70.9" y="599.94" width="14.7" height="1.14" fill="#000"/>
<rect x="70.9" y="602.12" width="14.7" height="3.88" fill="#000"/>
</g>
<path d="M76.5,579.6L80,579.6Q84.2,579.6 84.2,583.8L84.2,580.76Q84.2,583.28 81.9,583.56Q84.2,583.84 84.2,586.36L84.2,601.4Q84.2,605.6 80,605.6L76.5,605.6Q72.3,605.6 72.3,601.4L72.3,586.36Q72.3,583.84 74.6,583.56Q72.3,583.28 72.3,580.76L72.3,583.8Q72.3,579.6 76.5,579.6Z" fill="none" stroke="#222" stroke-width="0.9"/>
<line x1="74.1" y1="583.56" x2="82.4" y2="583.56" stroke="#1a1a1a" stroke-width="0.8"/>
<path d="M107.1,579.1H119.15V579.9H107.1ZM107.1,579.9H119.17V580.7H107.1ZM107.1,580.7H120.57V581.5H107.1ZM107.1,581.5H120.37V582.3H107.1ZM107.1,582.3H119.55V583.1H107.1ZM107.1,583.1H119.33V583.9H107.1ZM107.1,583.9H119.34V584.3H107.1Z" fill="#ff0000"/>
<path d="M118.27,579.9h0.9v0.9h-0.9ZM119.67,580.7h0.9v0.9h-0.9ZM118.65,582.3h0.9v0.9h-0.9Z" fill="#b00000" fill-opacity="0.8"/>
<path d="M107.1,585.4H119.85V586.2H107.1ZM107.1,586.2H120V587H107.1ZM107.1,587H119.98V587.8H107.1ZM107.1,587.8H120.1V588.6H107.1ZM107.1,588.6H120.2V589.4H107.1ZM107.1,589.4H119.93V590.2H107.1ZM107.1,590.2H120.05V591H107.1ZM107.1,591H120.19V591.8H107.1ZM107.1,591.8H120.01V592.6H107.1ZM107.1,592.6H121.59V593.4H107.1ZM107.1,593.4H121.64V594.2H107.1ZM107.1,594.2H121.39V595H107.1ZM107.1,595H119.94V595.8H107.1ZM107.1,595.8H119.84V596.6H107.1ZM107.1,596.6H119.91V597.4H107.1ZM107.1,597.4H119.8V598.2H107.1ZM107.1,598.2H119.93V599H107.1ZM107.1,599H119.9V599.8H107.1ZM107.1,599.8H119.91V600.6H107.1ZM107.1,600.6H119.81V601.4H107.1Z" fill="#ff0000"/>
<path d="M119.1,586.2h0.9v0.9h-0.9ZM119.08,587h0.9v0.9h-0.9ZM119.2,587.8h0.9v0.9h-0.9ZM119.03,589.4h0.9v0.9h-0.9ZM119.15,590.2h0.9v0.9h-0.9ZM119.29,591h0.9v0.9h-0.9ZM120.49,594.2h0.9v0.9h-0.9ZM119.04,595h0.9v0.9h-0.9ZM119,599h0.9v0.9h-0.9ZM119.01,599.8h0.9v0.9h-0.9Z" fill="#b00000" fill-opacity="0.8"/>
<polygon points="107.1,601.4 112.8,601.4 112.8,602.8 107.1,602.8" fill="#ff0000"/>
<polygon points="107.1,604.2 114,604.2 114,607.3 107.1,607.3" fill="#ff0000"/>
<polygon points="104.8,605.6 107.1,605.6 107.1,607.5 104.8,607.5" fill="#00f000"/>
<rect x="91.05" y="617.45" width="30.9" height="1.7" fill="#000"/>
<clipPath id="b19"><path d="M140.4,583.7L144.2,583.7Q148.4,583.7 148.4,587.9L148.4,592.41Q148.4,594.21 147,594.41Q148.4,594.61 148.4,596.41L148.4,601.9Q148.4,606.1 144.2,606.1L140.4,606.1Q136.2,606.1 136.2,601.9L136.2,596.41Q136.2,594.61 137.6,594.41Q136.2,594.21 136.2,592.41L136.2,587.9Q136.2,583.7 140.4,583.7Z"/></clipPath>
<g clip-path="url(#b19)">
<rect x="134.8" y="582.3" width="15" height="25.2" fill="url(#gW)"/>
<rect x="134.8" y="583.3" width="15" height="8.38" fill="url(#gG)"/>
<rect x="134.8" y="591.68" width="15" height="5.65" fill="#000"/>
<rect x="134.8" y="597.34" width="15" height="9.16" fill="url(#gG)"/>
</g>
<path d="M140.4,583.7L144.2,583.7Q148.4,583.7 148.4,587.9L148.4,592.41Q148.4,594.21 147,594.41Q148.4,594.61 148.4,596.41L148.4,601.9Q148.4,606.1 144.2,606.1L140.4,606.1Q136.2,606.1 136.2,601.9L136.2,596.41Q136.2,594.61 137.6,594.41Q136.2,594.21 136.2,592.41L136.2,587.9Q136.2,583.7 140.4,583.7Z" fill="none" stroke="#222" stroke-width="0.9"/>
<line x1="138" y1="594.41" x2="146.6" y2="594.41" stroke="#1a1a1a" stroke-width="0.8"/>
<line x1="162.5" y1="587" x2="171.3" y2="587" stroke="#00e000" stroke-width="1"/>
<line x1="171.3" y1="587" x2="173.8" y2="587" stroke="#ff0000" stroke-width="1"/>
<line x1="171.3" y1="583.8" x2="171.3" y2="606.3" stroke="#987e9a" stroke-width="1.2"/>
<rect x="155.1" y="617.45" width="30.9" height="1.7" fill="#000"/>
<clipPath id="b20"><path d="M205.1,583.4L207.9,583.4Q212.1,583.4 212.1,587.6L212.1,591.11Q212.1,593.63 209.8,593.91Q212.1,594.19 212.1,596.71L212.1,602.4Q212.1,606.6 207.9,606.6L205.1,606.6Q200.9,606.6 200.9,602.4L200.9,596.71Q200.9,594.19 203.2,593.91Q200.9,593.63 200.9,591.11L200.9,587.6Q200.9,583.4 205.1,583.4Z"/></clipPath>
<g clip-path="url(#b20)">
<rect x="199.5" y="582" width="14" height="26" fill="url(#gW)"/>
<rect x="199.5" y="583" width="14" height="0.99" fill="url(#gG)"/>
<rect x="199.5" y="583.99" width="14" height="5.85" fill="#000"/>
<rect x="199.5" y="589.84" width="14" height="8.03" fill="url(#gC)"/>
<rect x="199.5" y="597.88" width="14" height="1.69" fill="#000"/>
<rect x="199.5" y="599.56" width="14" height="7.44" fill="url(#gG)"/>
</g>
<path d="M205.1,583.4L207.9,583.4Q212.1,583.4 212.1,587.6L212.1,591.11Q212.1,593.63 209.8,593.91Q212.1,594.19 212.1,596.71L212.1,602.4Q212.1,606.6 207.9,606.6L205.1,606.6Q200.9,606.6 200.9,602.4L200.9,596.71Q200.9,594.19 203.2,593.91Q200.9,593.63 200.9,591.11L200.9,587.6Q200.9,583.4 205.1,583.4Z" fill="none" stroke="#222" stroke-width="0.9"/>
<line x1="202.7" y1="593.91" x2="210.3" y2="593.91" stroke="#1a1a1a" stroke-width="0.8"/>
<line x1="235.5" y1="582.5" x2="235.5" y2="607" stroke="#987e9a" stroke-width="1.2"/>
<rect x="219.15" y="617.45" width="30.9" height="1.7" fill="#000"/>
<clipPath id="b21"><path d="M268.4,590.4L272.4,590.4Q276.6,590.4 276.6,594.6L276.6,591.21Q276.6,593.73 274.3,594.01Q276.6,594.29 276.6,596.81L276.6,600.9Q276.6,605.1 272.4,605.1L268.4,605.1Q264.2,605.1 264.2,600.9L264.2,596.81Q264.2,594.29 266.5,594.01Q264.2,593.73 264.2,591.21L264.2,594.6Q264.2,590.4 268.4,590.4Z"/></clipPath>
<g clip-path="url(#b21)">
<rect x="262.8" y="589" width="15.2" height="17.5" fill="url(#gW)"/>
<rect x="262.8" y="590" width="15.2" height="1.13" fill="#000"/>
<rect x="262.8" y="592.87" width="15.2" height="1.13" fill="#000"/>
<rect x="262.8" y="594.96" width="15.2" height="5.05" fill="#000"/>
<rect x="262.8" y="600.01" width="15.2" height="5.49" fill="url(#gG)"/>
</g>
<path d="M268.4,590.4L272.4,590.4Q276.6,590.4 276.6,594.6L276.6,591.21Q276.6,593.73 274.3,594.01Q276.6,594.29 276.6,596.81L276.6,600.9Q276.6,605.1 272.4,605.1L268.4,605.1Q264.2,605.1 264.2,600.9L264.2,596.81Q264.2,594.29 266.5,594.01Q264.2,593.73 264.2,591.21L264.2,594.6Q264.2,590.4 268.4,590.4Z" fill="none" stroke="#222" stroke-width="0.9"/>
<line x1="266" y1="594.01" x2="274.8" y2="594.01" stroke="#1a1a1a" stroke-width="0.8"/>
<line x1="299.3" y1="589.5" x2="299.3" y2="606.3" stroke="#987e9a" stroke-width="1.2"/>
<rect x="283.2" y="617.45" width="30.9" height="1.7" fill="#000"/>
<clipPath id="b22"><path d="M332.6,589.9L336.7,589.9Q340.9,589.9 340.9,594.1L340.9,589.8Q340.9,592.32 338.6,592.6Q340.9,592.88 340.9,595.4L340.9,601.7Q340.9,605.9 336.7,605.9L332.6,605.9Q328.4,605.9 328.4,601.7L328.4,595.4Q328.4,592.88 330.7,592.6Q328.4,592.32 328.4,589.8L328.4,594.1Q328.4,589.9 332.6,589.9Z"/></clipPath>
<g clip-path="url(#b22)">
<rect x="327" y="588.5" width="15.3" height="18.8" fill="url(#gW)"/>
<rect x="327" y="589.5" width="15.3" height="2.47" fill="#000"/>
<rect x="327" y="593.7" width="15.3" height="4.2" fill="url(#gC)"/>
<rect x="327" y="597.9" width="15.3" height="4.2" fill="#000"/>
<rect x="327" y="602.1" width="15.3" height="4.2" fill="url(#gG)"/>
</g>
<path d="M332.6,589.9L336.7,589.9Q340.9,589.9 340.9,594.1L340.9,589.8Q340.9,592.32 338.6,592.6Q340.9,592.88 340.9,595.4L340.9,601.7Q340.9,605.9 336.7,605.9L332.6,605.9Q328.4,605.9 328.4,601.7L328.4,595.4Q328.4,592.88 330.7,592.6Q328.4,592.32 328.4,589.8L328.4,594.1Q328.4,589.9 332.6,589.9Z" fill="none" stroke="#222" stroke-width="0.9"/>
<line x1="330.2" y1="592.6" x2="339.1" y2="592.6" stroke="#1a1a1a" stroke-width="0.8"/>
<line x1="357.5" y1="596.3" x2="363.8" y2="596.3" stroke="#00e000" stroke-width="1"/>
<line x1="363.8" y1="588.8" x2="363.8" y2="606.3" stroke="#987e9a" stroke-width="1.2"/>
<rect x="347.25" y="617.45" width="30.9" height="1.7" fill="#000"/>
</g>
<g filter="url(#tb)">
<text x="11.7" y="139" textLength="16.9" lengthAdjust="spacingAndGlyphs">-0.25</text>
<text x="43" y="139" textLength="17.8" lengthAdjust="spacingAndGlyphs">+0.25</text>
<text x="7.6" y="125.5" textLength="4.25" lengthAdjust="spacingAndGlyphs">1</text>
<text x="77.2" y="139" textLength="16.9" lengthAdjust="spacingAndGlyphs">-0.25</text>
<text x="108.5" y="139" textLength="17.8" lengthAdjust="spacingAndGlyphs">+0.25</text>
<text x="73.1" y="125.5" textLength="4.25" lengthAdjust="spacingAndGlyphs">2</text>
<text x="142.7" y="139" textLength="16.9" lengthAdjust="spacingAndGlyphs">-0.25</text>
<text x="174" y="139" textLength="17.8" lengthAdjust="spacingAndGlyphs">+0.25</text>
<text x="138.6" y="125.5" textLength="4.25" lengthAdjust="spacingAndGlyphs">3</text>
<text x="208.2" y="139" textLength="16.9" lengthAdjust="spacingAndGlyphs">-0.25</text>
<text x="239.5" y="139" textLength="17.8" lengthAdjust="spacingAndGlyphs">+0.25</text>
<text x="204.1" y="125.5" textLength="4.25" lengthAdjust="spacingAndGlyphs">4</text>
<text x="273.7" y="139" textLength="16.9" lengthAdjust="spacingAndGlyphs">-0.25</text>
<text x="305" y="139" textLength="17.8" lengthAdjust="spacingAndGlyphs">+0.25</text>
<text x="269.6" y="125.5" textLength="4.25" lengthAdjust="spacingAndGlyphs">5</text>
<text x="339.2" y="139" textLength="16.9" lengthAdjust="spacingAndGlyphs">-0.25</text>
<text x="370.5" y="139" textLength="17.8" lengthAdjust="spacingAndGlyphs">+0.25</text>
<text x="335.1" y="125.5" textLength="4.25" lengthAdjust="spacingAndGlyphs">6</text>
<text x="404.7" y="139" textLength="16.9" lengthAdjust="spacingAndGlyphs">-0.25</text>
<text x="436" y="139" textLength="17.8" lengthAdjust="spacingAndGlyphs">+0.25</text>
<text x="400.6" y="125.5" textLength="4.25" lengthAdjust="spacingAndGlyphs">7</text>
<text x="470.2" y="139" textLength="16.9" lengthAdjust="spacingAndGlyphs">-0.25</text>
<text x="501.5" y="139" textLength="17.8" lengthAdjust="spacingAndGlyphs">+0.25</text>
<text x="466.1" y="125.5" textLength="4.25" lengthAdjust="spacingAndGlyphs">8</text>
<text x="11.7" y="232.8" textLength="16.9" lengthAdjust="spacingAndGlyphs">-0.25</text>
<text x="43" y="232.8" textLength="17.8" lengthAdjust="spacingAndGlyphs">+0.25</text>
<text x="7.6" y="218.6" textLength="4.25" lengthAdjust="spacingAndGlyphs">9</text>
<text x="77.2" y="232.8" textLength="16.9" lengthAdjust="spacingAndGlyphs">-0.25</text>
<text x="108.5" y="232.8" textLength="17.8" lengthAdjust="spacingAndGlyphs">+0.25</text>
<text x="73.45" y="218.6" textLength="8.9" lengthAdjust="spacingAndGlyphs">10</text>
<text x="142.7" y="232.8" textLength="16.9" lengthAdjust="spacingAndGlyphs">-0.25</text>
<text x="174" y="232.8" textLength="17.8" lengthAdjust="spacingAndGlyphs">+0.25</text>
<text x="138.95" y="218.6" textLength="8.9" lengthAdjust="spacingAndGlyphs">11</text>
<text x="208.2" y="232.8" textLength="16.9" lengthAdjust="spacingAndGlyphs">-0.25</text>
<text x="239.5" y="232.8" textLength="17.8" lengthAdjust="spacingAndGlyphs">+0.25</text>
<text x="204.45" y="218.6" textLength="8.9" lengthAdjust="spacingAndGlyphs">12</text>
<text x="273.7" y="232.8" textLength="16.9" lengthAdjust="spacingAndGlyphs">-0.25</text>
<text x="305" y="232.8" textLength="17.8" lengthAdjust="spacingAndGlyphs">+0.25</text>
<text x="269.95" y="218.6" textLength="8.9" lengthAdjust="spacingAndGlyphs">13</text>
<text x="339.2" y="232.8" textLength="16.9" lengthAdjust="spacingAndGlyphs">-0.25</text>
<text x="370.5" y="232.8" textLength="17.8" lengthAdjust="spacingAndGlyphs">+0.25</text>
<text x="335.45" y="218.6" textLength="8.9" lengthAdjust="spacingAndGlyphs">14</text>
<text x="404.7" y="232.8" textLength="16.9" lengthAdjust="spacingAndGlyphs">-0.25</text>
<text x="436" y="232.8" textLength="17.8" lengthAdjust="spacingAndGlyphs">+0.25</text>
<text x="400.95" y="218.6" textLength="8.9" lengthAdjust="spacingAndGlyphs">15</text>
<text x="470.2" y="232.8" textLength="16.9" lengthAdjust="spacingAndGlyphs">-0.25</text>
<text x="501.5" y="232.8" textLength="17.8" lengthAdjust="spacingAndGlyphs">+0.25</text>
<text x="466.45" y="218.6" textLength="8.9" lengthAdjust="spacingAndGlyphs">16</text>
<text x="11.7" y="306.3" textLength="16.9" lengthAdjust="spacingAndGlyphs">-0.25</text>
<text x="43" y="306.3" textLength="17.8" lengthAdjust="spacingAndGlyphs">+0.25</text>
<text x="7.95" y="291.9" textLength="8.9" lengthAdjust="spacingAndGlyphs">17</text>
<text x="77.2" y="306.3" textLength="16.9" lengthAdjust="spacingAndGlyphs">-0.25</text>
<text x="108.5" y="306.3" textLength="17.8" lengthAdjust="spacingAndGlyphs">+0.25</text>
<text x="73.45" y="291.9" textLength="8.9" lengthAdjust="spacingAndGlyphs">18</text>
<text x="142.7" y="306.3" textLength="16.9" lengthAdjust="spacingAndGlyphs">-0.25</text>
<text x="174" y="306.3" textLength="17.8" lengthAdjust="spacingAndGlyphs">+0.25</text>
<text x="138.95" y="291.9" textLength="8.9" lengthAdjust="spacingAndGlyphs">19</text>
<text x="208.2" y="306.3" textLength="16.9" lengthAdjust="spacingAndGlyphs">-0.25</text>
<text x="239.5" y="306.3" textLength="17.8" lengthAdjust="spacingAndGlyphs">+0.25</text>
<text x="204.45" y="291.9" textLength="8.9" lengthAdjust="spacingAndGlyphs">20</text>
<text x="273.7" y="306.3" textLength="16.9" lengthAdjust="spacingAndGlyphs">-0.25</text>
<text x="305" y="306.3" textLength="17.8" lengthAdjust="spacingAndGlyphs">+0.25</text>
<text x="269.95" y="291.9" textLength="8.9" lengthAdjust="spacingAndGlyphs">21</text>
<text x="339.2" y="306.3" textLength="16.9" lengthAdjust="spacingAndGlyphs">-0.25</text>
<text x="370.5" y="306.3" textLength="17.8" lengthAdjust="spacingAndGlyphs">+0.25</text>
<text x="335.45" y="291.9" textLength="8.9" lengthAdjust="spacingAndGlyphs">22</text>
<text x="0.4" y="339.3" style="font-size:16.6px;font-weight:bold;fill:#000;stroke:#000;stroke-width:0.3px">B</text>
<text x="15.9" y="464.4" textLength="16.9" lengthAdjust="spacingAndGlyphs">-0.25</text>
<text x="46.7" y="464.4" textLength="17.8" lengthAdjust="spacingAndGlyphs">+0.25</text>
<text x="12.1" y="451.8" textLength="4.25" lengthAdjust="spacingAndGlyphs">1</text>
<text x="79.95" y="464.4" textLength="16.9" lengthAdjust="spacingAndGlyphs">-0.25</text>
<text x="110.75" y="464.4" textLength="17.8" lengthAdjust="spacingAndGlyphs">+0.25</text>
<text x="76.2" y="451.8" textLength="4.25" lengthAdjust="spacingAndGlyphs">2</text>
<text x="144" y="464.4" textLength="16.9" lengthAdjust="spacingAndGlyphs">-0.25</text>
<text x="174.8" y="464.4" textLength="17.8" lengthAdjust="spacingAndGlyphs">+0.25</text>
<text x="140.3" y="451.8" textLength="4.25" lengthAdjust="spacingAndGlyphs">3</text>
<text x="208.05" y="464.4" textLength="16.9" lengthAdjust="spacingAndGlyphs">-0.25</text>
<text x="238.85" y="464.4" textLength="17.8" lengthAdjust="spacingAndGlyphs">+0.25</text>
<text x="204.4" y="451.8" textLength="4.25" lengthAdjust="spacingAndGlyphs">4</text>
<text x="272.1" y="464.4" textLength="16.9" lengthAdjust="spacingAndGlyphs">-0.25</text>
<text x="302.9" y="464.4" textLength="17.8" lengthAdjust="spacingAndGlyphs">+0.25</text>
<text x="268.5" y="451.8" textLength="4.25" lengthAdjust="spacingAndGlyphs">5</text>
<text x="336.15" y="464.4" textLength="16.9" lengthAdjust="spacingAndGlyphs">-0.25</text>
<text x="366.95" y="464.4" textLength="17.8" lengthAdjust="spacingAndGlyphs">+0.25</text>
<text x="332.6" y="451.8" textLength="4.25" lengthAdjust="spacingAndGlyphs">6</text>
<text x="400.2" y="464.4" textLength="16.9" lengthAdjust="spacingAndGlyphs">-0.25</text>
<text x="431" y="464.4" textLength="17.8" lengthAdjust="spacingAndGlyphs">+0.25</text>
<text x="396.7" y="451.8" textLength="4.25" lengthAdjust="spacingAndGlyphs">7</text>
<text x="464.25" y="464.4" textLength="16.9" lengthAdjust="spacingAndGlyphs">-0.25</text>
<text x="495.05" y="464.4" textLength="17.8" lengthAdjust="spacingAndGlyphs">+0.25</text>
<text x="460.8" y="451.8" textLength="4.25" lengthAdjust="spacingAndGlyphs">8</text>
<text x="15.9" y="554.6" textLength="16.9" lengthAdjust="spacingAndGlyphs">-0.25</text>
<text x="46.7" y="554.6" textLength="17.8" lengthAdjust="spacingAndGlyphs">+0.25</text>
<text x="12.1" y="542.3" textLength="4.25" lengthAdjust="spacingAndGlyphs">9</text>
<text x="79.95" y="554.6" textLength="16.9" lengthAdjust="spacingAndGlyphs">-0.25</text>
<text x="110.75" y="554.6" textLength="17.8" lengthAdjust="spacingAndGlyphs">+0.25</text>
<text x="76.55" y="542.3" textLength="8.9" lengthAdjust="spacingAndGlyphs">10</text>
<text x="144" y="554.6" textLength="16.9" lengthAdjust="spacingAndGlyphs">-0.25</text>
<text x="174.8" y="554.6" textLength="17.8" lengthAdjust="spacingAndGlyphs">+0.25</text>
<text x="140.65" y="542.3" textLength="8.9" lengthAdjust="spacingAndGlyphs">11</text>
<text x="208.05" y="554.6" textLength="16.9" lengthAdjust="spacingAndGlyphs">-0.25</text>
<text x="238.85" y="554.6" textLength="17.8" lengthAdjust="spacingAndGlyphs">+0.25</text>
<text x="204.75" y="542.3" textLength="8.9" lengthAdjust="spacingAndGlyphs">12</text>
<text x="272.1" y="554.6" textLength="16.9" lengthAdjust="spacingAndGlyphs">-0.25</text>
<text x="302.9" y="554.6" textLength="17.8" lengthAdjust="spacingAndGlyphs">+0.25</text>
<text x="268.85" y="542.3" textLength="8.9" lengthAdjust="spacingAndGlyphs">13</text>
<text x="336.15" y="554.6" textLength="16.9" lengthAdjust="spacingAndGlyphs">-0.25</text>
<text x="366.95" y="554.6" textLength="17.8" lengthAdjust="spacingAndGlyphs">+0.25</text>
<text x="332.95" y="542.3" textLength="8.9" lengthAdjust="spacingAndGlyphs">14</text>
<text x="400.2" y="554.6" textLength="16.9" lengthAdjust="spacingAndGlyphs">-0.25</text>
<text x="431" y="554.6" textLength="17.8" lengthAdjust="spacingAndGlyphs">+0.25</text>
<text x="397.05" y="542.3" textLength="8.9" lengthAdjust="spacingAndGlyphs">15</text>
<text x="464.25" y="554.6" textLength="16.9" lengthAdjust="spacingAndGlyphs">-0.25</text>
<text x="495.05" y="554.6" textLength="17.8" lengthAdjust="spacingAndGlyphs">+0.25</text>
<text x="461.15" y="542.3" textLength="8.9" lengthAdjust="spacingAndGlyphs">16</text>
<text x="15.9" y="628.7" textLength="16.9" lengthAdjust="spacingAndGlyphs">-0.25</text>
<text x="46.7" y="628.7" textLength="17.8" lengthAdjust="spacingAndGlyphs">+0.25</text>
<text x="12.45" y="613.6" textLength="8.9" lengthAdjust="spacingAndGlyphs">17</text>
<text x="79.95" y="628.7" textLength="16.9" lengthAdjust="spacingAndGlyphs">-0.25</text>
<text x="110.75" y="628.7" textLength="17.8" lengthAdjust="spacingAndGlyphs">+0.25</text>
<text x="76.55" y="613.6" textLength="8.9" lengthAdjust="spacingAndGlyphs">18</text>
<text x="144" y="628.7" textLength="16.9" lengthAdjust="spacingAndGlyphs">-0.25</text>
<text x="174.8" y="628.7" textLength="17.8" lengthAdjust="spacingAndGlyphs">+0.25</text>
<text x="140.65" y="613.6" textLength="8.9" lengthAdjust="spacingAndGlyphs">19</text>
<text x="208.05" y="628.7" textLength="16.9" lengthAdjust="spacingAndGlyphs">-0.25</text>
<text x="238.85" y="628.7" textLength="17.8" lengthAdjust="spacingAndGlyphs">+0.25</text>
<text x="204.75" y="613.6" textLength="8.9" lengthAdjust="spacingAndGlyphs">20</text>
<text x="272.1" y="628.7" textLength="16.9" lengthAdjust="spacingAndGlyphs">-0.25</text>
<text x="302.9" y="628.7" textLength="17.8" lengthAdjust="spacingAndGlyphs">+0.25</text>
<text x="268.85" y="613.6" textLength="8.9" lengthAdjust="spacingAndGlyphs">21</text>
<text x="336.15" y="628.7" textLength="16.9" lengthAdjust="spacingAndGlyphs">-0.25</text>
<text x="366.95" y="628.7" textLength="17.8" lengthAdjust="spacingAndGlyphs">+0.25</text>
<text x="332.95" y="613.6" textLength="8.9" lengthAdjust="spacingAndGlyphs">22</text>
</g>
</svg></body></html>
